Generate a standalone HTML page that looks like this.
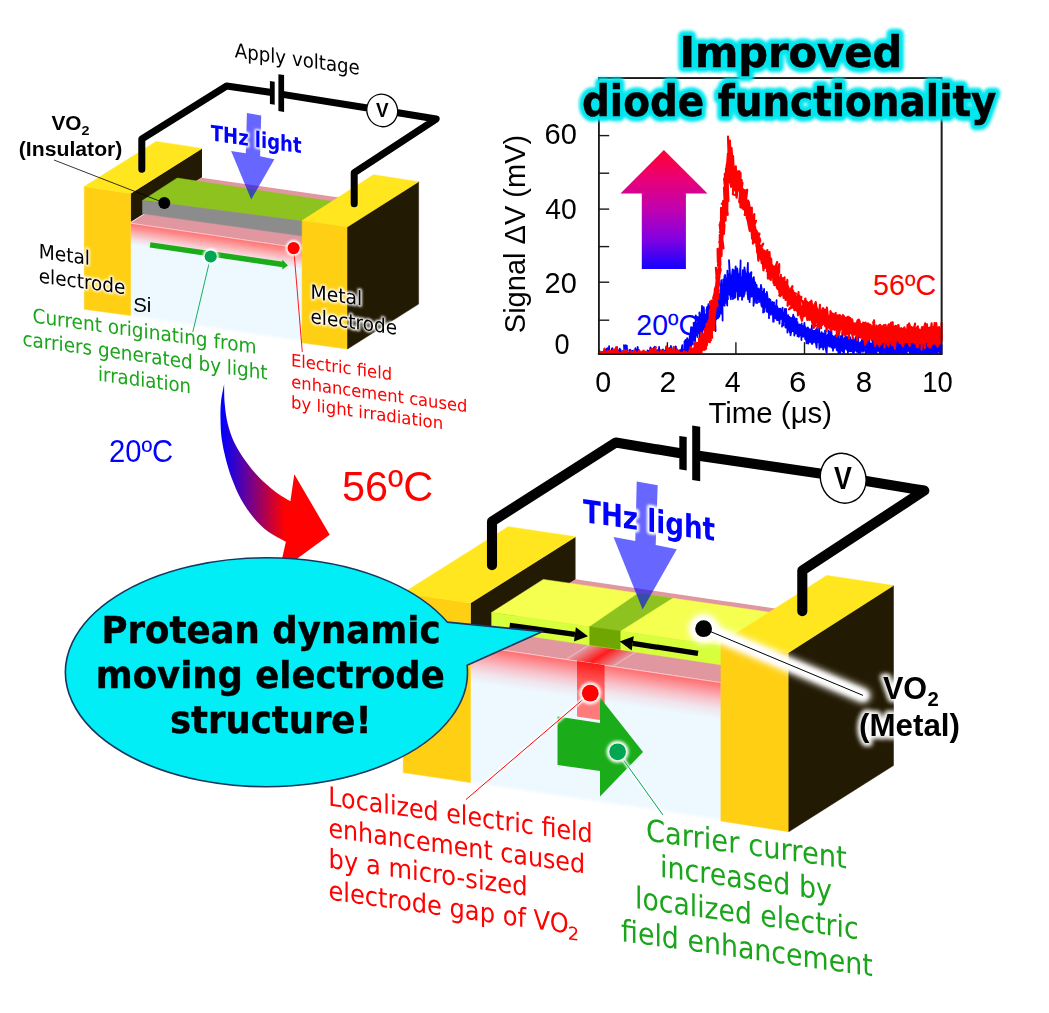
<!DOCTYPE html>
<html lang="en"><head><meta charset="utf-8"><title>Improved diode functionality</title>
<style>html,body{margin:0;padding:0;background:#fff}body{width:1049px;height:1013px;overflow:hidden}svg{display:block}</style>
</head><body>
<svg width="1049" height="1013" viewBox="0 0 1049 1013">
<defs>
<filter id="b08" x="-20%" y="-50%" width="140%" height="200%"><feGaussianBlur stdDeviation="0.8"/></filter>
<filter id="b1" x="-20%" y="-50%" width="140%" height="200%"><feGaussianBlur stdDeviation="1.2"/></filter>
<filter id="b15" x="-20%" y="-50%" width="140%" height="200%"><feGaussianBlur stdDeviation="1.5"/></filter>
<filter id="b2" x="-20%" y="-50%" width="140%" height="200%"><feGaussianBlur stdDeviation="2"/></filter>
<filter id="b3" x="-50%" y="-50%" width="200%" height="200%"><feGaussianBlur stdDeviation="3.5"/></filter>
<filter id="b5" x="-50%" y="-50%" width="200%" height="200%"><feGaussianBlur stdDeviation="5"/></filter>
<linearGradient id="gUp" x1="0" y1="0" x2="0" y2="1">
<stop offset="0" stop-color="#ff0033"/><stop offset="0.25" stop-color="#e80078"/><stop offset="0.5" stop-color="#c000b0"/><stop offset="0.75" stop-color="#8200e0"/><stop offset="1" stop-color="#1400ff"/>
</linearGradient>
<linearGradient id="gCurve" gradientUnits="userSpaceOnUse" x1="221.5" y1="0" x2="285" y2="0">
<stop offset="0" stop-color="#0000ff"/><stop offset="1" stop-color="#ff0000"/>
</linearGradient>
<linearGradient id="gSi" x1="0" y1="0" x2="0" y2="1">
<stop offset="0" stop-color="#ff7070"/><stop offset="0.06" stop-color="#fe9494"/><stop offset="0.115" stop-color="#fab8bd"/><stop offset="0.17" stop-color="#f4dce2"/><stop offset="0.225" stop-color="#edf8ff"/><stop offset="0.95" stop-color="#edf8ff"/><stop offset="1" stop-color="#ffffff"/>
</linearGradient>
<linearGradient id="gSi2" x1="0" y1="0" x2="0" y2="1">
<stop offset="0" stop-color="#ff6a6a"/><stop offset="0.07" stop-color="#fb9aa0"/><stop offset="0.13" stop-color="#f7c2ca"/><stop offset="0.195" stop-color="#f1e4ec"/><stop offset="0.265" stop-color="#edf8ff"/><stop offset="0.965" stop-color="#edf8ff"/><stop offset="1" stop-color="#ffffff"/>
</linearGradient>
<linearGradient id="gBand" x1="0" y1="0" x2="0" y2="1">
<stop offset="0" stop-color="#ff1a1a"/><stop offset="0.35" stop-color="#ff5a5a"/><stop offset="1" stop-color="#ff7070"/>
</linearGradient>
<linearGradient id="gGap" x1="0" y1="0" x2="1" y2="0">
<stop offset="0" stop-color="#ff2020" stop-opacity="0"/><stop offset="0.12" stop-color="#ff2020" stop-opacity="0.05"/><stop offset="0.5" stop-color="#ff1a1a" stop-opacity="1"/><stop offset="0.88" stop-color="#ff2020" stop-opacity="0.05"/><stop offset="1" stop-color="#ff2020" stop-opacity="0"/>
</linearGradient>
</defs>
<rect width="1049" height="1013" fill="#fff"/>
<g opacity="0.999">
<rect x="598.8" y="78.1" width="342.8" height="276.1" fill="#fff" stroke="#1a1a1a" stroke-width="1.6"/>
<line x1="598.8" y1="135.6" x2="609.1999999999999" y2="135.6" stroke="#1a1a1a" stroke-width="1.4"/>
<line x1="598.8" y1="173.2" x2="609.1999999999999" y2="173.2" stroke="#1a1a1a" stroke-width="1.4"/>
<line x1="598.8" y1="209.1" x2="609.1999999999999" y2="209.1" stroke="#1a1a1a" stroke-width="1.4"/>
<line x1="598.8" y1="246.6" x2="609.1999999999999" y2="246.6" stroke="#1a1a1a" stroke-width="1.4"/>
<line x1="598.8" y1="282.2" x2="609.1999999999999" y2="282.2" stroke="#1a1a1a" stroke-width="1.4"/>
<line x1="598.8" y1="320.2" x2="609.1999999999999" y2="320.2" stroke="#1a1a1a" stroke-width="1.4"/>
<line x1="667.4" y1="354.2" x2="667.4" y2="342.2" stroke="#1a1a1a" stroke-width="1.4"/>
<line x1="735.9" y1="354.2" x2="735.9" y2="342.2" stroke="#1a1a1a" stroke-width="1.4"/>
<line x1="804.5" y1="354.2" x2="804.5" y2="342.2" stroke="#1a1a1a" stroke-width="1.4"/>
<line x1="873.0" y1="354.2" x2="873.0" y2="342.2" stroke="#1a1a1a" stroke-width="1.4"/>
<polygon points="663.9,150.1 707.5,193.4 685.9,193.4 685.9,268.9 641.8,268.9 641.8,193.4 620.5,193.4" fill="url(#gUp)" />
<g transform="matrix(1,0.0000,0,1,636.3,334.6)">
<text font-family="'Liberation Sans','DejaVu Sans',sans-serif" font-size="28.6" font-weight="normal" text-anchor="start" textLength="62.7" lengthAdjust="spacingAndGlyphs" fill="#0000ff" >20ºC</text>
</g>
<path d="M598.8 353.8 L598.9 352.0 L599.0 352.6 L599.1 353.8 L599.0 353.8 L598.8 353.8 L598.8 353.8 L599.2 353.8 L599.8 353.8 L600.2 353.8 L599.4 351.0 L600.4 353.8 L599.0 353.8 L600.4 353.8 L599.4 353.8 L600.2 353.8 L599.6 353.8 L599.7 353.8 L600.0 353.8 L601.3 353.8 L600.1 353.8 L601.0 353.8 L600.8 353.8 L601.0 353.8 L601.0 353.8 L601.3 353.8 L600.3 353.8 L601.1 353.8 L601.4 353.8 L601.0 353.8 L601.6 353.8 L600.9 353.8 L602.0 353.8 L601.2 353.8 L601.6 353.8 L602.3 353.8 L602.5 353.8 L601.6 353.5 L601.7 353.8 L602.7 353.8 L600.9 353.8 L603.1 353.8 L603.2 353.2 L601.9 353.8 L603.3 353.8 L602.9 353.8 L603.0 353.8 L601.5 353.8 L602.6 353.8 L602.9 353.8 L602.9 351.8 L603.0 353.8 L603.1 353.8 L602.0 353.8 L603.3 353.8 L603.1 353.8 L603.6 353.8 L603.4 353.8 L603.8 353.8 L604.0 353.8 L605.0 353.8 L603.5 353.8 L605.1 353.8 L604.1 353.8 L603.8 353.8 L603.5 353.8 L605.0 353.8 L603.7 353.8 L605.2 353.8 L604.9 353.8 L604.5 353.3 L604.5 353.8 L605.3 353.8 L605.2 353.8 L605.6 352.4 L605.2 349.9 L605.0 353.8 L605.7 353.8 L604.8 353.8 L606.1 353.8 L605.7 353.8 L605.1 352.4 L605.2 353.8 L605.7 353.8 L604.9 352.2 L606.9 353.8 L606.7 353.8 L605.6 353.8 L606.3 353.8 L607.4 351.2 L606.8 348.7 L606.0 353.8 L605.4 353.8 L605.8 353.8 L607.6 350.9 L607.1 353.8 L606.3 353.8 L607.5 353.8 L607.0 353.8 L606.9 353.8 L607.1 353.8 L607.2 353.8 L608.5 353.8 L607.1 353.8 L607.5 353.8 L608.6 353.8 L608.8 353.8 L607.4 352.7 L609.3 353.8 L608.8 353.8 L607.3 352.1 L609.4 353.8 L607.5 348.3 L608.9 353.8 L607.9 353.8 L607.6 353.8 L609.2 352.1 L609.1 346.1 L608.9 353.8 L609.1 353.8 L609.0 353.8 L609.0 353.8 L608.6 353.8 L609.7 353.8 L609.4 353.8 L609.4 353.2 L609.3 353.8 L609.5 353.8 L608.9 353.8 L609.7 353.8 L609.4 353.8 L610.8 353.8 L609.5 353.8 L609.9 353.8 L610.3 353.8 L610.8 353.8 L610.7 352.1 L610.6 353.8 L611.9 353.6 L610.7 353.8 L611.0 353.8 L612.2 353.8 L610.4 353.8 L611.6 353.8 L611.4 353.8 L610.4 353.8 L610.9 353.8 L611.9 353.8 L610.6 353.8 L611.5 353.8 L612.2 353.8 L611.6 353.3 L612.0 353.8 L611.5 353.8 L611.6 353.8 L611.7 348.8 L612.0 353.8 L612.6 349.7 L612.4 348.2 L613.6 353.8 L612.8 353.8 L612.8 353.8 L614.0 353.8 L612.7 353.8 L612.4 353.8 L613.0 353.8 L612.4 353.8 L613.4 353.8 L614.0 353.8 L613.7 353.8 L613.1 353.8 L613.4 353.8 L613.8 353.8 L614.3 353.8 L613.5 353.8 L613.6 353.8 L614.5 353.8 L614.1 353.8 L614.3 353.8 L614.4 353.8 L613.8 353.8 L614.2 353.8 L615.0 353.8 L614.4 353.8 L614.5 353.8 L614.8 353.8 L615.0 353.8 L616.1 353.8 L614.4 353.8 L615.1 353.8 L616.3 353.8 L615.2 353.8 L615.5 352.2 L614.5 353.8 L616.0 353.8 L616.0 353.8 L616.1 353.8 L615.6 349.9 L616.0 353.8 L615.8 353.8 L616.5 353.8 L616.0 353.8 L616.6 353.8 L615.4 353.7 L616.1 353.8 L615.1 353.8 L616.4 353.8 L617.0 353.8 L616.5 353.8 L618.0 353.8 L616.2 353.8 L616.7 353.8 L616.4 353.8 L616.8 353.8 L616.9 353.8 L616.4 353.8 L616.7 350.3 L618.6 353.8 L617.3 353.8 L618.1 353.8 L616.9 353.8 L617.7 353.8 L618.2 353.8 L617.8 353.8 L617.7 353.8 L618.0 353.8 L618.2 353.8 L618.8 353.8 L619.1 353.8 L617.6 353.8 L617.3 353.8 L618.5 350.5 L618.7 353.8 L619.2 353.3 L619.5 353.8 L618.6 353.8 L620.3 353.8 L619.3 353.8 L618.1 353.8 L619.9 353.8 L619.5 353.8 L619.6 353.8 L618.6 353.8 L619.5 353.8 L619.8 353.8 L619.7 353.8 L620.3 353.8 L620.7 350.2 L621.0 353.8 L620.9 353.8 L620.1 353.8 L621.3 353.8 L620.6 353.5 L621.0 353.8 L620.4 353.8 L619.8 348.7 L619.4 353.8 L620.9 353.8 L620.5 353.8 L621.0 352.4 L621.6 353.8 L620.3 353.8 L620.2 351.1 L621.5 353.8 L621.7 353.8 L621.4 353.8 L621.3 353.8 L620.7 352.6 L621.7 353.8 L621.4 353.8 L622.2 353.8 L622.6 353.8 L621.8 353.8 L622.5 353.8 L622.4 353.8 L622.8 353.8 L623.4 353.8 L622.9 353.8 L623.1 353.8 L623.2 353.8 L622.5 352.8 L622.9 353.8 L623.2 353.8 L623.8 353.8 L623.9 353.8 L624.6 353.8 L622.7 351.1 L623.4 353.8 L622.5 353.8 L623.3 353.8 L622.7 353.8 L624.4 353.8 L624.3 353.8 L623.3 353.8 L624.2 353.8 L624.5 352.1 L625.2 353.8 L624.8 353.8 L624.4 353.8 L624.4 353.8 L624.9 353.8 L624.8 353.8 L624.4 353.8 L624.0 345.2 L625.5 353.8 L624.5 353.8 L624.9 353.8 L625.6 353.8 L625.2 353.8 L626.0 353.8 L624.7 353.8 L625.9 353.8 L624.8 350.6 L624.7 353.8 L625.1 353.8 L625.9 345.2 L625.5 353.8 L625.2 353.8 L626.8 353.8 L625.6 353.8 L626.2 353.8 L626.5 353.8 L626.1 353.8 L626.7 353.8 L626.9 345.8 L626.6 352.4 L627.4 353.8 L626.5 353.8 L626.3 353.8 L627.1 353.8 L626.5 353.8 L627.4 349.2 L627.2 353.8 L627.1 353.8 L627.8 353.8 L627.8 353.8 L626.3 353.8 L627.5 352.3 L627.9 353.8 L628.2 353.8 L627.6 352.4 L627.3 353.8 L628.2 353.8 L628.6 353.8 L627.1 353.8 L627.5 353.8 L628.1 353.8 L627.2 353.6 L628.3 353.8 L629.2 353.8 L628.2 353.5 L629.0 353.8 L628.4 353.8 L629.3 353.8 L629.5 353.8 L630.0 353.8 L629.4 350.7 L630.0 349.6 L629.7 351.6 L629.3 353.8 L630.5 353.8 L629.4 353.8 L629.9 353.8 L631.2 353.8 L630.5 353.8 L629.6 353.8 L630.3 353.8 L629.9 353.8 L630.3 353.8 L629.5 353.8 L630.6 353.8 L629.7 353.8 L630.9 353.8 L631.0 353.8 L631.4 353.8 L632.3 353.8 L630.0 353.8 L630.4 353.8 L630.6 350.1 L630.9 353.8 L631.9 353.7 L631.3 353.8 L631.2 353.8 L631.0 353.8 L631.3 353.8 L631.5 353.8 L631.8 353.8 L631.1 353.8 L632.0 353.8 L632.5 353.8 L632.4 350.8 L631.6 353.8 L632.9 353.8 L633.0 353.8 L632.8 353.8 L631.9 353.8 L631.9 353.8 L632.9 351.0 L632.3 353.8 L632.2 353.8 L633.6 353.8 L633.7 353.8 L633.6 353.8 L634.1 353.8 L634.0 353.8 L632.8 353.8 L634.3 353.8 L633.8 353.8 L634.0 353.8 L634.8 353.8 L634.2 351.5 L635.0 353.8 L634.2 352.4 L634.0 353.8 L633.9 353.8 L634.3 353.8 L633.5 353.8 L634.5 353.8 L634.6 353.8 L634.4 353.8 L633.5 353.8 L633.6 353.8 L635.4 353.8 L634.5 353.8 L636.0 353.8 L634.8 353.8 L635.5 353.8 L634.5 353.8 L635.1 353.8 L635.4 348.1 L636.0 353.8 L636.8 349.7 L636.4 353.8 L635.0 353.8 L636.0 353.8 L636.0 353.8 L635.8 352.2 L636.6 353.8 L637.3 353.8 L636.2 353.8 L637.2 353.8 L637.4 353.8 L636.1 353.8 L637.8 353.8 L637.9 353.8 L637.1 353.8 L638.1 353.5 L637.3 352.0 L637.9 353.8 L637.7 353.8 L636.9 353.8 L637.6 353.8 L637.4 353.8 L637.3 353.3 L637.0 350.4 L637.3 353.8 L637.1 353.8 L638.7 353.8 L636.9 353.8 L638.2 353.8 L637.9 353.8 L637.6 347.0 L638.8 353.8 L638.0 353.8 L639.3 353.8 L638.6 353.8 L638.9 353.8 L638.8 350.6 L639.3 353.8 L639.6 353.8 L638.8 353.8 L639.2 353.8 L640.3 353.8 L639.0 352.0 L640.5 353.8 L639.3 353.8 L639.3 353.8 L638.7 353.8 L639.3 353.8 L638.8 353.4 L639.6 353.8 L640.4 353.7 L640.1 353.8 L639.8 353.8 L639.7 353.8 L640.0 353.8 L639.6 353.8 L639.8 353.8 L641.8 353.5 L640.9 353.8 L640.3 353.8 L641.3 353.8 L641.9 353.8 L640.7 352.8 L641.1 353.8 L640.5 353.8 L640.4 353.8 L642.2 352.9 L642.8 353.8 L641.1 353.8 L640.7 353.8 L642.6 353.8 L642.5 353.8 L642.2 353.8 L642.9 353.8 L641.9 353.8 L642.3 353.8 L642.7 353.8 L642.2 353.8 L642.7 353.8 L642.4 353.5 L642.9 353.8 L642.8 353.8 L641.6 353.8 L642.9 353.8 L642.1 353.8 L642.5 353.8 L642.1 351.6 L643.7 353.8 L643.1 353.8 L643.1 353.8 L644.2 353.8 L644.0 352.4 L643.5 353.4 L642.5 353.8 L644.2 353.8 L643.7 353.8 L643.8 353.8 L644.5 353.8 L643.8 353.1 L644.2 353.8 L644.8 353.8 L644.7 353.8 L644.1 353.8 L645.4 353.8 L645.3 353.8 L645.9 353.8 L644.8 353.8 L645.0 353.8 L645.6 353.3 L645.4 353.8 L645.3 353.8 L645.2 353.8 L645.2 353.8 L645.0 353.8 L645.1 353.6 L645.8 353.2 L645.5 353.3 L644.9 353.8 L645.9 353.8 L646.9 353.3 L646.8 353.8 L644.9 353.8 L645.7 352.1 L646.8 353.8 L646.4 353.8 L646.5 353.8 L646.5 353.8 L646.7 353.8 L646.1 353.8 L647.5 353.8 L646.3 353.8 L646.9 353.8 L648.0 353.8 L647.8 353.8 L647.2 353.8 L647.3 353.8 L647.0 353.8 L647.2 353.8 L647.4 353.8 L648.5 353.8 L647.5 350.3 L648.2 353.8 L648.2 352.4 L648.3 353.8 L647.9 353.8 L648.6 353.8 L648.4 353.8 L648.4 353.8 L648.2 353.8 L647.2 352.1 L649.0 353.8 L649.2 353.8 L648.5 353.8 L648.8 351.0 L649.1 353.8 L648.5 353.8 L649.6 353.8 L649.6 353.8 L649.8 353.8 L649.9 353.8 L648.3 353.8 L649.9 353.8 L649.4 353.8 L650.4 347.5 L650.5 353.8 L650.4 353.8 L649.9 353.8 L651.4 353.8 L650.1 353.8 L649.6 350.6 L650.9 353.8 L649.6 353.8 L651.7 353.8 L651.2 353.8 L651.5 350.7 L651.4 349.1 L651.1 353.8 L650.2 350.1 L650.7 353.8 L651.5 353.8 L651.1 351.3 L651.5 353.8 L651.0 353.8 L651.0 351.2 L651.7 352.3 L652.1 353.8 L651.7 353.8 L651.2 353.8 L650.9 353.1 L653.2 353.8 L651.4 353.8 L651.6 353.8 L651.8 353.8 L652.8 353.8 L651.9 350.6 L652.8 353.8 L652.7 353.8 L652.0 353.8 L652.8 352.7 L652.1 353.8 L652.8 353.8 L653.4 353.8 L652.9 353.8 L652.6 353.8 L653.0 353.8 L653.2 353.8 L653.6 353.8 L652.2 353.8 L652.5 353.8 L654.0 353.8 L653.7 353.8 L653.8 353.8 L654.0 347.6 L653.9 353.8 L653.8 353.8 L654.2 351.5 L654.7 353.8 L654.5 353.8 L654.4 353.8 L653.9 353.8 L654.7 346.7 L654.0 353.8 L654.4 352.7 L654.9 353.8 L655.0 353.8 L655.7 353.8 L655.6 353.6 L655.5 353.8 L655.1 353.8 L655.4 353.1 L655.3 353.8 L656.6 353.0 L655.9 351.5 L655.3 353.8 L655.3 353.8 L656.6 353.8 L655.5 353.8 L656.3 353.8 L656.3 353.8 L656.9 353.8 L655.8 353.8 L656.7 353.8 L656.6 353.8 L657.0 353.8 L657.5 353.8 L656.8 353.8 L656.7 353.8 L657.4 353.8 L656.2 353.8 L657.2 350.2 L656.6 353.8 L656.5 353.8 L656.4 351.8 L656.5 350.5 L658.0 353.8 L658.1 353.8 L657.8 353.8 L658.4 353.8 L657.9 353.8 L657.7 351.0 L657.4 353.8 L658.6 353.8 L658.7 353.8 L659.0 353.8 L657.9 353.8 L658.3 353.8 L657.8 353.8 L659.3 353.8 L659.1 346.9 L659.1 353.8 L658.9 353.8 L658.9 348.6 L658.9 353.8 L659.8 353.8 L658.9 353.8 L659.9 353.8 L659.6 353.8 L658.9 353.8 L658.7 353.8 L659.2 353.8 L659.7 353.8 L659.1 353.8 L660.3 352.9 L660.7 353.8 L660.4 353.8 L659.2 348.7 L658.9 353.8 L660.9 351.3 L661.3 352.2 L660.3 353.8 L660.9 353.8 L660.5 353.8 L660.4 353.8 L661.5 353.8 L660.6 353.8 L661.6 352.7 L662.2 351.8 L661.1 353.8 L662.4 351.6 L660.6 353.8 L662.0 353.8 L661.6 353.8 L663.0 349.4 L661.8 353.8 L661.3 353.8 L662.9 353.8 L661.1 353.8 L662.3 353.8 L661.7 353.8 L663.1 353.8 L662.3 353.8 L662.9 353.8 L662.5 353.8 L661.9 353.8 L661.4 353.8 L663.8 353.8 L663.0 353.8 L662.2 353.8 L662.8 353.8 L663.7 353.8 L662.3 353.8 L664.6 353.8 L663.2 353.8 L663.2 353.8 L664.3 353.8 L663.7 353.8 L663.1 353.8 L664.3 350.7 L664.1 353.8 L664.6 353.8 L663.5 352.1 L663.5 353.8 L664.6 353.8 L664.0 353.8 L663.1 353.8 L664.1 353.8 L664.9 352.7 L664.2 353.8 L665.5 351.9 L664.5 353.8 L664.8 353.8 L664.0 353.8 L664.6 353.8 L665.0 353.8 L665.6 353.8 L665.4 353.8 L666.0 353.8 L664.2 353.8 L665.6 353.8 L665.6 353.8 L665.1 353.8 L665.8 353.8 L665.5 353.8 L666.3 346.5 L665.9 353.8 L666.5 353.8 L665.7 352.5 L667.1 352.9 L666.7 353.8 L667.6 353.8 L666.5 353.8 L666.4 353.1 L666.9 353.8 L666.6 353.8 L666.3 353.8 L667.0 352.7 L667.1 353.8 L666.8 353.8 L667.1 353.8 L666.8 348.0 L667.5 349.7 L666.7 353.8 L668.7 353.8 L667.7 353.8 L668.4 353.8 L667.2 353.8 L668.2 353.8 L668.0 353.8 L668.7 353.8 L668.8 353.8 L667.3 353.8 L669.1 353.8 L667.6 353.8 L669.4 353.8 L668.6 353.8 L668.0 353.8 L669.3 352.8 L668.9 353.8 L668.4 353.8 L668.6 353.8 L669.5 348.1 L668.4 353.8 L668.8 353.8 L670.5 353.8 L669.1 353.8 L669.8 353.8 L670.0 353.8 L670.4 353.8 L670.4 353.8 L668.6 353.8 L669.7 353.8 L670.8 353.8 L669.7 353.8 L671.4 353.8 L670.5 353.8 L669.7 353.8 L670.9 346.0 L671.8 353.8 L670.3 353.5 L671.1 349.1 L670.4 353.8 L670.6 353.8 L671.1 353.5 L671.5 350.4 L671.4 353.8 L671.4 353.8 L672.7 353.8 L670.8 353.8 L670.5 353.1 L672.0 353.8 L671.9 353.8 L671.0 353.8 L673.0 353.8 L671.6 353.8 L671.2 353.8 L672.4 353.8 L672.7 353.3 L673.7 353.8 L671.5 353.8 L671.8 353.8 L672.4 351.4 L672.4 353.8 L672.7 353.8 L672.4 353.8 L672.0 353.8 L672.8 353.0 L673.6 353.8 L673.7 353.8 L672.9 353.8 L673.7 353.8 L673.7 353.8 L673.3 348.2 L673.4 353.8 L673.8 353.8 L675.1 353.8 L674.0 353.8 L673.4 353.8 L674.0 353.8 L673.8 353.7 L674.9 353.8 L673.0 353.8 L673.7 353.8 L675.0 353.8 L674.8 353.8 L674.7 353.8 L675.2 353.8 L674.0 351.7 L675.1 353.8 L674.3 353.8 L674.3 351.7 L675.5 353.8 L674.8 353.8 L675.1 353.8 L675.8 353.8 L674.9 352.5 L676.0 348.1 L677.0 353.8 L675.7 346.5 L676.5 350.9 L676.4 353.8 L675.3 353.8 L675.3 346.7 L676.2 353.8 L675.0 353.8 L676.4 353.8 L676.6 353.8 L676.8 353.8 L676.9 353.8 L677.5 353.8 L676.6 353.8 L677.7 353.8 L677.3 352.1 L677.4 353.8 L677.1 353.8 L677.8 353.8 L676.9 353.8 L677.9 353.8 L678.2 353.8 L677.2 353.8 L677.1 353.8 L677.3 353.8 L677.8 353.8 L678.2 353.8 L678.6 353.8 L679.3 353.8 L679.2 353.8 L678.4 353.8 L678.1 353.8 L677.7 353.8 L679.0 353.8 L678.9 353.8 L678.5 353.8 L678.7 353.8 L678.8 353.8 L677.6 353.8 L679.0 353.8 L679.3 353.8 L679.1 353.8 L678.7 353.8 L679.4 351.6 L679.8 353.8 L680.7 353.8 L680.3 352.3 L680.1 353.8 L679.8 353.8 L679.1 353.8 L679.7 352.9 L679.2 353.8 L680.1 353.8 L680.9 353.8 L681.0 350.3 L681.0 350.9 L680.5 352.8 L681.2 353.8 L680.5 352.5 L679.6 353.8 L680.9 353.8 L681.0 350.0 L680.0 353.8 L680.8 353.8 L679.9 350.2 L681.0 353.8 L682.1 353.2 L681.1 353.8 L682.3 353.8 L681.8 353.8 L681.3 353.8 L680.7 353.8 L682.3 345.1 L682.4 353.8 L681.1 353.8 L681.9 349.8 L682.9 353.8 L681.9 352.5 L682.6 353.8 L681.3 353.8 L682.0 353.8 L683.1 352.1 L682.0 353.6 L681.9 353.8 L682.1 353.8 L682.8 353.8 L682.1 350.5 L683.1 351.9 L683.6 351.9 L684.3 353.8 L683.2 353.8 L684.5 353.8 L683.9 353.8 L683.5 353.8 L684.1 351.5 L684.8 353.8 L684.8 353.8 L684.5 353.8 L684.1 352.1 L684.7 352.4 L684.4 353.0 L684.5 341.4 L684.6 353.7 L685.6 351.7 L683.9 353.8 L684.7 353.8 L684.1 349.5 L685.4 349.1 L685.6 352.6 L685.9 349.8 L684.9 351.4 L685.3 353.8 L685.8 353.8 L685.5 339.9 L685.7 347.1 L685.7 351.4 L685.8 353.8 L685.7 353.8 L686.1 344.1 L685.0 353.8 L685.7 352.2 L685.3 346.2 L686.1 349.7 L685.8 346.6 L686.7 350.8 L687.2 338.2 L685.8 353.8 L686.1 353.8 L686.9 348.4 L687.6 342.6 L687.3 349.9 L687.2 344.3 L687.0 352.0 L686.8 353.8 L687.4 342.2 L687.6 341.3 L687.5 341.3 L687.1 351.0 L686.6 353.8 L687.1 353.8 L687.5 349.7 L687.1 345.5 L688.1 345.8 L687.1 353.8 L687.9 347.0 L688.4 347.7 L688.7 347.1 L688.5 347.4 L689.1 348.1 L688.1 343.9 L688.1 346.0 L689.3 345.3 L688.2 349.6 L688.7 343.9 L687.9 346.3 L689.7 353.8 L689.5 342.8 L688.7 346.3 L688.2 340.1 L689.5 345.4 L689.6 344.8 L690.2 343.0 L690.7 343.9 L689.8 345.9 L689.6 352.4 L689.7 333.9 L689.8 350.9 L689.2 344.4 L689.6 339.2 L690.1 340.3 L689.3 339.2 L689.6 337.9 L691.2 335.2 L690.1 339.8 L691.1 327.2 L691.4 346.0 L690.8 339.5 L691.4 342.2 L690.9 342.9 L690.5 338.5 L691.1 332.4 L691.3 343.1 L691.4 342.9 L691.4 335.4 L691.2 336.1 L692.2 328.7 L691.5 333.2 L691.5 337.0 L692.4 339.6 L691.3 336.6 L692.0 338.3 L693.0 344.1 L692.2 336.9 L693.1 337.6 L692.2 337.7 L692.1 338.5 L692.4 327.5 L692.3 332.3 L692.5 330.8 L692.5 338.5 L693.3 340.4 L693.2 336.4 L692.9 333.4 L692.7 336.2 L694.5 335.2 L693.2 329.1 L694.2 332.2 L692.7 338.6 L693.1 335.5 L694.4 336.4 L693.1 331.9 L693.2 338.6 L693.9 333.3 L693.5 328.6 L693.9 331.8 L694.2 336.4 L694.8 334.6 L694.4 330.6 L694.6 328.6 L695.3 326.5 L695.4 331.3 L694.4 337.1 L693.6 322.8 L694.2 328.4 L695.6 327.7 L694.7 328.1 L694.7 334.9 L694.9 331.1 L696.2 328.0 L695.4 323.9 L695.2 328.8 L695.1 343.3 L694.9 330.1 L697.0 326.9 L695.8 321.9 L696.0 324.8 L695.8 315.3 L696.7 320.8 L695.5 321.1 L695.0 323.1 L695.9 335.3 L696.6 323.4 L697.8 324.5 L696.5 330.4 L696.1 324.4 L696.6 325.2 L696.3 329.8 L696.4 327.8 L697.0 328.5 L697.2 325.7 L696.8 329.1 L697.9 323.8 L697.3 337.0 L697.5 328.0 L697.2 335.5 L697.8 328.9 L697.9 323.3 L698.2 325.9 L697.3 326.5 L698.3 325.4 L697.7 317.0 L698.2 331.7 L698.6 320.5 L699.2 333.7 L698.1 327.8 L697.8 324.2 L698.6 329.7 L699.3 323.7 L698.5 320.7 L700.1 331.3 L697.7 325.0 L699.9 326.5 L699.7 335.2 L699.8 325.2 L698.7 328.6 L700.1 316.4 L700.1 328.8 L700.2 314.1 L699.4 326.6 L699.5 312.5 L700.5 320.3 L700.0 320.7 L699.7 318.5 L699.5 317.9 L700.2 314.9 L699.3 312.9 L700.6 324.7 L700.4 329.8 L699.5 337.9 L700.8 324.6 L701.3 317.8 L700.8 319.9 L700.0 321.3 L700.5 323.9 L701.4 325.5 L700.2 323.3 L700.9 319.3 L701.9 331.8 L701.1 317.0 L701.0 329.8 L701.9 322.0 L702.5 324.7 L701.9 323.0 L700.9 327.0 L700.8 327.6 L701.7 322.1 L700.9 327.2 L702.0 306.0 L702.7 323.2 L700.9 324.6 L702.2 323.9 L702.6 327.1 L702.1 335.4 L702.8 322.1 L702.9 318.7 L703.4 329.6 L704.1 320.5 L703.1 327.8 L702.4 320.7 L702.4 318.3 L702.4 317.5 L703.7 317.8 L703.5 324.7 L703.7 315.0 L703.6 323.1 L704.5 318.2 L704.3 316.0 L704.4 322.2 L703.4 328.2 L703.7 316.4 L703.2 327.1 L703.7 325.7 L704.2 327.0 L703.5 314.9 L704.0 321.1 L705.7 334.1 L704.4 315.5 L703.7 307.1 L703.9 308.7 L704.7 323.6 L705.4 319.5 L704.9 316.8 L705.6 314.3 L705.3 319.7 L704.5 326.8 L705.9 315.1 L705.1 315.9 L706.6 328.3 L705.2 322.2 L705.6 318.1 L705.4 319.8 L705.6 316.4 L706.2 314.6 L705.9 316.2 L706.8 320.4 L706.4 328.3 L707.2 315.7 L706.4 310.6 L707.2 306.8 L707.2 319.8 L706.5 319.8 L708.0 310.1 L707.7 310.1 L707.2 317.3 L706.8 314.8 L707.0 324.4 L707.0 315.6 L707.4 324.8 L706.6 320.3 L707.4 320.2 L707.1 322.4 L708.5 333.2 L708.1 324.7 L708.7 317.1 L709.1 319.6 L708.2 321.8 L709.2 316.3 L708.3 314.6 L708.5 313.5 L707.7 324.5 L708.4 319.0 L709.3 321.3 L708.8 325.0 L708.3 329.1 L708.7 319.6 L708.3 324.7 L708.4 304.1 L708.0 319.2 L709.7 319.9 L709.7 321.0 L709.1 305.4 L708.4 324.4 L709.2 319.0 L710.6 323.0 L708.7 318.5 L709.3 317.8 L709.4 309.9 L710.3 327.0 L709.1 317.3 L710.1 306.0 L709.5 320.5 L709.9 318.1 L709.5 322.8 L710.6 334.7 L710.1 317.2 L710.1 308.2 L711.2 319.5 L710.8 328.9 L712.0 314.1 L711.1 315.3 L710.9 308.7 L711.0 309.2 L712.3 317.4 L711.9 312.6 L711.1 327.9 L711.5 307.3 L711.1 313.7 L711.9 307.2 L711.3 307.2 L711.3 316.7 L712.0 315.6 L712.7 320.6 L712.4 328.9 L712.5 315.1 L712.1 312.9 L710.8 321.6 L712.2 308.7 L712.2 313.0 L712.8 310.3 L713.6 318.9 L713.1 326.0 L711.6 307.6 L712.8 308.6 L712.7 313.7 L713.4 315.8 L713.0 314.7 L712.0 313.5 L712.6 316.1 L713.1 326.9 L712.1 306.5 L713.4 323.0 L713.4 314.4 L714.3 314.1 L713.6 309.8 L713.4 323.4 L713.8 302.6 L714.0 306.5 L714.6 305.5 L713.6 301.7 L712.9 316.8 L715.6 331.0 L714.8 308.2 L714.5 300.9 L715.8 301.8 L713.9 314.3 L714.2 310.9 L714.5 307.9 L715.2 323.4 L714.7 314.8 L715.5 314.4 L714.9 297.7 L716.0 314.3 L715.6 297.5 L714.4 309.1 L715.5 321.6 L714.9 292.2 L715.6 316.1 L715.8 304.0 L717.1 295.6 L715.8 312.5 L715.0 317.6 L716.2 300.3 L715.5 307.5 L717.4 317.3 L716.8 316.0 L717.4 310.6 L716.3 300.2 L716.0 309.6 L716.9 302.3 L715.9 294.5 L716.3 297.3 L716.5 295.9 L716.9 297.3 L716.2 319.1 L715.9 297.1 L718.2 303.9 L717.0 307.3 L717.3 314.6 L717.9 318.4 L717.9 314.6 L717.3 306.0 L717.5 314.9 L718.9 312.0 L718.7 310.3 L718.5 300.1 L719.2 307.5 L717.1 306.2 L718.4 294.6 L718.2 307.4 L717.3 300.0 L718.8 312.9 L719.1 301.9 L718.9 303.4 L717.7 302.8 L718.8 307.8 L719.1 312.1 L719.0 306.1 L719.4 307.3 L719.6 295.2 L720.2 296.0 L719.6 312.6 L720.8 297.9 L719.7 306.6 L719.9 298.9 L720.3 306.2 L719.8 314.0 L719.8 293.9 L720.8 298.2 L718.8 311.6 L719.1 316.8 L721.6 305.7 L720.8 310.8 L720.8 304.0 L720.8 295.8 L720.8 288.8 L720.2 303.4 L720.6 289.2 L720.3 290.7 L721.7 303.6 L721.5 313.5 L721.3 292.7 L721.5 294.5 L721.3 280.1 L720.7 287.4 L722.6 292.6 L722.0 285.0 L721.6 307.3 L722.1 296.9 L722.6 300.6 L722.7 283.8 L722.4 293.3 L722.6 320.6 L722.1 286.3 L723.1 305.0 L723.0 290.8 L723.0 301.1 L721.7 294.9 L723.0 291.5 L723.1 295.0 L723.3 304.4 L721.5 284.5 L721.8 292.7 L723.2 296.0 L722.6 289.8 L723.5 300.0 L723.3 279.5 L723.9 293.3 L723.1 291.9 L722.9 291.9 L724.0 302.4 L723.6 304.5 L723.1 292.5 L722.7 291.2 L725.3 282.6 L723.8 290.0 L724.0 302.9 L723.0 289.0 L723.7 286.2 L724.3 284.6 L724.7 290.1 L725.1 303.3 L724.2 282.7 L725.0 298.8 L725.5 287.4 L724.6 305.7 L725.0 285.4 L724.0 298.6 L724.7 282.3 L724.4 276.2 L725.8 281.2 L725.3 301.3 L726.5 299.2 L725.7 298.4 L726.2 284.9 L726.1 287.5 L726.0 288.9 L725.3 287.4 L727.1 284.9 L726.1 284.1 L725.1 274.8 L725.9 290.0 L725.7 287.5 L727.2 305.5 L727.2 300.6 L727.6 294.9 L728.0 299.1 L726.4 286.5 L725.7 279.1 L726.4 292.0 L727.3 292.3 L725.8 292.4 L726.9 286.5 L727.8 292.4 L726.9 283.6 L727.4 284.5 L727.0 284.0 L728.7 280.1 L729.0 286.4 L727.2 285.3 L727.4 270.6 L728.1 286.6 L728.5 278.9 L728.5 285.4 L728.7 289.9 L729.0 289.7 L729.2 292.8 L729.7 285.1 L728.8 290.5 L728.5 288.7 L728.8 273.7 L730.2 285.8 L729.5 274.1 L729.5 281.8 L730.0 276.3 L730.0 289.7 L730.6 282.8 L729.0 260.2 L729.7 276.6 L730.1 275.0 L730.2 281.9 L729.6 276.2 L728.9 294.5 L729.8 291.6 L729.6 280.1 L730.1 276.5 L730.9 287.6 L730.7 285.6 L729.7 287.1 L730.0 285.5 L730.7 294.6 L731.3 296.7 L730.7 284.5 L730.9 299.3 L729.9 292.5 L730.7 289.6 L730.6 293.1 L731.3 281.6 L731.1 287.7 L730.8 284.4 L730.7 292.7 L731.6 290.3 L731.1 279.1 L732.3 280.4 L731.8 287.8 L731.6 280.4 L732.5 281.9 L731.2 282.2 L732.6 269.5 L731.7 287.1 L732.7 279.8 L731.9 279.8 L731.8 285.6 L731.3 293.7 L732.6 277.4 L732.9 281.2 L731.9 283.0 L733.9 283.2 L732.9 283.2 L732.3 291.2 L734.3 280.8 L732.9 299.1 L734.1 283.6 L732.0 296.4 L734.7 286.4 L733.6 277.1 L733.6 285.6 L733.9 287.5 L733.0 278.8 L734.4 285.6 L734.2 286.8 L734.2 286.7 L733.7 270.1 L733.5 277.5 L734.5 279.0 L734.9 293.5 L734.5 277.8 L734.4 294.3 L734.3 279.0 L735.1 292.7 L735.7 266.3 L734.8 297.6 L734.4 272.6 L736.3 276.2 L734.1 298.2 L735.4 285.1 L735.2 270.6 L736.2 273.3 L735.4 297.1 L734.5 287.4 L734.9 292.9 L735.8 291.6 L735.8 288.3 L735.5 267.2 L735.6 281.7 L735.1 284.8 L735.2 285.7 L735.8 277.2 L735.9 277.0 L736.3 290.7 L735.8 270.5 L737.5 292.1 L735.6 285.3 L737.3 279.2 L737.2 268.5 L737.9 285.9 L737.9 280.6 L736.3 272.1 L737.4 277.8 L737.7 273.6 L737.9 274.3 L737.8 280.9 L737.2 277.8 L738.4 275.4 L737.6 283.3 L737.5 269.8 L738.0 299.7 L737.7 290.8 L737.6 271.1 L738.2 279.6 L739.5 288.5 L738.5 280.0 L738.4 274.1 L738.2 287.8 L738.8 276.8 L737.9 284.2 L739.0 284.1 L739.0 283.8 L739.0 274.1 L739.3 292.5 L739.0 286.3 L739.6 277.8 L739.6 293.3 L739.7 296.3 L739.4 278.6 L740.1 283.3 L739.5 284.5 L740.5 282.2 L739.7 291.3 L740.6 260.4 L740.1 291.4 L740.0 286.9 L739.5 295.0 L740.6 286.8 L740.5 271.0 L740.4 283.2 L740.7 278.6 L740.6 287.3 L740.1 268.7 L740.0 282.1 L741.2 293.6 L741.0 277.2 L741.9 286.5 L742.3 278.6 L741.7 282.4 L741.6 281.4 L741.7 282.4 L741.5 290.8 L741.1 295.6 L740.2 275.7 L742.1 284.7 L742.1 281.3 L741.9 287.3 L742.0 299.8 L742.6 293.8 L742.7 272.5 L742.3 289.9 L742.1 286.7 L742.7 295.3 L742.9 287.9 L743.8 286.6 L742.0 285.5 L743.0 284.3 L742.2 288.7 L742.6 288.3 L744.2 283.9 L742.8 281.2 L743.0 284.9 L742.8 270.1 L743.8 282.2 L743.1 282.6 L742.4 289.0 L743.6 275.8 L744.1 291.9 L743.7 296.6 L743.9 291.5 L743.5 279.1 L743.4 292.9 L744.1 273.8 L743.4 284.1 L744.0 295.8 L743.7 285.7 L744.2 270.1 L745.0 290.7 L744.5 294.2 L745.3 280.0 L745.0 273.9 L744.7 276.2 L744.3 286.6 L745.1 282.6 L744.4 281.6 L745.6 275.0 L744.4 267.5 L744.5 284.9 L744.9 274.1 L744.5 286.8 L745.6 279.6 L745.2 291.3 L745.5 290.0 L746.2 281.0 L744.6 291.0 L745.9 277.4 L746.3 288.4 L746.8 283.6 L746.3 284.9 L745.9 286.8 L747.0 283.3 L747.1 276.1 L747.9 263.0 L748.0 293.2 L746.7 282.0 L747.7 285.6 L747.1 291.1 L746.4 282.2 L747.6 290.9 L748.0 284.9 L745.9 275.2 L748.2 299.3 L747.0 282.5 L748.5 281.1 L747.8 291.4 L747.8 280.6 L748.7 281.8 L747.7 287.0 L749.3 275.6 L747.5 293.9 L747.8 279.8 L747.6 286.1 L748.7 292.0 L748.4 285.7 L749.0 287.0 L749.3 278.7 L749.2 295.1 L749.4 285.9 L749.5 287.7 L748.9 273.5 L748.5 292.4 L748.5 277.1 L749.6 296.9 L748.9 282.2 L748.7 285.6 L748.9 282.0 L749.4 289.5 L749.7 298.1 L749.5 295.3 L749.1 275.8 L750.2 283.5 L748.6 290.9 L749.8 279.0 L750.7 290.3 L750.3 290.4 L751.0 293.7 L750.4 277.6 L750.8 272.5 L750.5 292.2 L750.3 284.0 L750.9 279.5 L751.4 272.1 L749.6 302.1 L750.4 285.4 L749.7 282.2 L750.5 296.3 L750.4 284.0 L751.0 285.5 L751.2 282.1 L752.0 290.7 L752.3 284.4 L751.1 291.1 L751.4 283.4 L752.2 286.4 L751.5 289.9 L751.7 296.6 L750.9 277.2 L752.6 280.7 L752.4 282.3 L751.7 292.2 L751.6 290.3 L751.8 277.7 L752.8 283.6 L752.3 293.7 L752.0 288.2 L752.6 287.7 L753.4 289.9 L753.7 294.6 L753.9 281.2 L753.2 285.4 L753.4 290.3 L753.5 298.8 L753.8 292.8 L753.9 289.4 L753.0 284.2 L753.2 291.8 L753.5 283.0 L754.3 288.9 L753.6 294.3 L753.5 305.8 L754.7 297.0 L755.1 299.0 L753.7 291.1 L754.3 288.4 L755.2 282.3 L754.3 290.6 L755.2 297.4 L753.8 277.1 L754.7 289.0 L755.3 292.4 L755.9 292.5 L755.6 298.9 L754.1 287.6 L754.3 289.2 L754.8 282.4 L755.9 285.3 L755.9 286.7 L756.2 284.6 L756.1 293.4 L755.4 294.4 L755.6 292.3 L755.4 299.0 L756.5 293.0 L755.3 294.1 L756.2 288.7 L756.4 292.6 L757.1 303.0 L756.0 292.5 L756.7 285.1 L756.0 302.8 L757.3 297.1 L756.5 293.0 L756.7 300.3 L756.4 296.2 L756.6 293.1 L756.7 300.4 L756.8 292.0 L758.0 291.5 L756.8 300.4 L757.6 293.7 L758.0 288.3 L756.9 295.0 L756.4 291.9 L758.1 290.9 L756.9 295.6 L757.5 289.4 L758.0 292.6 L758.3 299.7 L758.1 292.1 L757.9 290.5 L759.0 290.9 L758.6 298.2 L759.7 292.8 L758.1 288.4 L758.7 294.2 L758.8 289.6 L759.2 289.1 L759.1 295.8 L759.1 292.5 L760.4 297.2 L759.2 290.8 L759.6 296.4 L759.5 298.7 L759.1 296.3 L760.0 296.7 L758.5 294.6 L760.5 294.3 L758.9 302.1 L759.7 299.8 L760.1 295.1 L759.8 294.7 L759.9 296.6 L761.0 284.8 L761.7 292.0 L761.1 297.6 L760.6 294.0 L760.2 291.2 L760.2 295.8 L761.5 305.8 L761.4 297.3 L761.8 297.6 L761.7 288.0 L761.9 306.6 L760.9 290.9 L760.8 298.9 L760.8 293.9 L761.5 299.7 L761.4 297.6 L761.7 293.3 L761.0 298.2 L761.9 293.8 L762.4 299.2 L762.0 300.8 L760.8 300.0 L762.2 301.4 L762.0 299.7 L762.9 293.0 L762.3 304.8 L762.9 307.2 L762.4 299.6 L762.9 291.9 L763.4 294.9 L762.7 293.7 L763.1 294.1 L763.1 303.4 L763.5 299.6 L763.1 312.5 L763.6 303.1 L762.3 297.6 L763.3 307.7 L764.0 310.1 L764.0 306.7 L763.1 299.8 L763.3 295.5 L764.1 289.0 L764.2 294.4 L764.3 308.1 L764.2 311.9 L764.3 300.6 L764.9 296.5 L763.8 308.9 L763.6 304.0 L765.2 303.7 L764.2 301.6 L765.1 302.6 L764.4 299.5 L764.2 297.1 L765.9 301.7 L765.0 298.7 L764.3 293.1 L765.1 307.0 L765.2 307.2 L765.3 300.2 L765.6 294.1 L764.9 301.9 L765.5 297.8 L766.0 304.3 L766.2 298.8 L766.0 305.9 L765.5 300.1 L764.9 301.4 L767.1 301.5 L765.6 297.1 L766.1 298.6 L766.4 306.3 L766.8 299.6 L766.6 311.5 L766.2 299.3 L766.8 291.8 L768.1 301.6 L768.3 301.7 L766.9 303.8 L767.5 300.4 L766.2 306.3 L767.4 301.2 L767.8 305.6 L767.3 306.3 L768.7 303.9 L768.2 304.8 L768.1 312.4 L766.5 295.3 L767.5 304.1 L768.4 312.5 L767.8 300.0 L767.1 305.1 L767.9 304.1 L769.2 301.9 L768.8 309.2 L769.0 318.2 L768.7 305.8 L769.7 304.3 L767.5 300.9 L768.1 308.9 L770.1 306.8 L769.7 303.9 L769.3 307.2 L769.0 306.9 L768.2 304.7 L769.1 310.4 L769.4 298.9 L769.0 310.2 L770.5 306.0 L770.3 307.7 L769.6 309.5 L770.4 304.0 L769.9 302.0 L770.2 300.1 L769.9 304.0 L771.6 308.7 L769.4 302.9 L770.3 313.3 L771.1 306.7 L771.2 304.7 L769.7 304.6 L770.2 312.3 L770.8 313.9 L770.4 299.9 L770.6 309.7 L770.9 314.8 L771.1 313.1 L771.9 307.6 L770.3 302.5 L772.1 307.8 L771.4 302.6 L772.0 307.0 L771.5 306.0 L773.1 303.8 L770.8 309.9 L772.7 307.0 L771.8 310.1 L772.0 311.3 L773.1 305.6 L772.2 312.3 L772.9 308.3 L773.3 312.3 L772.2 309.3 L773.9 311.3 L773.5 304.2 L772.7 308.8 L773.0 308.8 L772.5 302.0 L773.2 321.8 L773.7 314.4 L773.8 321.6 L773.5 309.7 L773.1 307.8 L773.1 307.0 L773.0 308.7 L773.5 313.8 L774.1 302.4 L773.5 308.8 L773.5 311.4 L773.4 315.2 L774.4 308.5 L774.0 312.6 L773.3 312.5 L775.0 309.7 L775.1 309.7 L774.5 314.4 L774.4 305.4 L774.7 315.3 L774.2 315.9 L775.5 309.7 L775.8 310.6 L775.7 310.9 L775.3 313.1 L775.3 311.2 L775.6 313.9 L776.4 318.7 L775.0 308.4 L775.5 316.1 L775.2 312.8 L775.0 308.7 L776.0 311.8 L776.6 300.2 L775.3 318.2 L776.7 315.4 L776.6 311.9 L776.5 306.4 L777.1 313.5 L776.0 318.7 L777.5 307.6 L776.4 316.6 L777.0 313.6 L775.8 309.0 L777.4 315.7 L776.9 314.9 L776.7 310.9 L776.5 314.0 L777.3 311.9 L778.1 317.3 L777.7 313.8 L777.2 318.1 L777.1 320.2 L777.0 306.0 L777.5 311.7 L776.8 309.7 L777.6 317.9 L778.6 314.0 L778.0 314.8 L778.0 320.1 L777.8 311.7 L778.7 317.2 L778.8 315.1 L779.3 320.8 L778.1 310.1 L778.0 311.2 L778.3 312.8 L778.1 318.5 L778.9 316.9 L778.7 309.5 L778.5 316.0 L779.1 313.7 L779.8 314.3 L779.7 319.8 L779.0 308.6 L779.5 323.6 L779.8 314.3 L780.0 315.7 L779.5 322.3 L779.0 314.0 L780.1 313.3 L779.4 315.4 L779.9 319.2 L780.0 313.8 L780.8 311.1 L780.1 315.0 L780.5 308.7 L780.4 312.4 L780.3 312.9 L781.2 310.3 L780.5 319.1 L781.1 318.5 L781.1 314.2 L779.9 314.3 L780.1 310.2 L779.9 311.8 L781.5 316.0 L781.5 315.8 L781.1 318.0 L781.2 318.4 L781.4 318.9 L781.3 313.2 L781.8 319.1 L781.9 318.7 L781.4 316.6 L782.9 319.5 L782.7 318.3 L782.0 326.6 L783.6 315.9 L783.7 318.9 L783.2 316.8 L783.3 316.2 L782.3 325.5 L782.6 307.7 L781.9 317.2 L782.7 317.1 L783.6 325.4 L782.8 315.4 L782.2 316.3 L784.2 319.5 L784.5 317.0 L784.3 312.7 L782.6 319.5 L784.1 322.0 L783.2 312.7 L783.7 317.2 L784.3 319.1 L784.9 308.8 L783.7 317.8 L783.9 319.2 L783.4 317.5 L784.3 320.3 L783.8 317.8 L784.2 318.1 L785.0 321.5 L784.6 320.0 L784.8 317.7 L785.0 317.4 L785.4 316.7 L785.8 315.9 L784.4 318.2 L784.2 317.2 L785.5 320.9 L785.7 320.5 L786.2 315.2 L786.0 327.7 L786.6 318.1 L786.0 308.9 L785.4 327.4 L786.4 313.7 L785.4 327.2 L785.6 318.6 L786.3 313.5 L786.0 314.1 L786.8 324.0 L786.1 325.7 L787.5 326.4 L785.9 317.6 L787.0 322.2 L786.4 320.7 L787.6 319.7 L786.5 319.2 L787.4 318.7 L785.7 320.5 L786.7 327.7 L788.2 315.2 L787.4 332.5 L787.4 316.2 L788.0 323.8 L788.9 322.2 L787.0 323.6 L787.7 323.1 L787.5 321.7 L788.3 322.8 L787.6 326.2 L787.1 318.4 L787.2 324.2 L788.6 316.5 L788.5 322.6 L788.9 324.9 L787.5 320.4 L788.0 318.6 L788.3 326.0 L789.3 323.5 L789.1 316.6 L788.8 326.5 L788.4 326.0 L789.2 321.9 L788.9 327.6 L789.8 332.7 L790.4 329.5 L789.5 321.3 L788.9 320.2 L790.9 320.6 L790.1 321.4 L790.1 328.1 L789.9 320.4 L790.1 318.6 L790.1 326.1 L790.3 319.5 L789.3 324.9 L789.9 322.7 L790.3 322.0 L790.6 329.5 L790.7 317.7 L790.9 327.1 L789.6 324.2 L790.2 325.8 L790.5 322.0 L791.1 322.2 L791.0 323.9 L792.4 318.4 L791.0 323.0 L791.2 325.8 L790.5 335.4 L792.6 325.4 L791.6 325.5 L791.6 327.9 L791.4 327.9 L791.9 322.2 L791.7 320.5 L792.8 317.1 L791.6 320.2 L791.9 327.6 L792.0 323.9 L792.7 330.4 L792.7 322.1 L793.1 323.6 L792.9 327.5 L793.1 325.6 L792.8 326.2 L793.4 327.8 L793.3 320.1 L793.3 314.7 L792.2 322.2 L792.9 321.4 L792.9 325.0 L792.3 327.1 L794.3 317.1 L794.4 327.3 L794.3 324.3 L794.1 326.4 L794.7 323.7 L792.9 326.2 L794.8 323.8 L792.9 331.2 L794.3 326.6 L794.3 320.9 L794.6 330.4 L794.8 329.1 L794.9 321.1 L794.2 325.0 L794.3 322.4 L794.3 335.5 L794.9 326.2 L794.7 331.8 L794.1 332.3 L795.7 325.3 L794.5 322.4 L795.0 332.9 L794.9 331.5 L795.0 329.5 L795.9 327.7 L795.2 332.5 L794.8 318.5 L795.4 325.1 L795.3 328.9 L795.0 329.6 L796.6 318.6 L796.8 319.0 L795.3 329.7 L797.2 326.5 L797.5 323.0 L795.6 332.6 L796.8 330.3 L796.5 322.8 L797.2 330.9 L795.5 329.9 L797.3 333.5 L796.8 331.3 L797.4 325.8 L797.7 331.7 L795.9 333.6 L797.3 331.1 L797.4 321.8 L797.9 328.1 L798.3 331.0 L798.1 328.3 L797.3 327.2 L798.3 328.6 L797.5 336.1 L798.5 328.0 L798.0 330.0 L798.1 326.0 L798.4 334.6 L797.4 325.4 L798.2 331.4 L797.8 336.2 L799.2 324.5 L799.5 331.7 L797.9 328.3 L797.6 330.4 L799.1 325.7 L798.7 325.7 L798.6 325.7 L800.5 327.3 L799.0 336.4 L798.8 336.7 L799.3 329.5 L799.7 334.0 L800.6 328.6 L799.9 329.8 L799.1 336.0 L799.6 334.6 L801.1 335.0 L799.0 334.1 L800.1 331.5 L801.0 328.2 L800.5 325.7 L800.3 334.6 L800.0 333.1 L800.7 325.0 L801.0 327.5 L800.9 330.1 L801.5 340.1 L801.1 335.0 L801.8 330.5 L801.2 333.4 L801.7 323.5 L801.1 330.9 L802.4 330.2 L802.2 335.6 L801.9 335.4 L801.0 334.0 L801.8 333.9 L800.5 332.4 L801.7 330.1 L802.1 330.6 L801.5 327.7 L802.2 336.9 L802.6 330.9 L803.4 330.8 L802.4 325.6 L801.5 332.6 L801.2 330.6 L802.6 335.0 L803.3 330.3 L803.5 330.4 L803.0 334.4 L802.6 333.7 L802.7 332.2 L803.1 329.8 L803.3 336.6 L803.7 328.7 L803.5 333.5 L804.7 324.9 L803.7 326.6 L804.0 333.9 L804.4 334.8 L804.4 322.8 L803.6 330.0 L803.1 330.3 L803.3 334.1 L804.4 333.0 L804.6 329.4 L804.6 330.2 L804.9 335.9 L805.3 327.8 L804.2 331.5 L806.0 336.5 L806.1 328.9 L805.3 333.5 L804.9 329.8 L805.2 335.1 L804.3 331.5 L805.3 339.3 L804.8 331.6 L805.3 339.0 L805.3 332.5 L806.8 343.0 L805.1 333.4 L805.9 330.4 L805.6 331.4 L806.9 328.6 L806.6 337.5 L805.2 327.3 L805.6 327.1 L806.4 338.1 L806.0 336.6 L806.7 335.8 L806.6 333.7 L806.0 332.9 L806.5 343.3 L807.1 331.4 L806.8 334.7 L807.0 337.7 L807.3 330.1 L807.1 335.2 L808.0 329.4 L806.5 331.8 L807.7 335.2 L807.2 329.4 L807.8 330.9 L808.1 336.0 L808.1 340.4 L808.2 336.3 L808.4 331.8 L808.3 335.2 L807.9 327.3 L808.6 333.3 L808.8 333.6 L808.8 332.8 L808.6 337.9 L808.7 334.9 L807.4 337.1 L808.2 343.7 L808.6 341.5 L809.4 331.7 L809.6 336.4 L809.1 335.2 L808.4 340.5 L809.5 337.1 L809.9 331.7 L809.8 334.5 L809.0 336.9 L808.9 328.9 L809.1 335.2 L809.0 336.4 L810.4 330.5 L810.0 341.9 L811.2 332.9 L811.0 339.5 L810.7 338.3 L809.8 337.9 L810.7 334.7 L810.6 334.9 L809.6 334.1 L809.8 334.5 L810.2 329.9 L811.5 328.8 L810.6 332.7 L810.1 332.5 L811.0 337.0 L811.4 339.9 L810.4 333.3 L812.4 335.5 L810.9 332.3 L812.0 342.9 L811.9 325.2 L811.1 340.8 L811.6 335.7 L811.8 332.0 L811.6 341.4 L812.4 338.1 L812.0 344.0 L811.0 341.7 L812.2 343.7 L811.6 335.7 L812.2 335.0 L812.6 337.4 L812.4 331.2 L813.2 330.8 L812.6 336.3 L812.5 337.2 L813.8 337.5 L813.4 338.2 L812.9 331.3 L813.1 335.5 L813.0 337.8 L813.3 337.5 L812.8 334.4 L814.5 338.2 L814.3 335.4 L812.3 336.9 L813.1 331.4 L813.8 332.2 L813.5 342.4 L812.7 337.5 L814.5 334.1 L813.4 338.7 L814.6 333.8 L814.6 335.7 L815.3 334.7 L813.9 337.3 L815.7 335.9 L813.9 335.1 L815.6 343.0 L815.5 340.9 L815.2 341.3 L814.3 330.6 L816.1 336.1 L815.7 335.9 L814.2 336.7 L814.0 339.5 L815.0 340.5 L815.0 334.2 L816.0 339.1 L815.8 331.3 L816.0 336.9 L815.5 337.3 L816.5 338.6 L815.7 338.1 L815.2 337.7 L814.9 331.8 L816.6 328.6 L816.0 342.5 L815.4 336.9 L816.0 335.2 L816.4 341.6 L817.1 340.6 L815.5 339.9 L816.6 347.7 L817.4 335.6 L817.3 338.4 L817.6 338.6 L818.4 338.0 L816.8 337.3 L817.0 329.1 L818.1 337.7 L818.6 335.1 L817.9 340.5 L817.6 337.1 L817.1 339.8 L818.3 339.2 L818.2 342.2 L817.5 341.9 L817.9 336.9 L817.7 335.7 L818.7 336.9 L818.4 341.4 L819.3 337.5 L819.4 348.9 L818.9 335.1 L819.5 339.0 L819.5 337.8 L819.9 334.3 L818.8 340.6 L819.5 335.1 L820.4 340.7 L819.7 336.8 L819.2 340.6 L819.6 337.8 L820.9 333.3 L819.4 341.7 L819.4 341.5 L820.4 340.4 L819.7 337.9 L819.1 328.3 L819.1 341.5 L820.2 347.4 L819.9 341.8 L821.2 345.6 L820.1 341.5 L819.7 339.2 L820.1 343.2 L820.0 342.1 L821.5 346.9 L820.4 338.7 L821.9 342.4 L821.4 335.1 L822.4 335.2 L821.2 343.0 L821.8 341.0 L820.1 339.3 L821.2 336.5 L821.1 346.3 L822.4 339.9 L821.7 332.1 L822.2 340.0 L821.5 338.8 L821.2 339.7 L822.0 344.5 L823.0 335.9 L822.2 338.7 L823.3 339.1 L822.2 336.9 L822.3 336.7 L822.4 347.5 L822.5 337.9 L822.3 342.2 L822.7 339.3 L822.4 342.8 L822.4 343.4 L824.0 336.1 L823.7 340.0 L823.1 341.2 L823.0 341.2 L822.5 339.7 L823.9 340.1 L823.2 349.6 L824.9 343.6 L822.7 341.1 L824.1 337.2 L824.7 334.7 L823.7 344.0 L825.4 332.4 L824.8 339.9 L824.9 338.3 L823.9 342.4 L825.1 342.7 L825.2 334.5 L824.7 341.2 L825.8 340.8 L825.0 335.7 L823.5 333.4 L825.2 346.5 L826.2 341.2 L824.8 340.5 L825.7 333.1 L825.0 330.5 L825.4 340.7 L824.1 339.0 L824.5 337.0 L825.5 335.9 L825.4 341.9 L824.7 337.1 L826.4 343.4 L826.2 351.5 L825.6 346.2 L824.9 339.8 L826.6 337.5 L826.1 349.9 L826.9 348.0 L827.2 340.9 L826.4 352.3 L826.6 338.5 L827.2 336.6 L826.7 352.4 L825.7 337.7 L827.4 341.6 L827.3 335.1 L826.8 339.7 L827.6 341.9 L827.1 340.4 L827.2 337.1 L828.0 340.2 L826.8 340.8 L826.7 346.8 L827.7 339.0 L827.1 340.9 L828.5 333.6 L827.6 341.1 L827.1 341.4 L828.0 343.6 L827.0 338.2 L829.2 342.0 L828.4 344.0 L829.0 334.7 L828.9 333.9 L828.8 343.1 L828.2 345.4 L829.4 336.7 L828.8 344.7 L828.6 330.7 L827.9 341.9 L830.0 337.4 L829.2 346.7 L829.1 341.5 L828.3 337.0 L830.1 339.7 L829.6 343.7 L830.4 331.5 L829.8 338.5 L829.4 342.5 L830.3 344.0 L829.1 342.7 L829.2 336.1 L830.2 344.8 L830.8 341.5 L831.1 345.0 L830.5 336.6 L830.5 342.4 L830.8 338.2 L830.6 339.5 L830.6 344.2 L831.2 339.0 L830.7 338.0 L831.0 346.6 L831.9 339.0 L831.4 331.3 L831.1 343.2 L831.9 339.3 L831.5 347.5 L832.0 340.1 L831.2 344.5 L831.3 338.9 L831.0 342.3 L832.7 347.0 L832.9 337.6 L832.9 343.1 L832.4 346.4 L832.4 341.9 L832.3 346.2 L832.8 340.6 L832.5 342.6 L832.0 343.8 L833.3 339.6 L833.4 347.6 L833.2 338.4 L833.0 350.7 L832.8 335.8 L833.2 341.7 L833.4 343.6 L832.6 345.6 L833.1 340.2 L832.9 343.2 L834.3 343.3 L832.9 338.3 L833.0 344.4 L833.3 343.5 L834.0 340.8 L833.5 338.1 L835.2 343.2 L834.6 341.9 L833.0 342.4 L834.5 339.5 L834.7 336.4 L833.8 346.5 L834.6 343.2 L834.8 342.9 L834.4 340.2 L834.8 336.4 L835.2 342.8 L834.7 341.8 L835.1 338.0 L834.5 347.9 L835.7 345.9 L835.0 344.6 L836.2 342.8 L836.8 341.8 L836.7 344.9 L835.4 335.5 L836.1 345.7 L835.7 343.6 L836.3 338.3 L835.6 339.6 L835.5 342.9 L836.2 341.3 L835.8 339.4 L837.1 342.9 L836.9 340.2 L836.8 346.7 L836.6 342.6 L836.6 349.8 L837.4 346.7 L837.0 347.7 L837.0 337.7 L838.2 344.9 L837.3 341.7 L837.1 346.9 L837.2 343.9 L838.2 344.2 L837.2 346.6 L837.3 339.5 L838.4 350.1 L838.5 340.5 L838.7 332.3 L837.4 346.6 L838.3 343.0 L837.8 349.7 L838.5 343.3 L837.3 350.5 L838.3 340.6 L839.1 345.3 L838.7 351.0 L837.3 348.7 L839.3 350.0 L839.0 344.5 L838.7 339.8 L839.0 345.1 L838.9 348.4 L839.9 347.0 L839.2 343.0 L838.4 353.8 L838.9 341.0 L840.5 341.8 L840.3 353.8 L840.2 338.6 L839.3 350.5 L840.2 344.5 L840.6 338.7 L840.1 350.6 L840.5 351.5 L840.9 348.5 L840.9 348.3 L840.6 344.3 L840.7 346.0 L839.8 345.9 L840.4 345.8 L841.2 344.6 L841.8 347.5 L841.0 342.4 L841.6 343.9 L841.1 348.2 L840.6 336.1 L841.5 349.3 L841.6 340.8 L840.9 347.1 L841.0 342.4 L841.6 341.7 L841.4 340.2 L842.0 337.9 L841.0 347.5 L842.4 332.7 L841.6 342.2 L842.3 347.4 L841.2 349.7 L842.8 333.9 L842.5 336.9 L843.7 344.0 L841.5 340.7 L841.5 338.3 L843.1 343.5 L843.3 345.7 L841.8 344.1 L843.3 340.3 L843.6 343.8 L844.0 349.2 L843.3 340.7 L842.4 351.3 L842.2 347.2 L844.7 338.7 L843.8 343.0 L844.2 343.0 L843.5 343.5 L843.7 339.6 L843.8 344.2 L843.4 352.4 L843.9 343.0 L843.5 353.8 L844.0 352.8 L845.0 337.3 L844.4 339.6 L844.1 346.1 L845.6 344.4 L845.4 343.8 L844.8 339.8 L843.8 347.5 L845.7 347.9 L845.8 346.9 L844.7 343.6 L846.0 343.1 L844.8 345.9 L845.2 340.9 L845.2 348.6 L845.6 344.6 L845.5 347.2 L846.6 348.6 L845.6 339.0 L846.1 345.6 L846.0 348.6 L846.2 344.1 L845.6 348.6 L846.2 341.7 L847.1 340.7 L846.9 339.9 L845.8 348.9 L846.3 345.0 L846.0 336.4 L846.3 345.3 L846.4 338.9 L846.2 337.8 L847.3 350.3 L847.6 339.2 L847.2 341.2 L846.9 340.6 L847.4 337.1 L846.9 342.4 L848.1 344.1 L848.9 341.8 L846.3 345.9 L848.0 342.3 L847.9 353.1 L848.0 337.0 L847.8 346.8 L847.2 342.2 L848.1 343.2 L848.0 344.1 L848.3 344.0 L848.4 344.3 L848.2 351.6 L849.9 346.9 L847.9 339.4 L848.5 349.0 L848.1 349.1 L848.8 335.5 L850.0 339.4 L849.1 337.9 L848.7 344.7 L848.5 343.5 L849.7 341.4 L849.0 342.2 L849.9 345.1 L849.2 351.0 L849.4 347.9 L849.8 351.2 L848.9 337.9 L850.7 346.5 L849.4 345.6 L850.2 343.6 L850.5 344.7 L851.6 342.5 L850.7 347.5 L851.0 351.4 L850.3 337.3 L850.6 348.0 L850.7 347.0 L851.5 348.4 L850.3 347.3 L851.2 344.9 L852.4 341.7 L850.6 349.5 L850.1 343.7 L851.0 347.9 L851.4 339.8 L852.5 350.4 L851.9 344.6 L852.4 342.0 L851.3 350.9 L851.8 344.6 L852.1 344.5 L851.5 348.6 L852.3 346.1 L852.0 340.9 L852.4 344.1 L851.5 347.0 L851.2 346.1 L853.4 343.3 L852.7 339.8 L852.7 341.8 L854.1 342.1 L853.5 338.5 L853.3 351.9 L852.7 351.5 L853.4 353.8 L853.4 341.7 L853.2 353.8 L854.3 345.5 L854.0 342.1 L853.9 351.4 L853.2 348.2 L853.4 346.5 L854.5 342.3 L854.1 351.9 L853.7 344.1 L854.3 342.5 L854.2 344.8 L854.0 344.8 L854.3 340.1 L854.9 344.5 L854.8 345.6 L854.1 347.0 L854.3 342.7 L855.0 346.8 L854.3 342.8 L855.1 345.1 L855.0 340.7 L854.4 349.0 L853.9 345.3 L854.8 344.1 L855.4 343.8 L855.5 340.8 L856.3 344.0 L855.7 341.8 L855.7 337.2 L856.0 342.1 L855.6 350.2 L857.0 351.8 L855.7 342.8 L855.6 347.3 L855.9 344.5 L857.1 346.4 L856.1 340.1 L856.0 340.6 L856.9 350.6 L857.4 344.5 L856.5 347.0 L857.3 351.3 L856.5 343.0 L857.8 346.4 L856.5 343.8 L857.0 335.1 L857.0 340.0 L856.8 341.0 L857.4 347.5 L857.9 350.8 L857.1 340.4 L858.8 347.1 L857.9 345.6 L858.1 347.4 L857.5 345.4 L858.0 335.4 L858.7 347.1 L857.6 347.0 L857.9 344.9 L857.9 344.6 L857.7 351.0 L858.9 353.4 L858.1 348.3 L859.7 346.8 L858.0 349.2 L858.7 350.2 L859.0 349.9 L858.5 347.6 L857.9 346.4 L858.8 352.9 L859.3 348.3 L858.8 344.4 L859.6 346.5 L858.5 351.8 L859.8 347.5 L861.0 346.1 L860.4 342.7 L860.5 353.0 L859.8 343.0 L859.8 348.0 L860.8 345.1 L860.1 343.1 L860.7 349.8 L859.8 349.5 L860.7 346.5 L860.7 342.9 L859.4 348.4 L860.7 352.1 L861.2 349.1 L861.3 344.4 L861.2 341.1 L861.9 348.3 L861.2 347.5 L860.8 346.9 L861.9 346.7 L862.7 350.2 L861.3 348.0 L862.5 345.2 L861.6 345.7 L860.9 346.0 L861.3 350.5 L861.4 348.5 L862.8 349.2 L862.2 341.6 L861.9 339.9 L862.4 344.7 L863.2 339.3 L862.4 347.4 L862.1 347.4 L862.9 351.8 L862.2 345.2 L863.1 348.1 L863.5 345.8 L863.1 344.1 L862.8 347.2 L863.2 351.0 L862.4 346.4 L864.3 346.5 L864.7 346.1 L863.5 343.3 L862.4 347.1 L863.3 347.3 L862.9 338.7 L862.7 341.6 L863.9 346.6 L863.9 350.2 L863.7 348.1 L864.9 344.5 L864.3 342.6 L863.8 335.8 L864.7 347.2 L863.8 345.5 L864.4 347.7 L864.2 345.8 L865.0 347.8 L864.7 350.7 L864.6 341.8 L865.2 345.6 L865.4 340.6 L865.4 348.3 L866.0 345.0 L864.8 343.3 L865.7 353.8 L866.6 351.8 L865.7 342.9 L864.4 345.7 L866.4 353.8 L865.8 349.3 L866.4 350.6 L866.2 348.2 L866.5 339.5 L867.0 348.6 L866.4 337.4 L866.9 347.2 L865.7 349.3 L866.1 339.4 L866.6 342.0 L867.7 340.2 L866.4 337.7 L866.7 341.5 L867.4 340.8 L866.8 353.5 L866.4 349.6 L866.1 344.2 L867.8 345.2 L866.8 343.0 L867.7 348.1 L867.9 341.3 L867.1 337.4 L868.1 343.5 L866.6 342.4 L867.9 343.9 L867.4 342.0 L868.3 345.1 L868.3 348.2 L868.4 345.2 L868.8 345.6 L868.1 352.6 L867.7 345.0 L867.9 345.9 L869.3 345.1 L868.2 348.4 L868.7 344.0 L869.2 343.4 L869.0 349.1 L868.6 344.7 L868.0 342.7 L869.9 342.9 L869.1 350.1 L868.5 350.5 L869.2 346.0 L869.7 350.7 L868.6 335.3 L869.9 349.7 L869.9 349.6 L870.3 343.4 L870.1 348.3 L869.6 353.8 L869.3 346.9 L870.2 350.6 L870.1 348.6 L871.5 353.3 L870.4 350.3 L870.9 347.1 L870.8 346.7 L869.8 351.3 L871.4 349.6 L870.8 350.2 L870.3 345.9 L871.5 347.2 L872.0 352.0 L871.3 343.8 L871.3 349.6 L871.2 344.9 L871.4 350.6 L872.4 345.3 L871.9 347.1 L872.1 346.4 L872.3 344.5 L870.8 344.7 L872.3 345.9 L872.6 345.9 L872.5 352.2 L871.5 347.0 L872.0 353.8 L873.0 353.8 L872.9 348.0 L873.0 347.6 L872.2 340.2 L873.1 343.8 L873.9 341.9 L873.1 348.0 L874.0 344.8 L873.8 341.6 L873.8 344.4 L873.0 345.1 L873.1 346.2 L873.2 350.6 L874.4 350.5 L874.5 352.9 L873.2 344.9 L873.2 347.8 L874.1 349.6 L874.9 345.1 L874.4 349.1 L874.7 342.1 L874.7 338.4 L874.8 344.7 L874.5 349.6 L874.9 353.1 L875.1 337.9 L874.7 344.7 L875.9 351.7 L874.3 342.0 L874.8 353.8 L874.6 348.5 L875.9 347.7 L876.0 348.2 L875.0 351.6 L875.5 336.3 L875.3 348.4 L874.8 345.0 L875.3 346.5 L876.0 353.6 L876.3 349.0 L875.6 345.7 L876.1 342.6 L876.7 348.2 L877.1 345.1 L876.6 348.1 L876.0 344.1 L875.6 353.8 L876.6 344.1 L876.5 349.4 L876.4 349.2 L876.5 353.8 L876.6 351.3 L877.1 344.0 L877.5 336.6 L876.7 349.7 L878.4 349.5 L878.2 344.5 L877.3 345.4 L877.7 349.2 L878.5 347.4 L877.2 348.4 L877.4 344.0 L877.5 343.2 L877.4 339.0 L878.5 342.7 L878.0 343.8 L878.3 346.0 L878.4 342.6 L878.3 351.0 L879.4 337.3 L878.5 345.5 L878.2 340.6 L877.9 350.2 L878.4 342.2 L879.0 345.0 L879.1 347.5 L879.3 349.6 L878.9 350.5 L879.5 338.9 L879.6 341.4 L878.7 346.2 L879.8 345.9 L879.9 349.9 L879.5 353.8 L880.4 353.8 L879.9 349.4 L879.5 347.4 L880.6 351.8 L881.2 343.3 L879.5 344.5 L880.3 346.0 L880.9 353.8 L880.8 347.7 L881.2 346.9 L881.4 352.3 L879.7 353.8 L881.2 338.4 L879.9 344.1 L880.4 348.5 L880.4 339.8 L881.4 341.9 L880.3 344.8 L881.4 345.8 L880.5 343.4 L882.7 340.4 L881.3 346.5 L881.7 347.8 L881.1 344.3 L881.5 353.8 L882.7 346.4 L882.2 348.6 L881.4 346.9 L881.9 347.6 L882.2 345.4 L883.4 346.4 L882.4 346.5 L882.8 347.4 L883.2 344.9 L884.0 349.1 L883.2 342.6 L882.2 353.8 L882.4 346.0 L884.1 344.9 L883.4 352.4 L882.1 348.7 L883.0 341.1 L883.1 347.5 L883.3 350.7 L883.9 353.8 L884.0 345.4 L884.5 346.5 L882.7 344.2 L884.1 338.0 L883.9 346.9 L883.4 346.3 L884.7 349.9 L883.5 347.2 L883.5 347.0 L885.4 343.6 L884.7 344.5 L885.1 350.3 L885.5 349.0 L884.0 340.9 L885.7 351.1 L885.0 343.7 L885.3 339.9 L885.6 344.1 L885.6 345.9 L885.1 341.0 L885.4 345.4 L885.5 347.0 L886.2 347.9 L884.3 342.0 L886.6 344.0 L885.2 340.3 L887.2 348.4 L886.3 348.3 L887.1 348.9 L886.0 345.8 L887.3 350.0 L886.6 343.0 L886.7 345.5 L886.8 351.3 L885.2 353.8 L885.8 353.8 L885.8 340.8 L886.9 347.3 L886.8 346.4 L887.5 348.9 L887.3 345.3 L887.9 353.8 L886.8 353.8 L887.6 353.8 L887.1 346.8 L886.8 344.0 L886.5 345.0 L887.6 347.6 L887.2 352.6 L887.5 343.6 L887.4 348.3 L887.4 347.2 L889.4 347.4 L888.2 349.1 L887.5 350.2 L888.2 349.7 L888.5 352.7 L887.6 346.0 L889.3 347.9 L888.1 342.7 L889.1 353.8 L888.6 342.1 L888.5 347.4 L890.4 347.8 L888.7 350.6 L888.3 350.7 L889.0 353.6 L888.8 343.3 L890.1 348.1 L889.8 344.1 L888.9 343.6 L890.8 349.3 L889.7 348.2 L889.1 348.7 L890.6 342.7 L890.5 346.6 L889.5 346.5 L889.5 344.1 L890.2 347.5 L890.0 338.4 L890.8 351.2 L890.7 341.8 L889.9 341.1 L890.1 352.1 L890.7 343.5 L891.7 346.0 L890.6 343.4 L891.4 352.4 L890.8 346.1 L891.5 351.4 L891.0 348.6 L891.7 341.1 L891.0 347.8 L891.1 353.8 L892.8 353.2 L892.3 352.1 L891.1 342.8 L892.6 350.2 L891.9 353.8 L892.9 342.4 L891.4 346.1 L892.2 345.7 L892.1 350.7 L892.0 341.1 L891.8 347.8 L893.8 353.8 L892.7 352.1 L892.6 350.9 L891.9 347.9 L893.6 343.9 L893.7 350.4 L893.0 349.8 L892.4 337.7 L893.7 346.9 L893.4 349.5 L892.6 347.1 L894.8 352.6 L894.1 344.9 L893.1 343.1 L893.3 349.8 L894.4 342.9 L894.7 348.5 L894.4 346.0 L894.5 350.5 L894.0 350.7 L895.6 353.7 L894.3 346.3 L894.7 348.5 L894.8 348.4 L894.5 352.1 L895.3 352.3 L895.8 350.0 L893.6 345.3 L894.9 346.0 L895.9 350.2 L896.1 346.0 L895.0 339.7 L895.8 346.8 L895.6 338.6 L895.7 345.4 L895.3 341.6 L896.4 349.6 L896.6 342.2 L896.9 352.4 L896.2 346.2 L896.2 348.7 L896.9 353.8 L897.6 353.2 L896.2 342.4 L896.4 345.2 L897.6 341.7 L895.9 346.5 L895.4 353.8 L897.4 346.2 L897.7 349.8 L897.8 349.5 L897.7 349.3 L897.8 350.6 L896.8 351.5 L897.9 342.0 L896.8 345.4 L896.5 350.1 L897.4 349.2 L896.9 343.2 L897.1 345.7 L897.4 346.5 L897.6 352.6 L898.1 349.2 L897.4 352.2 L897.8 353.8 L898.1 343.5 L898.4 348.8 L898.7 349.1 L899.0 351.5 L898.7 344.1 L898.9 338.4 L899.2 344.9 L898.8 343.4 L899.0 352.7 L898.5 346.6 L899.2 346.5 L899.8 341.0 L898.9 347.4 L900.1 351.4 L899.1 347.7 L900.2 349.3 L900.6 341.2 L899.8 344.6 L899.5 346.0 L900.1 346.6 L899.7 343.8 L899.5 349.5 L900.8 351.4 L899.0 353.8 L900.8 342.4 L899.9 345.3 L901.0 344.7 L900.2 347.3 L901.7 340.3 L900.4 351.6 L899.5 342.3 L902.2 351.1 L901.0 349.4 L901.0 352.7 L901.1 347.1 L901.0 348.7 L901.5 345.6 L900.9 350.0 L902.8 353.4 L901.1 345.1 L902.1 342.0 L902.6 344.4 L901.7 347.7 L902.4 345.8 L901.7 353.8 L901.5 348.9 L901.7 342.6 L902.9 345.6 L903.0 351.2 L901.9 343.9 L903.1 348.1 L902.0 344.4 L902.8 353.6 L903.2 349.8 L901.6 346.2 L903.3 346.2 L902.8 345.2 L902.2 347.6 L903.6 348.4 L903.5 345.5 L903.6 343.9 L903.3 353.8 L903.1 348.9 L902.8 348.4 L903.6 346.9 L903.1 343.2 L903.6 353.2 L904.2 345.3 L904.5 353.8 L904.4 350.8 L904.4 349.8 L904.1 348.7 L905.0 350.2 L905.2 349.8 L904.3 349.0 L904.4 348.7 L904.1 353.8 L904.6 353.5 L904.6 349.4 L906.2 345.3 L905.9 343.3 L904.3 335.8 L905.7 347.1 L905.2 350.9 L904.4 346.8 L905.7 344.7 L905.2 347.0 L905.9 352.1 L906.1 348.0 L905.4 347.8 L906.8 353.6 L906.1 352.7 L905.6 342.5 L905.2 353.8 L907.6 346.9 L905.9 348.7 L906.5 341.7 L906.7 345.0 L907.2 351.3 L905.9 342.3 L905.5 350.0 L906.9 339.2 L906.0 340.6 L906.9 348.0 L908.4 344.3 L906.8 346.8 L907.7 351.4 L906.7 343.1 L908.8 345.8 L907.3 344.0 L907.9 343.1 L907.6 341.6 L907.4 343.2 L908.5 348.0 L907.8 347.2 L907.5 345.9 L907.8 348.1 L908.0 348.6 L908.4 339.7 L908.5 345.5 L908.0 339.6 L908.2 350.8 L909.9 347.8 L908.6 349.4 L909.6 349.2 L908.6 348.8 L909.2 348.1 L908.7 349.4 L907.9 340.0 L908.9 344.8 L909.8 350.7 L910.2 349.9 L910.1 344.5 L909.2 345.3 L909.4 350.2 L909.0 343.7 L910.0 353.6 L910.4 349.6 L910.1 340.4 L909.6 353.8 L910.4 348.5 L910.3 343.5 L910.6 348.2 L910.3 350.9 L910.6 351.3 L910.1 353.8 L910.2 353.2 L909.5 347.3 L911.0 350.0 L911.0 347.7 L910.4 348.3 L912.0 346.4 L911.9 353.8 L912.3 348.9 L911.3 349.1 L911.3 348.9 L911.7 351.4 L912.2 353.8 L912.6 345.0 L911.2 344.2 L911.8 337.7 L910.7 344.6 L911.9 340.8 L912.7 345.2 L912.7 349.2 L913.7 345.6 L912.8 352.5 L912.2 346.6 L912.1 348.1 L912.8 352.1 L913.8 342.5 L912.1 343.0 L912.3 345.7 L913.1 344.2 L912.9 340.8 L913.7 348.2 L913.0 353.3 L913.4 351.6 L913.4 344.7 L913.7 346.7 L914.5 353.8 L912.9 342.1 L912.7 346.8 L913.0 340.9 L913.8 342.9 L914.1 349.5 L914.5 347.3 L914.4 350.7 L914.4 351.2 L913.3 348.9 L914.1 345.6 L914.8 341.9 L913.9 351.4 L914.4 344.7 L914.6 347.5 L915.2 348.6 L914.5 342.9 L914.1 349.1 L914.9 341.9 L915.1 349.0 L915.8 351.5 L915.1 344.4 L915.4 353.7 L915.3 352.6 L915.4 348.4 L917.0 347.6 L914.6 348.7 L916.3 353.8 L915.5 353.2 L916.2 345.5 L915.2 345.4 L916.4 351.8 L915.9 346.5 L916.8 346.7 L917.4 343.4 L915.9 350.7 L915.7 341.5 L917.5 348.9 L918.1 341.6 L917.0 343.7 L915.8 351.8 L916.2 348.9 L917.8 346.4 L918.4 343.4 L917.3 353.4 L916.6 349.7 L918.3 345.0 L916.8 345.6 L917.3 352.0 L917.4 351.4 L917.5 345.8 L918.3 351.9 L917.5 346.7 L918.3 343.8 L918.9 347.6 L919.0 353.8 L919.2 342.7 L918.3 342.8 L917.5 341.7 L918.8 344.0 L918.9 353.8 L919.0 341.7 L918.7 346.2 L919.3 343.7 L918.5 348.3 L919.7 348.7 L920.4 348.6 L919.5 341.0 L919.5 346.5 L919.9 348.5 L920.0 353.0 L920.1 345.7 L919.9 347.6 L919.7 347.0 L920.9 343.5 L919.3 344.6 L920.8 347.6 L919.7 346.8 L920.6 347.3 L919.8 344.7 L919.5 344.8 L919.9 347.1 L920.1 351.3 L921.6 344.1 L920.5 343.9 L920.5 352.2 L920.4 346.1 L921.1 349.3 L921.1 353.8 L921.6 347.9 L920.9 343.7 L920.7 350.8 L921.5 350.7 L922.1 343.5 L922.1 352.3 L921.2 351.7 L921.5 349.1 L922.1 345.1 L921.7 345.1 L921.2 350.0 L922.3 349.0 L922.1 347.4 L922.5 349.4 L923.0 351.4 L922.2 352.3 L921.9 344.8 L922.2 348.7 L923.3 336.4 L922.9 345.2 L923.4 350.9 L922.8 347.8 L923.6 346.4 L922.9 346.1 L922.9 345.9 L923.4 345.9 L923.4 348.4 L923.4 345.1 L923.7 338.7 L924.3 349.6 L923.4 349.4 L922.8 344.8 L924.2 342.6 L925.2 344.4 L924.8 342.7 L923.5 348.0 L924.6 348.8 L925.1 345.1 L925.1 345.0 L925.7 340.9 L925.2 341.3 L923.5 353.8 L925.2 344.6 L924.5 350.6 L924.5 353.8 L924.1 346.2 L924.4 348.5 L925.1 349.3 L926.0 353.2 L926.1 352.1 L925.9 348.8 L926.4 353.8 L925.5 348.3 L925.3 347.4 L927.0 348.5 L926.3 346.6 L925.8 348.2 L926.6 352.7 L925.8 352.2 L927.3 347.3 L925.6 343.9 L926.2 347.3 L926.5 350.0 L926.5 347.2 L926.0 353.8 L927.4 352.1 L927.3 349.5 L927.0 348.2 L927.4 349.3 L926.9 349.1 L927.8 352.9 L927.0 350.3 L926.8 346.9 L927.4 353.8 L927.5 353.0 L927.9 349.4 L928.2 341.8 L928.9 345.2 L927.1 341.5 L927.1 342.4 L928.3 349.8 L929.0 348.3 L928.9 352.9 L928.3 343.1 L928.3 345.0 L928.4 345.5 L929.7 345.2 L928.6 346.1 L929.0 347.1 L928.2 346.9 L929.6 343.0 L929.0 351.3 L929.0 352.3 L929.1 348.0 L929.3 343.2 L930.7 347.0 L929.9 348.9 L930.0 344.6 L929.2 347.5 L928.9 353.8 L928.6 352.2 L929.6 353.8 L930.1 348.9 L930.3 349.9 L929.3 346.2 L930.7 339.3 L930.0 350.5 L931.2 348.0 L930.4 349.6 L930.7 353.8 L930.3 351.2 L930.4 351.0 L930.9 346.9 L931.3 351.5 L931.5 353.4 L930.7 345.6 L930.5 348.3 L931.6 351.7 L932.2 351.2 L931.2 349.3 L931.3 344.6 L931.4 342.2 L932.0 353.4 L932.4 343.2 L931.4 347.8 L932.3 346.5 L933.0 344.0 L932.5 352.0 L931.8 344.5 L931.5 353.4 L932.5 350.0 L933.4 351.6 L933.1 341.1 L933.6 341.3 L932.6 344.9 L932.9 345.9 L932.5 350.2 L933.4 340.9 L933.0 342.3 L932.8 344.3 L933.1 348.5 L933.7 349.5 L934.0 348.4 L934.0 342.6 L934.9 351.9 L934.2 347.5 L933.3 341.3 L934.6 344.4 L933.5 340.9 L933.4 346.3 L934.6 346.2 L933.9 342.3 L934.4 345.3 L934.1 346.6 L934.4 350.1 L933.6 353.8 L935.2 341.9 L935.5 349.7 L934.7 351.0 L935.7 344.4 L935.6 351.6 L935.9 353.5 L936.1 350.3 L934.6 348.2 L935.9 346.8 L935.4 345.9 L936.0 344.0 L935.5 348.4 L937.0 346.5 L936.8 348.4 L935.9 350.6 L936.3 346.3 L936.2 346.5 L936.3 340.4 L936.8 345.5 L935.8 350.8 L935.6 345.5 L937.2 349.0 L936.8 341.5 L936.4 353.8 L936.4 350.7 L936.0 350.7 L936.8 347.5 L936.0 348.5 L937.2 353.8 L937.4 353.8 L936.9 347.2 L938.0 342.0 L937.9 342.0 L937.7 349.6 L937.2 346.1 L937.3 351.5 L937.2 353.8 L936.7 343.0 L938.0 345.2 L938.5 349.3 L937.2 349.5 L938.4 344.2 L938.1 346.7 L938.4 349.3 L938.9 346.8 L939.1 348.0 L938.2 349.6 L939.2 350.9 L938.5 344.2 L937.5 349.9 L940.2 352.8 L939.1 340.6 L938.9 342.9 L940.0 345.9 L939.6 348.3 L939.0 347.2 L939.6 353.8 L939.7 348.1 L939.5 346.9 L938.4 348.8 L939.9 346.2 L939.3 351.1 L939.3 347.3 L940.1 353.8 L941.4 348.1 L939.5 350.5 L940.5 353.4 L939.5 349.7 L939.5 348.0 L940.4 350.5 L941.2 344.3 L940.9 350.9 L941.0 344.3 L941.6 345.1 L941.3 350.5 L940.7 342.3 L940.6 353.6 L941.1 346.0 L941.6 347.8 L941.2 345.0 L941.4 353.8 L941.3 352.9" fill="none" stroke="#0000ff" stroke-width="1.8" stroke-linejoin="round"/>
<path d="M599.9 353.8 L599.2 353.8 L599.3 353.8 L599.0 353.8 L598.8 353.8 L598.8 353.8 L598.8 353.8 L599.0 353.8 L599.8 353.8 L600.1 352.1 L598.8 353.8 L599.0 353.8 L599.6 353.8 L601.8 352.2 L600.5 353.8 L600.8 353.8 L602.0 353.8 L601.1 353.8 L599.9 353.8 L602.8 353.8 L600.5 353.8 L602.3 353.8 L601.4 353.8 L601.8 353.8 L602.7 353.8 L600.6 353.8 L599.4 353.8 L601.7 353.8 L601.3 353.8 L601.1 353.8 L601.6 353.8 L599.6 353.8 L601.7 353.8 L601.4 353.8 L602.2 353.8 L601.8 353.8 L601.6 353.8 L603.0 353.8 L603.6 353.8 L602.2 353.8 L601.2 353.8 L601.5 353.8 L604.1 353.8 L600.4 353.8 L602.7 353.8 L603.1 353.8 L603.4 353.8 L600.3 353.8 L603.2 353.8 L600.2 353.8 L602.3 353.8 L601.8 353.8 L600.5 353.8 L605.4 353.8 L602.8 353.8 L601.2 353.8 L601.9 352.9 L603.3 353.8 L604.5 348.6 L603.7 353.8 L602.2 353.8 L605.9 353.8 L604.4 353.8 L606.2 353.8 L605.9 353.3 L604.7 353.8 L606.1 353.8 L604.3 353.8 L605.9 353.8 L602.5 353.8 L602.4 353.8 L603.4 353.8 L605.6 353.8 L605.2 353.8 L604.1 353.8 L604.4 353.8 L604.5 353.8 L605.5 353.8 L606.8 353.8 L606.8 353.8 L605.3 353.8 L605.6 353.8 L606.5 353.8 L604.5 353.8 L606.0 353.8 L606.8 353.8 L606.7 353.8 L605.6 353.8 L605.2 353.8 L605.2 353.8 L608.3 353.8 L606.6 353.4 L605.1 353.8 L604.1 353.8 L606.9 353.8 L608.9 353.8 L606.7 353.8 L605.9 353.8 L608.2 353.8 L606.9 353.8 L607.2 353.8 L607.8 353.8 L607.1 353.8 L608.5 353.8 L608.8 353.8 L607.7 350.9 L607.1 353.8 L608.4 353.8 L605.2 351.6 L607.6 353.8 L607.5 353.8 L609.2 353.8 L607.0 353.8 L609.9 353.8 L608.4 353.8 L609.2 353.8 L610.4 353.8 L609.0 353.8 L608.1 353.8 L609.4 353.8 L609.5 351.0 L611.7 353.8 L609.2 353.8 L610.5 353.8 L611.2 353.8 L610.9 353.8 L609.3 353.8 L608.2 353.8 L611.2 353.8 L612.1 353.8 L610.8 353.8 L611.6 353.8 L610.4 353.8 L611.4 353.8 L612.1 353.8 L610.5 351.2 L612.1 353.8 L610.6 353.8 L609.5 353.8 L611.3 353.8 L610.7 353.8 L611.6 353.8 L611.8 353.8 L610.9 352.5 L611.8 353.8 L610.8 353.8 L612.5 350.7 L610.3 353.8 L609.8 353.8 L613.0 353.2 L609.2 353.8 L611.5 353.8 L611.6 353.8 L613.1 353.8 L611.8 352.3 L611.8 353.8 L609.9 353.8 L613.6 353.8 L611.0 353.8 L612.4 353.8 L611.5 353.8 L614.1 353.8 L611.5 353.8 L611.0 353.8 L614.5 353.8 L612.1 353.8 L613.3 353.8 L613.7 353.8 L611.2 353.8 L614.6 350.7 L612.0 353.8 L613.5 353.8 L614.1 353.8 L613.5 353.4 L612.6 353.8 L615.0 353.8 L612.7 353.8 L612.3 353.8 L615.6 353.8 L615.7 353.8 L611.8 353.8 L614.0 351.1 L614.4 349.8 L611.6 353.8 L613.8 353.8 L616.1 347.4 L613.4 353.8 L616.5 353.8 L617.5 353.8 L614.8 353.8 L614.1 353.8 L615.2 353.8 L613.4 353.8 L617.0 353.8 L616.1 353.8 L613.7 351.0 L614.6 353.8 L615.3 353.8 L617.2 353.8 L616.9 352.9 L615.1 353.8 L616.3 353.8 L615.5 353.8 L616.8 353.8 L615.9 353.8 L619.1 353.8 L617.1 353.8 L616.2 353.8 L615.2 353.8 L614.9 353.8 L617.7 351.5 L618.0 351.7 L619.0 353.8 L615.7 353.8 L618.1 353.8 L615.6 353.8 L618.2 353.8 L618.1 353.8 L617.8 353.8 L617.2 353.8 L617.0 347.2 L617.3 353.8 L615.3 353.7 L618.8 353.5 L616.5 353.8 L618.3 353.8 L618.1 353.8 L619.2 353.8 L618.4 353.8 L618.5 353.8 L618.9 353.8 L619.9 353.8 L618.2 353.8 L617.6 353.8 L618.9 353.8 L618.8 353.8 L620.0 353.8 L619.7 353.8 L619.5 353.8 L620.8 353.8 L619.8 353.8 L620.3 353.4 L619.1 353.8 L621.7 353.8 L620.6 353.8 L618.7 353.8 L618.8 353.8 L622.4 353.8 L620.4 353.8 L622.5 353.8 L623.1 353.8 L620.6 353.8 L620.9 353.8 L621.7 353.8 L619.5 353.8 L618.4 353.8 L623.3 353.8 L619.9 353.8 L620.9 353.8 L623.1 353.4 L621.3 353.8 L622.5 353.8 L621.8 353.8 L619.8 353.8 L620.6 353.8 L621.8 353.8 L620.5 353.8 L623.1 353.8 L622.4 353.8 L619.9 353.8 L622.7 353.8 L621.5 353.8 L621.8 353.8 L623.3 351.6 L620.0 353.8 L621.3 353.8 L622.9 353.8 L620.7 353.8 L624.4 353.8 L619.9 353.8 L624.3 353.8 L623.9 353.7 L622.2 353.8 L623.2 353.8 L622.2 353.8 L625.7 353.8 L623.3 353.8 L624.1 353.8 L623.9 353.8 L621.8 353.8 L621.2 353.8 L624.0 353.8 L625.7 353.8 L624.8 353.8 L623.8 353.8 L624.7 353.8 L623.7 353.8 L626.0 353.8 L625.2 353.8 L624.9 353.8 L627.3 353.8 L623.9 353.8 L623.5 353.8 L624.5 353.8 L624.2 353.8 L624.2 353.8 L625.9 353.8 L625.8 353.8 L623.0 353.8 L624.4 350.1 L624.7 353.8 L623.1 353.8 L626.4 353.8 L625.8 353.8 L626.3 353.8 L624.9 353.8 L625.1 353.8 L626.3 353.8 L626.1 353.8 L625.5 353.8 L626.8 350.4 L625.4 353.8 L627.6 353.8 L627.0 353.8 L625.8 351.5 L625.0 353.8 L627.1 353.8 L628.2 353.8 L626.9 353.8 L628.8 353.8 L628.0 353.8 L628.8 353.8 L625.3 353.8 L626.5 353.8 L627.5 353.8 L627.8 353.8 L627.4 353.8 L627.1 351.1 L624.9 353.8 L629.3 353.8 L628.9 353.8 L627.4 353.5 L628.1 353.8 L627.4 353.8 L629.6 353.8 L628.0 353.8 L630.0 353.8 L627.9 353.8 L627.4 353.8 L626.6 353.8 L629.3 353.8 L628.0 353.8 L629.7 353.8 L630.4 353.8 L629.5 353.8 L631.2 353.8 L628.8 353.8 L628.3 353.8 L629.8 353.8 L629.4 353.8 L631.7 353.8 L627.5 353.8 L628.4 353.8 L631.6 353.8 L629.0 353.8 L629.8 353.8 L629.5 353.8 L630.2 353.8 L633.0 353.8 L631.8 353.8 L630.5 353.8 L633.1 353.1 L629.4 353.8 L631.0 353.8 L633.4 353.8 L629.3 353.8 L629.8 353.8 L629.9 353.8 L630.7 353.8 L632.3 353.8 L633.3 353.8 L632.9 353.8 L633.3 353.8 L632.1 353.8 L631.0 353.8 L630.6 353.8 L631.9 351.9 L630.8 353.8 L630.5 353.8 L632.9 353.8 L631.1 353.8 L631.9 353.8 L635.1 353.8 L633.1 353.8 L633.2 352.3 L632.3 353.8 L631.5 353.8 L633.6 353.8 L632.4 353.8 L632.8 353.8 L632.3 352.2 L633.7 353.8 L633.5 353.8 L630.5 351.4 L632.2 353.8 L633.2 353.8 L636.0 353.8 L632.4 353.8 L634.2 353.8 L635.3 353.8 L635.3 353.8 L633.3 353.8 L635.3 353.8 L634.5 353.8 L634.4 353.8 L633.7 353.8 L632.1 352.9 L633.8 353.8 L632.6 353.8 L635.8 353.8 L635.3 353.8 L637.1 353.8 L633.0 353.8 L632.9 353.8 L634.8 353.8 L635.4 353.8 L636.4 353.8 L633.8 353.7 L633.0 353.8 L634.2 353.8 L638.5 353.8 L634.3 353.8 L634.9 353.4 L636.9 353.8 L636.7 353.8 L635.4 353.8 L633.3 353.8 L636.9 353.8 L635.5 353.8 L638.0 353.8 L636.5 353.8 L637.2 353.8 L634.1 350.4 L636.8 353.8 L636.7 353.5 L636.3 353.8 L637.5 353.8 L637.8 353.8 L636.6 353.8 L638.0 353.8 L639.3 353.8 L638.1 353.8 L637.3 353.8 L638.0 353.8 L637.4 353.8 L638.1 353.8 L638.9 353.8 L637.5 353.8 L638.9 351.3 L640.3 353.8 L637.9 353.8 L637.3 353.8 L637.9 353.8 L639.4 351.5 L639.1 353.8 L637.9 353.8 L635.9 353.8 L639.5 351.6 L639.5 353.8 L639.5 353.8 L638.2 353.8 L636.3 353.8 L638.8 353.8 L638.3 352.7 L640.2 353.8 L641.5 353.8 L640.7 353.8 L639.3 353.8 L640.8 353.8 L639.2 353.8 L641.0 353.8 L640.2 353.8 L639.5 353.8 L640.8 353.8 L640.5 353.8 L642.2 353.8 L640.4 353.8 L640.4 353.8 L642.5 353.4 L641.3 353.8 L641.2 353.8 L643.6 353.8 L638.1 353.8 L639.3 350.4 L640.5 353.8 L643.1 353.8 L643.5 353.8 L642.0 353.8 L640.9 353.8 L640.0 353.8 L642.7 353.8 L642.6 353.8 L641.4 353.8 L643.6 353.8 L644.5 353.8 L641.3 353.8 L642.9 353.8 L640.9 353.8 L643.0 353.8 L641.1 353.8 L642.9 353.8 L645.4 353.8 L642.3 353.8 L645.0 353.8 L645.0 352.7 L644.9 353.8 L642.9 353.8 L641.6 353.8 L643.6 350.6 L644.4 353.8 L642.9 353.8 L642.6 353.8 L642.2 353.8 L646.5 353.8 L641.3 353.8 L645.1 353.8 L643.5 353.8 L645.8 353.8 L646.0 353.8 L643.0 353.8 L644.4 353.8 L644.1 353.8 L645.4 353.3 L644.5 353.8 L645.8 353.4 L645.5 353.8 L644.2 353.8 L646.4 353.8 L645.8 353.8 L645.9 353.8 L644.8 353.8 L646.3 353.8 L645.0 353.8 L647.3 353.8 L646.2 353.8 L642.7 353.8 L646.6 353.8 L646.6 353.8 L646.1 353.8 L647.1 352.0 L644.2 353.8 L646.7 353.8 L645.3 353.8 L646.7 353.8 L645.6 351.8 L644.9 353.8 L646.2 353.8 L644.6 353.8 L646.9 353.8 L647.9 353.8 L648.7 353.8 L647.6 353.8 L646.6 353.8 L647.0 353.8 L647.2 353.8 L649.0 353.6 L646.3 353.8 L646.9 353.8 L645.0 353.8 L649.4 353.8 L646.3 353.8 L646.3 353.8 L645.5 353.8 L648.4 353.8 L647.8 353.8 L647.8 352.5 L646.5 353.8 L647.7 353.8 L650.0 353.8 L646.6 353.8 L648.8 353.8 L650.5 353.8 L647.3 353.8 L649.7 353.8 L649.8 353.8 L648.0 353.8 L649.0 353.8 L650.1 353.8 L650.4 353.8 L648.6 353.8 L647.5 353.8 L649.8 353.8 L649.8 353.8 L650.6 353.8 L651.6 353.8 L651.3 353.8 L651.1 353.8 L649.7 353.8 L651.8 353.8 L651.8 353.8 L649.9 350.4 L649.8 353.8 L648.7 353.8 L650.0 353.8 L650.7 353.8 L650.5 353.8 L651.6 353.8 L651.0 353.8 L649.9 353.8 L652.7 353.8 L649.0 352.6 L652.6 353.8 L651.5 353.8 L651.8 353.8 L650.7 353.8 L651.8 348.5 L653.8 353.8 L651.0 353.8 L652.3 353.8 L652.2 353.8 L649.1 353.8 L651.4 353.8 L652.6 353.8 L651.5 353.8 L652.2 353.8 L650.9 350.3 L654.7 353.8 L653.1 353.7 L652.5 353.8 L651.9 353.8 L654.1 353.8 L653.2 353.8 L654.1 350.3 L654.0 353.8 L651.5 353.8 L654.0 352.1 L650.5 349.9 L650.5 353.8 L653.2 353.8 L655.8 347.2 L654.4 353.8 L654.5 353.8 L652.8 353.8 L653.7 350.5 L654.7 353.8 L651.4 353.8 L653.2 353.8 L653.6 353.8 L655.5 353.8 L656.0 353.8 L653.8 353.8 L656.6 353.8 L654.9 353.8 L654.7 351.5 L656.6 353.8 L654.0 353.8 L654.2 353.8 L653.5 353.8 L654.2 353.8 L652.4 353.8 L658.2 353.8 L656.4 351.7 L658.0 353.8 L653.6 353.8 L653.3 353.8 L657.7 353.8 L655.5 353.8 L655.5 352.2 L655.4 353.8 L654.4 353.8 L655.3 353.8 L659.1 353.8 L655.0 353.8 L658.4 353.8 L657.1 353.8 L657.7 353.8 L658.3 352.5 L655.6 353.8 L658.1 353.8 L657.6 353.8 L660.0 353.8 L657.8 353.8 L658.6 353.8 L657.7 353.8 L658.0 353.8 L657.9 353.8 L657.6 353.8 L659.1 353.8 L658.2 353.8 L658.6 353.8 L659.2 353.8 L657.2 353.8 L657.8 353.8 L658.7 353.8 L659.0 353.8 L660.7 353.8 L655.8 353.8 L657.6 353.8 L657.4 353.8 L658.8 353.8 L658.5 353.7 L656.7 353.8 L657.8 351.4 L657.8 353.8 L656.8 353.8 L657.9 353.8 L658.5 353.8 L660.7 353.8 L659.6 353.8 L658.9 353.8 L658.7 353.8 L659.4 353.8 L661.4 353.8 L661.6 353.8 L658.9 353.8 L659.6 353.8 L660.3 353.8 L660.6 353.8 L659.0 353.8 L661.2 353.8 L661.6 353.8 L661.8 353.8 L663.1 351.7 L662.1 353.8 L660.7 353.8 L659.1 353.8 L661.0 353.2 L660.3 353.8 L662.6 353.8 L661.2 353.8 L659.8 353.8 L660.8 353.8 L663.5 352.1 L660.8 353.8 L662.0 353.8 L663.2 353.8 L662.3 353.8 L660.2 353.8 L660.2 353.8 L661.1 350.2 L662.8 353.8 L662.7 353.8 L661.4 353.8 L662.5 353.8 L662.9 353.8 L660.5 353.8 L661.1 353.8 L662.9 353.8 L664.4 353.8 L662.7 353.8 L663.3 353.8 L665.1 353.8 L662.2 353.8 L663.3 351.2 L663.1 353.8 L665.9 353.8 L662.9 353.8 L662.6 353.8 L665.1 353.8 L666.7 353.8 L665.2 353.8 L665.7 353.8 L665.9 353.8 L664.9 353.8 L664.1 353.8 L666.8 353.8 L665.2 353.8 L663.2 353.8 L664.1 353.8 L664.8 353.8 L663.8 353.6 L664.9 353.8 L664.5 353.8 L664.6 353.8 L663.3 353.8 L667.2 353.8 L663.9 353.8 L663.8 353.8 L666.4 353.8 L665.4 353.8 L665.5 353.8 L668.1 353.8 L664.9 353.8 L664.3 353.8 L664.9 353.8 L665.3 351.6 L666.6 353.8 L667.0 353.8 L667.9 353.3 L665.9 353.8 L667.2 353.8 L665.4 353.1 L666.1 353.8 L667.0 353.8 L665.4 353.8 L669.2 353.8 L666.5 353.8 L666.0 353.8 L666.0 353.8 L667.6 353.8 L669.6 353.8 L665.7 353.8 L667.7 353.8 L666.5 347.2 L668.8 353.8 L667.1 353.8 L665.0 353.8 L666.5 353.8 L667.7 353.8 L667.7 353.5 L670.2 353.8 L668.9 353.8 L667.0 353.8 L669.5 353.8 L668.4 353.8 L671.3 353.8 L668.4 348.6 L668.0 353.8 L669.3 353.8 L671.3 353.8 L668.6 353.8 L671.2 353.8 L669.4 353.8 L669.7 353.8 L671.1 353.8 L671.0 353.8 L670.4 352.1 L672.2 353.8 L669.2 353.8 L667.0 353.8 L670.9 353.8 L670.3 353.8 L669.9 353.8 L671.8 353.8 L667.4 353.8 L670.0 353.8 L672.2 353.8 L671.0 353.8 L672.3 353.8 L671.1 353.8 L669.2 353.8 L669.3 353.8 L671.2 353.8 L669.3 353.8 L673.2 350.9 L670.1 353.8 L668.9 353.8 L671.0 353.8 L672.1 353.8 L671.4 353.8 L671.4 353.8 L671.1 353.8 L669.5 353.8 L672.1 353.8 L673.0 353.8 L670.8 353.8 L672.8 353.8 L670.0 353.8 L672.6 353.8 L671.0 353.8 L673.6 353.8 L670.7 348.7 L671.1 353.8 L672.3 353.8 L672.7 353.8 L672.5 353.8 L673.9 353.8 L673.0 353.8 L672.7 353.8 L675.4 353.8 L674.6 353.8 L673.7 347.2 L674.0 353.8 L671.2 353.8 L672.0 353.8 L676.6 353.8 L671.9 353.8 L675.2 353.8 L674.6 353.8 L673.6 353.8 L677.1 353.8 L673.9 353.8 L676.3 353.8 L673.6 353.8 L674.9 353.8 L675.1 353.8 L675.0 353.8 L676.3 353.8 L675.3 353.8 L673.3 353.8 L675.3 353.8 L672.9 353.8 L677.1 353.8 L676.6 353.8 L676.6 353.8 L675.2 353.8 L676.2 353.8 L672.8 351.7 L674.9 353.8 L676.0 353.8 L673.1 353.8 L676.2 353.8 L675.5 352.5 L676.5 352.2 L675.5 353.8 L678.1 353.8 L676.3 353.8 L678.1 353.8 L677.7 353.8 L675.0 353.8 L674.0 353.8 L676.4 353.8 L677.3 353.8 L677.5 353.8 L676.5 353.8 L680.1 353.8 L677.1 353.8 L679.4 353.8 L675.2 353.8 L678.2 353.8 L677.4 351.8 L679.1 353.8 L680.7 353.8 L677.0 351.1 L677.2 353.4 L677.9 353.8 L677.8 353.8 L678.2 353.8 L678.4 353.8 L677.7 353.8 L678.5 353.8 L678.3 353.7 L680.4 352.8 L678.0 353.8 L679.9 353.8 L679.7 353.8 L679.3 353.8 L680.6 353.8 L676.7 353.8 L679.8 353.8 L678.4 353.8 L676.6 353.8 L679.0 353.8 L680.0 353.8 L677.1 349.5 L680.2 353.8 L678.5 353.8 L678.8 353.8 L682.0 353.8 L681.7 353.8 L681.1 353.8 L680.8 353.8 L679.2 353.8 L682.9 353.8 L682.0 353.8 L681.6 353.0 L682.6 353.5 L681.1 353.8 L681.0 353.8 L682.0 353.8 L682.2 353.8 L683.4 353.8 L680.8 353.8 L683.8 353.8 L681.6 353.8 L682.9 353.1 L682.1 353.8 L679.3 353.8 L681.6 353.8 L681.7 353.8 L681.5 353.8 L684.9 353.8 L681.6 353.8 L683.0 353.8 L683.2 353.8 L681.8 352.7 L680.6 353.8 L681.3 353.8 L684.7 353.8 L681.8 353.8 L683.3 353.8 L683.3 353.8 L681.5 353.8 L684.1 353.8 L683.8 353.8 L681.5 353.8 L682.1 353.8 L682.8 353.8 L684.9 353.8 L682.6 353.8 L681.0 353.8 L686.1 353.8 L682.4 353.8 L683.1 353.8 L683.2 353.8 L681.4 353.8 L685.9 353.8 L685.6 353.8 L685.8 353.8 L684.7 353.8 L687.4 353.8 L682.7 353.8 L684.8 353.8 L684.4 351.3 L682.0 353.8 L683.8 353.8 L684.7 353.8 L684.9 353.8 L684.7 353.8 L685.2 353.8 L685.6 353.8 L685.1 353.0 L687.2 353.8 L685.5 353.8 L687.5 353.8 L687.8 353.8 L686.1 352.1 L684.8 353.8 L686.6 353.8 L687.9 353.8 L683.4 353.8 L685.9 353.8 L689.3 353.8 L686.2 353.8 L685.6 353.8 L685.7 353.8 L685.9 353.8 L686.2 353.8 L685.1 353.1 L687.2 353.8 L687.1 353.8 L685.3 353.8 L688.9 353.8 L688.8 353.8 L686.7 353.7 L687.1 353.8 L688.1 353.8 L687.7 353.8 L688.5 353.8 L689.4 353.8 L690.1 353.8 L689.5 353.8 L687.9 353.8 L687.8 353.8 L686.3 353.8 L688.6 353.8 L690.7 353.8 L689.4 352.7 L687.8 353.8 L689.2 353.8 L688.3 353.8 L689.0 353.8 L688.2 353.8 L691.3 353.8 L686.3 353.8 L687.9 353.8 L690.2 353.8 L686.5 353.8 L688.9 353.8 L687.9 353.8 L690.1 353.8 L689.8 353.8 L689.7 353.8 L689.9 353.8 L689.7 353.8 L692.7 353.8 L689.7 353.8 L688.9 353.8 L690.4 348.0 L688.4 353.8 L689.1 353.8 L691.9 353.8 L690.9 353.8 L690.6 347.1 L692.3 353.8 L689.7 353.8 L688.5 353.8 L692.5 353.8 L690.9 353.8 L694.2 353.8 L689.3 353.8 L691.6 353.8 L690.8 353.8 L691.9 353.8 L691.6 353.8 L691.3 353.8 L694.0 351.2 L693.4 349.4 L692.6 353.8 L693.1 353.8 L692.7 353.8 L690.0 353.8 L691.3 353.8 L693.0 353.8 L692.9 353.8 L695.0 352.1 L691.8 353.8 L692.7 353.8 L693.0 348.5 L693.4 353.8 L694.8 353.8 L692.1 353.8 L694.7 353.8 L693.9 353.8 L691.5 353.8 L691.8 353.8 L693.5 353.8 L696.1 352.2 L694.3 353.8 L694.7 353.8 L694.4 353.8 L692.4 353.8 L693.3 353.8 L692.1 350.2 L695.5 352.6 L693.8 349.3 L696.2 349.6 L694.4 348.9 L692.7 353.8 L694.2 348.2 L696.2 350.3 L694.5 344.3 L695.1 350.9 L693.0 352.0 L694.7 353.8 L696.3 352.5 L695.2 353.8 L695.7 353.8 L695.9 353.1 L694.5 348.4 L695.8 353.8 L695.7 352.1 L694.9 344.4 L698.3 353.8 L698.2 348.6 L697.9 353.8 L696.1 352.7 L694.2 350.1 L697.4 348.1 L695.6 353.8 L697.6 353.8 L696.1 344.9 L695.8 350.8 L694.3 348.0 L697.3 347.4 L697.8 348.0 L697.9 352.5 L698.4 351.8 L695.0 353.8 L697.5 350.2 L698.6 353.1 L698.9 350.9 L695.4 342.3 L698.1 347.5 L699.2 350.3 L698.8 353.8 L696.7 347.1 L699.3 343.4 L698.5 353.8 L700.2 348.2 L697.4 352.4 L698.6 350.6 L698.5 351.4 L699.5 353.8 L696.7 351.8 L698.6 353.8 L697.0 342.9 L698.6 344.3 L698.2 348.7 L699.0 347.5 L700.2 348.4 L699.7 347.6 L700.0 347.5 L700.0 349.3 L699.3 348.8 L698.7 353.8 L700.1 352.4 L697.4 350.4 L700.1 346.6 L699.2 349.1 L699.0 338.6 L700.2 348.0 L700.3 348.6 L698.8 344.9 L700.3 342.0 L701.1 338.1 L699.5 342.0 L701.5 349.0 L698.7 346.9 L699.6 341.2 L701.8 344.7 L700.5 342.1 L700.2 345.9 L701.7 338.1 L702.1 338.7 L701.2 340.0 L701.8 344.3 L701.5 352.3 L700.8 350.9 L701.9 343.1 L701.3 341.4 L699.0 353.8 L701.1 346.4 L702.6 338.6 L702.1 339.4 L702.0 346.1 L701.3 340.6 L700.2 343.3 L701.0 344.4 L700.6 337.8 L700.5 337.5 L703.2 345.5 L702.0 347.4 L701.1 349.1 L703.5 349.6 L704.0 335.7 L701.0 332.8 L704.0 341.0 L701.5 336.6 L706.2 345.3 L703.8 342.0 L700.8 336.8 L705.1 339.7 L702.3 341.4 L704.3 349.8 L706.1 348.6 L705.1 343.0 L701.8 343.6 L704.2 340.9 L703.3 343.8 L704.5 341.4 L703.9 339.8 L704.2 337.1 L706.5 339.5 L703.7 342.7 L706.3 341.1 L703.5 334.4 L704.5 340.4 L702.9 344.6 L706.5 344.7 L705.2 337.2 L703.4 335.4 L705.4 331.4 L704.8 340.1 L704.8 330.0 L704.8 339.8 L706.4 338.9 L704.8 340.7 L707.1 334.1 L706.7 330.7 L707.2 336.9 L707.5 339.5 L706.7 345.5 L705.3 335.2 L707.5 338.0 L704.5 336.9 L705.6 339.3 L708.0 340.6 L704.3 337.7 L705.6 332.1 L705.1 328.7 L707.4 334.5 L705.6 332.2 L707.3 335.2 L707.2 334.6 L709.8 342.2 L710.0 327.7 L706.3 329.3 L706.6 323.6 L707.5 336.7 L707.2 331.7 L707.3 338.3 L707.6 330.5 L709.1 332.7 L709.8 327.2 L706.3 332.4 L709.0 326.9 L708.5 334.2 L707.1 326.8 L708.4 332.6 L707.8 333.3 L708.8 329.5 L708.8 327.4 L706.6 339.3 L708.2 339.8 L709.3 328.0 L708.2 329.4 L706.3 342.9 L710.9 340.4 L709.1 333.8 L710.2 325.9 L708.6 326.5 L708.4 320.6 L710.9 319.2 L709.9 310.5 L709.2 337.4 L710.4 327.2 L709.6 319.0 L710.4 335.5 L711.3 336.5 L710.3 324.5 L709.8 317.5 L711.3 316.0 L712.1 337.8 L710.9 333.3 L710.7 324.7 L710.8 327.5 L710.0 320.7 L711.8 321.7 L710.5 309.1 L710.6 322.4 L711.7 320.1 L713.2 320.5 L712.9 312.3 L710.1 328.8 L713.4 316.9 L712.7 325.5 L711.9 330.1 L713.1 309.5 L712.3 314.2 L714.5 306.9 L711.1 315.4 L714.1 311.9 L711.7 315.6 L711.9 311.7 L713.5 319.1 L709.9 301.9 L713.7 322.0 L714.4 301.0 L710.5 315.7 L712.0 306.8 L714.3 312.2 L711.7 309.4 L711.4 300.6 L715.5 311.0 L712.7 319.3 L715.5 309.4 L714.8 305.7 L714.0 330.3 L712.6 302.2 L715.1 300.8 L714.4 323.6 L713.1 310.1 L713.0 301.8 L713.6 317.5 L712.6 311.1 L713.5 310.0 L714.9 302.3 L713.2 297.3 L714.0 306.3 L714.1 305.1 L714.4 297.6 L713.8 300.4 L715.3 305.4 L716.4 293.0 L713.3 315.4 L714.3 302.0 L714.9 306.3 L716.7 306.6 L715.1 300.4 L714.7 301.3 L716.6 280.7 L715.3 295.5 L714.2 297.5 L716.0 286.0 L715.9 290.4 L715.1 313.7 L713.8 296.1 L715.4 289.9 L716.7 300.4 L716.7 291.9 L714.4 297.4 L714.9 289.4 L717.7 305.5 L714.2 307.4 L717.8 294.5 L717.6 287.0 L719.5 276.6 L714.8 289.5 L718.1 292.6 L716.3 277.4 L717.2 284.1 L715.9 267.9 L718.5 283.3 L718.2 298.5 L716.0 287.7 L715.7 288.1 L718.1 291.0 L717.2 284.8 L718.1 283.1 L718.2 278.7 L718.5 280.1 L718.2 270.8 L717.5 269.9 L719.6 271.0 L719.3 269.9 L718.4 287.3 L719.1 284.5 L718.6 276.7 L718.6 265.8 L718.2 280.0 L720.7 269.9 L718.3 263.1 L720.8 246.7 L720.0 261.1 L720.0 267.3 L720.2 251.9 L720.0 258.9 L717.9 262.5 L717.6 248.9 L718.7 266.2 L719.0 255.4 L719.8 255.5 L719.7 247.2 L720.4 264.7 L717.9 265.2 L720.3 256.1 L719.2 254.2 L719.4 250.4 L719.4 253.3 L720.4 245.1 L719.3 241.8 L721.5 245.1 L721.6 255.9 L719.8 234.8 L719.9 258.5 L720.9 245.4 L722.6 234.5 L721.9 247.4 L720.3 228.9 L721.1 222.3 L719.7 224.5 L720.8 234.0 L720.1 228.0 L722.3 240.8 L721.3 231.4 L721.7 229.9 L719.8 232.2 L721.3 230.7 L721.5 233.0 L723.5 248.4 L720.0 225.4 L721.0 225.2 L721.1 207.9 L723.0 219.5 L721.7 224.5 L724.1 215.9 L724.7 217.3 L720.3 222.3 L724.5 224.8 L723.9 234.0 L724.1 218.0 L723.8 202.8 L722.9 234.9 L722.7 225.2 L722.7 208.0 L722.4 212.4 L724.0 209.2 L723.6 230.0 L724.0 216.9 L724.1 205.4 L721.8 203.6 L724.0 205.4 L723.2 215.7 L723.1 201.1 L724.2 216.8 L725.5 213.3 L724.2 214.5 L724.9 188.4 L726.7 205.3 L725.7 199.8 L725.6 220.6 L724.0 187.7 L726.2 192.8 L724.7 212.4 L727.2 211.0 L727.9 178.2 L724.5 202.6 L725.9 174.4 L725.8 196.0 L727.7 214.8 L724.1 178.7 L727.4 183.8 L727.4 181.2 L726.2 192.0 L726.9 188.3 L726.2 175.9 L726.8 192.6 L726.2 203.1 L724.8 173.8 L725.9 188.0 L726.0 168.4 L727.5 185.0 L726.3 183.6 L727.6 181.0 L728.4 201.1 L726.6 165.0 L727.9 182.2 L725.6 177.0 L727.6 159.5 L728.8 172.2 L728.8 163.5 L730.4 168.2 L727.1 163.0 L728.0 167.1 L728.0 157.4 L727.1 170.3 L728.0 162.6 L726.5 173.6 L727.9 153.6 L731.1 186.9 L727.4 162.0 L729.7 159.7 L730.3 159.9 L730.5 163.5 L729.6 149.8 L729.2 142.0 L730.1 169.7 L730.3 183.2 L727.1 174.9 L731.1 172.1 L729.4 165.2 L730.6 164.5 L730.7 153.0 L730.0 168.4 L728.1 164.5 L727.4 163.0 L730.9 173.0 L729.0 167.4 L728.0 136.7 L729.3 165.3 L730.0 174.0 L732.2 186.2 L728.8 154.2 L730.9 167.8 L730.6 170.9 L729.9 140.6 L729.2 150.7 L732.5 181.6 L730.5 168.3 L731.2 155.2 L730.6 156.9 L733.3 175.9 L731.5 147.9 L730.6 147.4 L732.4 176.2 L731.5 182.8 L730.1 179.4 L729.6 159.9 L730.8 156.3 L731.0 165.1 L729.7 172.8 L729.1 168.3 L732.0 162.3 L732.0 179.4 L732.8 184.1 L730.5 169.3 L732.1 157.2 L732.4 167.2 L731.9 167.4 L731.3 175.8 L732.5 161.3 L731.9 185.8 L731.9 170.9 L732.3 176.0 L731.6 172.3 L731.6 179.6 L732.8 164.6 L733.1 172.4 L734.1 177.3 L732.9 167.6 L732.3 172.9 L731.9 177.4 L734.7 178.3 L732.9 166.3 L732.3 181.9 L735.6 175.8 L735.2 176.4 L733.2 171.6 L733.9 176.3 L733.0 155.9 L734.0 190.4 L736.1 170.2 L734.2 175.9 L735.8 166.3 L736.3 190.3 L732.3 165.9 L733.8 188.6 L736.6 171.0 L734.2 172.9 L734.2 177.2 L734.1 184.0 L736.3 185.0 L735.1 177.5 L738.3 184.9 L735.8 195.2 L732.9 194.2 L734.0 172.6 L735.9 172.7 L738.2 175.5 L737.1 179.7 L735.1 177.1 L735.3 176.4 L734.1 178.7 L737.6 187.4 L734.2 187.2 L737.4 190.8 L737.7 180.4 L737.1 189.9 L738.2 183.3 L739.6 171.7 L735.8 185.5 L739.2 174.9 L734.3 170.5 L736.6 197.7 L737.0 194.7 L737.2 179.9 L738.9 189.4 L737.2 179.8 L736.4 178.7 L736.4 188.5 L737.2 178.3 L738.5 171.4 L736.5 177.7 L737.0 192.1 L737.2 186.7 L738.8 189.9 L738.6 174.0 L736.8 187.7 L736.8 191.7 L737.5 186.3 L739.0 183.0 L740.3 189.9 L738.9 186.5 L737.9 187.5 L741.6 182.3 L740.0 180.8 L736.3 186.2 L740.0 191.9 L740.7 185.7 L740.7 195.4 L738.7 181.2 L737.4 186.8 L739.7 187.8 L740.5 207.4 L740.5 172.8 L740.3 179.7 L739.0 181.3 L740.2 189.8 L740.0 186.1 L739.5 171.5 L742.6 196.3 L740.0 186.2 L740.1 187.5 L742.9 191.0 L740.1 189.7 L740.1 199.4 L740.6 188.1 L739.2 202.2 L741.7 180.1 L740.5 187.7 L741.4 199.6 L742.6 208.5 L740.5 193.3 L740.7 190.6 L739.3 201.4 L742.5 182.9 L741.0 193.0 L742.7 198.3 L741.6 205.1 L741.1 196.4 L740.8 197.2 L743.5 191.5 L742.9 189.0 L743.5 196.3 L742.2 193.5 L740.5 187.1 L742.3 192.9 L743.4 199.2 L743.6 193.4 L743.9 201.5 L744.2 195.1 L744.2 198.0 L745.2 206.1 L740.8 194.8 L744.1 198.5 L744.1 194.4 L744.5 208.5 L743.7 192.4 L742.6 192.3 L744.0 202.7 L744.8 201.2 L744.0 200.5 L745.3 201.2 L745.2 195.7 L741.4 206.3 L747.0 209.4 L742.9 203.7 L747.2 189.7 L745.5 205.1 L743.8 209.4 L745.0 209.1 L744.6 202.2 L745.6 195.9 L743.0 208.6 L744.6 202.9 L742.2 202.9 L745.1 201.5 L744.6 203.9 L743.8 198.2 L744.0 200.9 L745.2 209.5 L744.8 190.1 L745.4 214.8 L745.1 214.7 L745.1 199.9 L745.0 205.6 L747.4 208.6 L745.5 205.9 L746.1 203.1 L747.2 210.4 L748.0 212.0 L744.6 214.8 L746.0 213.9 L745.3 213.7 L746.9 201.7 L747.0 207.4 L744.7 206.0 L745.6 213.2 L746.0 203.4 L748.3 219.9 L744.4 207.4 L748.0 206.3 L747.4 214.4 L746.7 217.4 L747.7 208.1 L746.7 216.0 L750.2 217.3 L747.9 212.2 L747.2 219.2 L749.4 213.4 L748.1 200.5 L747.0 215.7 L747.9 207.8 L748.8 219.9 L748.5 213.3 L748.8 215.6 L748.9 215.2 L749.6 209.9 L748.7 201.9 L751.2 215.8 L749.7 207.5 L750.6 213.5 L749.1 211.5 L748.3 218.9 L749.2 220.6 L749.6 217.8 L748.7 221.5 L746.6 217.3 L748.9 223.7 L751.2 217.7 L751.8 217.0 L751.8 207.7 L749.5 208.5 L749.5 215.8 L752.3 222.0 L751.1 215.8 L748.8 214.9 L748.9 221.0 L749.3 225.1 L749.7 230.9 L747.8 220.9 L749.7 209.8 L750.0 222.4 L751.7 219.3 L750.5 219.7 L748.8 219.2 L751.6 217.8 L752.4 234.2 L753.6 223.7 L752.7 220.9 L752.6 223.9 L753.8 216.6 L750.0 226.1 L754.1 218.9 L754.3 214.2 L751.0 226.2 L753.5 224.8 L750.3 226.9 L755.0 221.1 L753.4 238.1 L752.4 234.4 L751.3 228.0 L752.7 221.5 L753.6 223.4 L752.8 231.8 L754.3 218.1 L753.3 227.0 L752.3 231.4 L754.4 225.1 L756.0 220.9 L750.5 229.0 L753.4 237.6 L754.7 232.3 L752.7 228.9 L752.2 224.4 L752.7 235.7 L753.9 228.8 L752.4 237.3 L751.6 230.4 L752.1 238.6 L754.3 234.0 L753.9 240.2 L755.5 237.4 L754.5 241.2 L752.9 243.6 L753.5 225.7 L753.4 226.3 L755.7 230.5 L754.6 235.5 L754.5 225.4 L755.3 235.6 L755.7 231.9 L754.1 228.1 L753.3 233.5 L755.1 226.7 L754.7 236.1 L755.9 236.4 L753.7 235.1 L757.4 242.6 L755.5 242.4 L757.4 232.3 L756.5 246.6 L755.8 230.8 L754.8 235.9 L755.9 231.1 L755.0 233.7 L758.5 234.9 L755.3 228.8 L756.5 239.2 L755.5 239.6 L755.8 233.0 L756.9 243.2 L759.5 233.5 L755.4 236.3 L757.1 243.2 L758.5 247.7 L757.1 252.1 L756.6 230.8 L760.2 249.7 L757.9 248.4 L756.7 237.2 L755.4 239.7 L756.4 241.4 L757.0 242.4 L759.1 245.5 L757.9 248.5 L756.9 247.8 L760.3 240.7 L759.7 238.3 L757.7 238.0 L759.5 245.0 L758.5 257.4 L757.8 242.5 L757.2 246.4 L758.4 260.6 L758.9 238.6 L759.3 245.2 L759.2 247.0 L760.4 245.9 L761.1 246.6 L759.2 246.2 L760.2 247.1 L761.0 247.9 L759.1 245.1 L758.6 246.6 L756.9 235.6 L759.4 248.3 L757.0 252.1 L758.6 252.8 L760.5 247.7 L761.1 249.4 L758.4 249.0 L757.5 251.7 L758.5 251.8 L760.8 246.9 L763.2 243.7 L760.4 249.4 L758.0 251.9 L759.2 257.8 L762.4 257.9 L761.4 251.6 L761.8 253.3 L760.9 252.7 L761.0 258.3 L758.5 253.1 L762.5 263.1 L763.5 259.2 L760.7 257.2 L760.6 250.0 L761.5 256.6 L761.3 258.5 L760.2 252.2 L760.4 254.3 L762.3 249.0 L763.6 252.4 L761.4 253.1 L760.3 255.4 L762.9 251.1 L763.9 258.6 L761.6 263.0 L761.1 250.2 L762.0 257.7 L762.4 255.1 L764.8 252.2 L761.6 250.3 L763.5 270.4 L763.7 261.5 L762.6 249.6 L765.6 265.3 L764.2 253.9 L762.7 258.5 L763.2 261.4 L763.7 257.5 L765.9 265.9 L763.4 255.0 L764.9 251.1 L764.6 265.0 L762.7 261.1 L764.6 251.4 L762.9 255.9 L763.8 259.7 L764.2 250.7 L765.3 267.1 L764.4 259.9 L764.1 258.1 L764.0 260.4 L764.3 254.7 L765.2 267.8 L763.3 259.0 L764.2 263.5 L765.2 253.2 L762.4 254.2 L766.2 263.7 L766.6 265.7 L764.6 260.3 L765.5 264.7 L765.6 263.3 L765.2 258.3 L766.1 263.0 L764.4 251.4 L767.0 260.6 L765.2 263.8 L767.6 267.0 L769.2 264.1 L766.7 255.8 L767.1 258.8 L766.9 254.5 L766.5 255.2 L767.6 259.3 L768.2 265.8 L766.2 263.2 L768.7 262.2 L766.8 271.2 L769.1 261.1 L767.0 268.3 L764.6 263.5 L766.9 265.8 L766.3 260.4 L767.3 250.0 L768.8 269.7 L766.9 263.8 L767.0 253.4 L768.1 268.7 L766.2 265.3 L767.5 264.8 L769.9 262.8 L770.2 272.7 L767.6 263.1 L767.9 261.7 L769.5 252.0 L770.2 265.4 L768.2 268.1 L767.7 264.6 L767.9 278.6 L770.5 263.8 L769.8 257.8 L768.1 266.0 L771.4 266.1 L768.9 267.3 L768.4 265.5 L770.9 272.6 L771.0 258.7 L768.8 268.9 L769.1 269.0 L770.7 258.5 L769.5 266.9 L771.6 269.2 L771.2 259.0 L769.5 266.4 L767.4 262.8 L770.5 270.4 L770.4 276.6 L773.4 267.0 L769.3 260.8 L770.5 270.4 L772.9 266.4 L770.6 264.8 L772.2 267.2 L771.4 268.3 L771.1 264.9 L772.1 267.8 L770.8 271.7 L770.3 263.9 L772.1 265.3 L771.2 267.5 L772.2 265.9 L773.5 282.8 L772.9 268.4 L770.4 269.7 L770.8 280.0 L770.3 259.8 L771.5 268.6 L771.3 272.6 L773.0 272.5 L774.0 269.4 L773.1 270.9 L769.9 279.0 L772.3 273.1 L772.8 269.0 L774.6 268.3 L773.5 267.2 L774.0 276.9 L773.5 274.9 L771.3 270.0 L774.0 275.0 L774.7 271.1 L772.0 276.4 L775.8 269.5 L776.4 272.2 L772.6 269.7 L773.0 272.6 L772.5 276.8 L774.3 279.1 L773.0 272.9 L776.4 276.3 L773.5 280.8 L774.3 276.2 L775.3 269.7 L774.0 267.6 L776.7 270.1 L774.6 267.3 L775.0 276.0 L775.8 275.0 L773.2 279.1 L775.2 278.4 L774.3 266.7 L775.5 272.6 L773.8 271.7 L777.2 262.1 L776.3 265.6 L775.1 279.6 L775.4 270.6 L773.6 279.3 L776.4 270.8 L774.3 285.1 L777.0 280.6 L775.1 280.6 L778.3 266.3 L775.8 285.2 L775.6 271.0 L777.8 271.3 L776.3 276.2 L779.1 272.7 L779.2 264.2 L775.9 275.9 L778.4 278.6 L777.7 270.7 L777.2 273.7 L774.7 283.4 L777.0 276.9 L776.6 276.5 L778.8 283.8 L779.0 282.9 L776.0 281.6 L775.8 284.5 L777.9 276.1 L777.2 277.3 L779.0 290.0 L777.2 281.2 L779.8 278.4 L780.3 286.1 L776.6 280.9 L777.0 278.2 L778.5 288.2 L778.1 281.4 L781.0 291.8 L778.4 276.5 L778.4 284.0 L776.8 287.7 L779.6 289.8 L777.7 289.0 L778.2 274.6 L776.5 285.3 L778.9 284.1 L779.5 283.4 L779.6 289.1 L777.4 277.9 L779.7 294.3 L780.1 277.6 L780.6 285.9 L777.8 282.1 L780.2 281.0 L780.3 278.4 L779.9 288.9 L780.6 279.9 L778.8 283.3 L779.2 283.9 L783.2 284.7 L781.9 277.9 L781.6 281.2 L781.2 277.4 L780.3 279.3 L779.8 293.9 L779.1 284.6 L780.7 279.3 L778.9 288.9 L781.1 292.9 L780.2 296.1 L780.8 274.9 L780.7 289.6 L783.8 284.3 L784.1 290.6 L780.2 283.3 L784.6 277.3 L783.1 292.9 L782.7 286.1 L783.5 289.7 L779.2 295.4 L782.6 290.6 L784.6 286.2 L781.8 280.3 L784.2 280.2 L781.8 286.8 L781.4 295.1 L783.4 283.7 L782.4 287.1 L782.1 287.3 L782.7 293.1 L783.3 288.3 L784.2 277.9 L783.2 280.3 L783.5 281.6 L783.3 284.7 L782.6 290.1 L782.5 288.3 L783.2 287.7 L782.9 286.6 L783.2 290.4 L784.7 293.1 L784.1 283.4 L784.2 290.9 L783.0 284.9 L783.7 290.1 L783.9 285.9 L783.5 286.9 L785.5 285.8 L787.0 286.2 L786.0 294.4 L783.5 296.5 L784.4 290.1 L785.8 281.8 L784.7 294.2 L785.2 294.8 L783.6 279.0 L783.7 298.0 L786.1 293.3 L784.5 292.6 L786.4 294.0 L786.8 294.0 L784.7 285.5 L784.7 289.9 L787.9 290.1 L785.8 299.3 L786.6 287.3 L786.7 290.5 L786.0 290.7 L786.4 287.4 L787.3 290.1 L786.3 291.8 L784.2 289.7 L786.1 295.4 L786.0 296.5 L786.2 298.8 L788.2 287.4 L784.9 295.5 L787.9 291.5 L785.5 287.0 L786.5 283.6 L788.0 294.4 L786.3 291.9 L789.2 292.4 L788.8 299.4 L787.2 295.4 L787.3 279.9 L787.2 293.5 L785.0 284.6 L787.0 289.6 L787.1 284.8 L788.3 287.1 L789.1 292.6 L785.5 299.9 L787.3 286.8 L789.4 290.5 L789.4 291.7 L790.6 289.9 L788.0 298.2 L787.2 293.7 L788.9 294.5 L789.7 301.9 L787.7 300.6 L788.0 295.4 L787.6 305.7 L790.1 291.3 L787.8 291.3 L789.6 295.5 L789.6 293.9 L789.3 304.3 L790.3 294.6 L789.8 291.9 L788.2 293.2 L788.8 291.2 L790.5 296.2 L792.4 286.2 L791.2 293.9 L790.4 292.2 L790.8 290.9 L789.4 300.1 L792.5 301.9 L792.2 292.7 L788.0 302.7 L791.8 299.6 L788.7 292.0 L791.0 302.3 L792.8 301.8 L790.2 303.2 L791.4 302.3 L791.1 288.1 L788.6 294.7 L794.3 292.8 L792.4 307.1 L788.9 309.4 L793.8 303.4 L791.0 292.8 L791.3 292.2 L791.4 307.7 L793.5 306.7 L792.9 295.1 L791.1 297.2 L792.3 296.3 L791.0 295.4 L794.1 303.6 L793.1 298.2 L794.0 300.3 L791.1 293.0 L792.9 300.6 L795.4 308.4 L792.4 293.1 L793.1 290.6 L792.6 294.7 L792.4 301.2 L793.6 304.3 L793.3 294.9 L792.5 302.4 L792.6 297.4 L794.5 296.3 L795.8 300.8 L794.5 310.0 L794.7 297.9 L793.3 305.3 L793.8 308.2 L793.2 300.9 L794.4 300.1 L794.5 301.3 L796.2 297.9 L796.4 310.3 L794.2 298.3 L795.8 293.3 L794.7 301.7 L793.5 303.9 L794.3 302.4 L795.6 295.7 L795.6 302.6 L796.3 305.7 L794.4 310.1 L795.2 295.1 L793.2 295.1 L796.9 302.1 L798.6 292.2 L796.3 304.3 L793.2 298.9 L796.1 308.9 L796.1 307.5 L797.3 302.8 L797.1 300.5 L798.4 299.9 L798.1 307.3 L797.2 305.7 L795.8 303.7 L795.9 304.6 L797.1 304.6 L796.4 299.5 L798.5 297.9 L798.0 312.6 L798.2 297.4 L794.4 303.0 L796.1 302.3 L799.0 302.4 L797.7 299.6 L797.8 300.8 L798.8 311.7 L797.0 300.2 L797.0 309.9 L797.5 302.7 L796.4 303.6 L797.8 312.2 L795.5 304.8 L800.2 306.2 L800.7 308.3 L799.4 295.3 L798.8 304.4 L796.1 307.1 L801.4 297.0 L799.7 305.6 L797.9 306.2 L797.9 315.3 L799.3 302.9 L798.1 301.1 L799.8 296.8 L800.6 310.9 L797.7 301.1 L797.5 299.5 L798.7 302.9 L800.9 306.4 L800.1 314.5 L800.0 305.7 L799.7 309.4 L801.6 315.2 L798.8 304.0 L801.9 307.5 L799.2 308.1 L799.8 297.6 L801.0 309.7 L802.3 317.1 L800.9 317.8 L799.0 304.7 L800.9 308.3 L798.7 311.0 L802.1 317.6 L801.2 311.4 L801.0 312.9 L802.0 308.1 L799.8 311.7 L798.9 311.9 L801.0 307.9 L801.0 311.6 L799.0 306.3 L801.9 320.7 L803.1 313.9 L803.9 302.2 L802.8 307.1 L802.1 313.3 L799.3 309.0 L799.4 311.0 L803.5 310.0 L804.3 301.5 L801.5 310.3 L802.7 307.4 L803.4 312.5 L803.2 312.0 L803.9 315.9 L801.9 311.7 L800.7 310.6 L802.8 310.2 L803.1 308.5 L800.4 308.3 L803.2 305.7 L806.3 309.9 L804.7 302.7 L803.3 306.1 L804.6 302.4 L804.6 309.3 L804.0 303.3 L803.6 308.7 L802.2 317.0 L802.5 309.3 L805.0 310.1 L803.4 316.2 L803.9 314.0 L805.4 312.3 L805.4 298.6 L803.9 308.0 L802.6 300.9 L804.1 305.1 L803.6 304.5 L805.8 305.8 L802.8 316.8 L805.3 303.8 L805.8 314.5 L802.8 307.7 L805.8 310.4 L805.8 302.2 L807.7 304.3 L806.4 301.3 L806.8 307.7 L806.1 310.0 L807.9 306.5 L805.2 298.8 L808.4 307.7 L807.6 310.0 L804.1 316.1 L805.6 313.9 L808.2 310.8 L808.0 307.2 L806.3 307.5 L806.2 311.0 L807.7 309.9 L804.8 303.3 L807.0 301.9 L808.8 305.0 L805.2 303.5 L809.4 304.9 L809.7 302.2 L806.6 316.8 L805.9 313.3 L807.5 309.8 L808.2 309.2 L808.9 304.7 L807.3 319.8 L806.4 310.4 L809.6 309.9 L807.1 314.4 L806.7 311.9 L807.1 306.6 L809.2 309.1 L807.7 312.0 L807.8 310.5 L809.8 312.1 L807.3 307.1 L805.9 312.0 L809.3 307.0 L809.4 314.3 L809.5 311.8 L808.2 317.0 L807.3 312.7 L808.6 307.9 L807.8 316.6 L810.7 313.6 L809.9 311.5 L812.2 313.7 L810.7 308.1 L809.5 317.9 L811.7 308.1 L808.9 305.9 L811.6 304.4 L811.6 312.6 L809.8 316.1 L809.2 319.8 L810.4 309.2 L809.9 308.6 L810.7 311.1 L811.3 310.9 L811.1 309.4 L811.0 314.3 L812.1 319.6 L811.4 319.5 L813.3 316.5 L809.0 317.1 L811.6 320.4 L810.5 314.9 L813.0 317.8 L811.6 309.9 L813.2 313.4 L813.8 309.3 L811.6 319.4 L813.3 318.4 L813.2 320.8 L811.1 311.9 L811.3 300.5 L813.3 312.3 L809.7 315.5 L811.8 312.4 L811.7 313.6 L812.3 309.0 L812.6 313.6 L815.3 317.8 L812.2 322.7 L811.2 312.0 L813.0 309.0 L811.8 313.1 L814.3 318.1 L814.3 316.0 L811.4 315.5 L811.6 311.3 L813.8 314.3 L812.9 308.6 L813.6 315.1 L815.7 317.2 L813.7 305.5 L814.4 319.0 L812.3 318.1 L812.2 304.5 L812.8 313.1 L813.4 306.0 L815.0 326.3 L815.6 308.6 L816.7 314.6 L813.4 314.2 L815.7 312.4 L813.7 327.8 L812.6 319.0 L817.0 312.7 L815.7 302.1 L814.1 318.5 L814.9 303.8 L816.3 312.0 L817.9 310.2 L816.8 319.7 L816.6 312.3 L814.6 319.3 L813.6 321.0 L815.8 309.3 L814.1 318.7 L815.4 317.8 L817.8 312.2 L816.5 319.3 L814.8 321.5 L814.0 314.5 L814.9 314.4 L817.3 308.5 L813.7 321.1 L815.1 312.4 L817.4 312.5 L816.0 318.0 L816.8 316.7 L815.5 315.9 L818.3 320.9 L820.0 322.3 L817.9 312.8 L819.3 321.2 L816.9 320.9 L818.0 312.5 L817.6 318.9 L815.4 318.3 L817.6 323.1 L817.8 322.4 L817.3 323.1 L817.6 323.1 L815.7 310.8 L819.0 321.3 L817.2 327.8 L818.6 322.1 L817.8 313.6 L819.8 322.5 L818.7 317.2 L819.6 321.5 L817.2 325.4 L819.7 319.8 L819.5 322.1 L818.8 316.4 L818.5 313.9 L819.7 317.7 L819.9 304.9 L819.3 322.4 L819.6 311.1 L819.0 315.5 L818.7 310.9 L817.9 315.0 L821.1 328.2 L820.4 319.0 L820.2 312.8 L819.6 317.6 L819.9 324.0 L819.4 320.4 L821.5 316.3 L820.7 312.1 L820.6 320.7 L820.3 317.5 L819.6 322.4 L822.5 323.7 L820.6 320.5 L822.1 311.7 L820.2 314.7 L821.3 319.5 L822.6 318.4 L819.5 315.7 L820.3 318.9 L820.1 320.4 L822.0 319.8 L819.3 315.4 L821.0 320.4 L819.8 314.8 L819.6 327.4 L824.8 322.2 L821.6 320.7 L823.7 315.9 L823.7 323.1 L824.3 321.3 L822.2 317.3 L821.0 319.4 L825.4 322.1 L820.5 320.5 L820.3 323.3 L823.7 315.2 L824.1 317.0 L824.1 315.0 L822.7 308.4 L821.3 313.2 L823.5 316.7 L824.7 319.5 L823.3 308.4 L825.4 317.9 L823.5 320.0 L824.9 312.9 L822.8 317.0 L824.4 320.2 L825.9 316.9 L825.8 309.7 L825.0 318.3 L824.1 317.1 L823.4 323.0 L824.3 321.1 L825.9 314.7 L825.6 319.3 L823.2 318.3 L826.4 313.7 L826.8 320.4 L824.0 311.6 L825.6 322.0 L823.7 322.5 L825.3 322.8 L825.1 326.1 L825.7 316.5 L825.3 319.0 L824.9 312.7 L826.1 322.6 L822.8 315.7 L824.3 313.0 L825.8 320.4 L825.8 320.2 L826.7 331.2 L824.8 310.4 L824.2 320.1 L826.2 316.3 L825.6 322.1 L823.8 318.0 L827.7 325.1 L827.1 316.2 L826.5 319.3 L829.6 321.6 L825.6 317.8 L827.1 328.3 L827.9 319.2 L827.1 322.0 L826.5 313.2 L827.3 316.4 L827.8 321.0 L828.5 321.5 L826.8 307.5 L827.0 324.9 L826.6 311.3 L827.0 316.0 L827.1 316.7 L827.1 329.4 L830.5 316.5 L827.3 322.8 L827.5 324.8 L831.1 317.8 L829.5 323.9 L825.6 317.9 L828.4 325.1 L828.2 317.9 L826.7 318.7 L827.0 324.8 L829.8 325.4 L829.5 324.1 L829.1 323.5 L828.0 323.8 L830.9 312.3 L829.6 319.1 L829.4 322.8 L829.6 322.7 L827.4 325.0 L830.1 320.0 L831.6 321.6 L830.3 324.5 L829.2 324.6 L831.5 323.3 L828.3 326.4 L829.3 320.9 L830.6 325.8 L831.0 319.0 L830.9 323.1 L828.3 319.1 L831.3 324.4 L831.1 330.5 L829.7 327.9 L833.0 323.1 L830.6 319.9 L830.8 319.9 L831.8 319.4 L831.6 318.6 L831.7 320.1 L830.6 319.8 L831.7 322.9 L831.5 319.3 L830.1 322.5 L829.6 322.3 L834.7 321.1 L830.4 311.2 L830.9 328.9 L832.9 324.3 L832.4 323.4 L829.9 320.1 L833.1 322.1 L833.4 314.5 L832.5 329.5 L832.0 313.7 L832.6 328.1 L831.5 325.7 L831.2 319.7 L833.4 322.0 L835.3 322.5 L834.5 322.1 L833.7 320.6 L834.3 318.0 L834.0 320.6 L834.7 328.4 L834.8 326.0 L832.0 316.1 L832.7 313.6 L835.8 318.2 L832.7 317.6 L831.6 321.2 L835.7 313.0 L834.2 325.4 L834.9 324.3 L835.9 326.4 L833.2 315.4 L834.7 325.3 L834.9 320.5 L834.3 329.3 L834.6 329.8 L834.4 318.3 L835.5 319.6 L834.0 319.0 L834.9 322.0 L833.7 324.3 L835.4 324.9 L836.5 328.2 L834.4 324.8 L835.1 316.8 L834.2 323.8 L838.0 329.2 L835.7 324.3 L836.4 327.8 L838.7 328.5 L835.7 323.7 L836.0 326.8 L835.2 329.2 L834.6 316.2 L838.4 315.3 L836.8 322.7 L836.6 316.5 L837.2 325.5 L835.8 323.6 L837.1 317.3 L837.5 322.1 L838.3 319.7 L836.9 336.4 L836.6 322.2 L837.3 325.6 L838.2 324.2 L838.7 330.8 L837.0 327.3 L836.7 320.9 L835.7 321.0 L837.0 320.2 L838.1 319.8 L838.5 318.7 L836.5 322.1 L835.8 325.0 L836.9 326.6 L840.2 325.9 L839.1 328.5 L838.1 328.7 L841.1 324.5 L838.8 334.8 L838.3 329.8 L839.1 327.9 L838.9 321.7 L838.7 319.1 L840.2 322.6 L839.0 324.4 L839.3 326.5 L839.8 319.0 L840.7 320.9 L837.6 327.4 L838.4 324.4 L839.1 322.4 L838.8 320.1 L839.5 325.9 L838.6 317.3 L838.7 318.9 L838.4 326.4 L840.3 325.3 L842.1 328.8 L839.0 328.7 L842.2 323.0 L842.0 317.8 L838.0 317.7 L840.9 323.6 L841.2 326.2 L838.0 327.5 L841.3 322.5 L840.6 326.7 L841.2 321.2 L843.0 325.1 L841.4 323.2 L841.8 327.0 L839.8 315.1 L842.5 319.2 L842.5 324.2 L842.7 328.7 L844.6 322.0 L841.7 321.1 L843.0 330.0 L841.8 324.3 L842.9 315.2 L845.0 323.9 L841.9 326.6 L840.9 322.0 L844.0 316.2 L841.8 326.9 L842.3 326.8 L843.1 325.9 L842.4 324.5 L843.1 319.3 L843.9 323.3 L844.8 335.3 L841.8 322.9 L846.1 323.0 L843.6 321.9 L842.5 323.7 L842.3 325.5 L844.3 322.6 L846.0 328.2 L843.2 332.9 L842.4 326.7 L845.8 330.3 L842.6 317.3 L844.8 325.7 L845.1 317.9 L844.2 331.6 L842.6 331.0 L845.4 323.4 L845.2 333.4 L844.6 328.4 L846.0 334.6 L844.2 323.5 L842.8 333.6 L842.0 326.2 L845.3 333.9 L844.4 323.4 L846.1 320.7 L845.7 325.2 L845.5 330.4 L844.6 323.8 L845.6 321.3 L846.8 322.3 L844.3 320.0 L847.5 317.0 L845.6 324.9 L846.8 327.2 L845.1 329.0 L847.2 326.1 L846.1 327.2 L846.3 328.6 L846.8 324.5 L848.7 316.8 L847.5 329.9 L846.9 328.5 L845.2 327.9 L846.8 331.1 L845.3 321.4 L847.4 327.1 L846.6 323.6 L847.2 334.0 L846.1 323.8 L847.3 327.1 L847.7 333.3 L849.7 322.5 L848.2 322.1 L848.6 325.5 L846.4 324.4 L849.0 331.1 L847.1 321.8 L846.7 327.8 L847.6 324.5 L848.5 323.9 L847.7 324.5 L847.6 330.2 L849.2 325.5 L847.4 326.1 L848.1 321.3 L847.9 330.4 L848.7 322.4 L849.0 324.7 L847.8 326.7 L850.3 318.1 L846.2 323.2 L849.6 329.6 L850.9 325.6 L851.4 330.6 L850.1 332.5 L850.3 329.4 L849.1 329.4 L849.2 319.1 L848.5 323.4 L849.1 338.6 L847.8 327.9 L847.3 330.5 L851.5 327.9 L850.6 326.5 L851.9 327.1 L850.0 325.4 L848.7 331.0 L850.9 320.7 L852.1 328.0 L848.1 321.7 L850.3 327.9 L851.0 325.2 L853.8 332.0 L851.4 322.3 L849.5 326.2 L849.7 329.5 L849.8 325.8 L850.1 325.4 L852.3 334.9 L851.3 331.2 L851.8 332.4 L849.7 323.8 L854.6 326.9 L851.0 330.9 L850.0 331.2 L851.4 328.0 L852.9 338.7 L851.6 328.7 L852.1 320.6 L855.1 334.6 L851.2 333.6 L853.4 333.3 L849.8 325.9 L852.9 331.6 L852.0 319.3 L853.9 329.1 L853.0 330.5 L852.0 333.3 L853.1 325.0 L853.2 323.1 L852.9 327.4 L852.3 322.1 L851.8 322.4 L852.4 326.6 L853.0 328.0 L852.4 330.9 L854.6 327.3 L852.0 330.0 L851.4 321.4 L852.2 324.8 L852.7 329.2 L853.7 330.2 L855.1 326.5 L854.2 323.5 L855.6 327.1 L854.5 323.7 L854.9 330.6 L856.3 327.4 L854.9 325.4 L855.5 327.6 L854.4 326.7 L853.7 323.8 L854.6 328.6 L857.3 323.9 L855.6 331.0 L852.7 326.3 L853.9 330.6 L856.2 330.4 L854.8 325.8 L856.7 322.6 L856.3 329.2 L855.4 328.2 L858.3 322.4 L855.8 332.4 L859.0 324.4 L856.9 334.2 L857.2 337.6 L856.9 327.1 L855.3 330.1 L856.3 331.2 L857.3 340.1 L855.6 327.1 L858.3 331.0 L857.2 334.4 L857.3 329.5 L857.1 334.6 L854.5 332.6 L857.9 332.8 L858.6 324.5 L860.3 329.6 L858.7 323.1 L857.7 333.0 L858.1 334.8 L857.4 320.9 L857.8 335.8 L855.9 323.6 L858.3 334.5 L860.2 326.0 L858.7 332.8 L857.1 322.3 L857.9 320.1 L860.0 324.5 L860.4 327.8 L857.0 331.2 L857.7 325.7 L858.8 319.6 L859.9 331.6 L859.3 334.9 L859.6 321.1 L860.6 330.6 L860.3 326.1 L857.8 328.7 L860.2 328.3 L859.1 330.9 L859.2 330.2 L859.9 337.5 L859.7 332.3 L859.8 333.7 L861.3 324.2 L862.8 331.2 L859.8 329.2 L860.9 337.7 L859.4 329.4 L858.8 322.6 L858.8 329.0 L858.8 325.7 L860.6 331.3 L860.5 332.8 L862.5 325.4 L861.4 332.1 L861.6 334.9 L860.6 330.5 L860.5 331.8 L862.4 325.1 L861.8 326.6 L862.3 336.9 L862.5 327.7 L860.3 336.4 L861.5 329.3 L864.0 327.5 L862.9 332.6 L864.6 332.7 L862.1 326.6 L863.0 331.7 L864.4 335.6 L865.3 322.6 L863.4 326.2 L861.7 328.1 L862.7 328.7 L861.8 325.6 L862.2 330.0 L863.0 326.7 L862.3 328.9 L863.6 333.6 L861.1 325.4 L863.5 329.6 L862.3 334.3 L863.0 332.6 L865.4 341.8 L862.9 338.4 L863.9 337.5 L864.6 327.3 L865.2 327.5 L865.2 325.3 L863.5 328.8 L863.2 322.6 L865.5 333.0 L866.0 334.5 L862.9 335.3 L865.7 330.1 L864.5 334.1 L865.4 335.4 L863.7 333.6 L866.1 330.4 L866.3 337.3 L862.4 331.3 L867.0 331.4 L865.5 323.4 L863.8 330.6 L866.6 337.5 L864.0 330.2 L866.5 330.5 L867.5 337.4 L865.0 344.6 L864.8 328.0 L863.8 332.4 L865.1 335.0 L868.3 332.4 L864.7 325.6 L868.0 323.4 L867.4 333.9 L865.9 324.5 L867.3 331.9 L866.6 331.7 L866.9 332.2 L867.7 332.0 L867.5 332.5 L866.2 335.0 L867.2 331.7 L867.3 336.6 L866.9 329.2 L866.3 334.9 L867.2 329.5 L867.3 332.4 L867.6 340.3 L866.0 326.3 L865.1 330.5 L868.7 332.2 L868.0 333.5 L866.6 323.5 L869.0 333.1 L867.6 327.4 L867.1 331.0 L869.9 338.3 L869.7 328.6 L868.0 339.2 L869.8 329.9 L869.3 330.1 L866.8 331.0 L866.7 335.6 L869.0 325.5 L868.2 323.8 L867.6 336.5 L868.7 334.0 L869.5 324.5 L870.2 334.2 L869.1 327.6 L868.4 336.8 L870.7 335.2 L868.0 331.0 L868.1 330.1 L869.0 339.1 L869.0 337.2 L870.3 329.8 L869.3 326.2 L871.3 329.9 L869.2 330.6 L869.4 330.2 L872.6 338.1 L870.0 330.5 L869.8 328.1 L871.0 329.5 L872.3 337.9 L872.4 336.9 L869.8 327.1 L868.7 339.0 L869.5 337.5 L870.5 324.9 L872.6 336.7 L873.0 335.9 L870.4 329.4 L870.2 328.8 L873.0 333.3 L871.5 339.3 L871.6 335.0 L873.8 331.7 L872.8 336.9 L870.2 337.2 L872.5 326.6 L872.2 330.0 L873.4 328.9 L870.4 328.3 L872.1 337.4 L871.4 330.3 L872.7 327.0 L871.3 329.4 L873.7 338.1 L871.4 340.0 L874.3 336.5 L874.5 330.1 L872.9 333.6 L874.9 331.4 L875.0 338.7 L873.1 328.8 L872.2 336.2 L872.8 327.4 L872.8 332.9 L875.1 345.8 L874.8 333.7 L874.2 337.0 L874.9 336.8 L875.2 333.6 L873.1 327.8 L873.6 328.8 L872.6 326.2 L875.4 332.9 L875.2 341.7 L875.7 335.5 L875.0 337.2 L875.1 336.2 L874.0 320.3 L873.9 329.1 L876.9 337.5 L872.4 327.3 L876.8 334.4 L873.7 339.4 L874.4 327.4 L876.8 335.3 L874.5 332.4 L873.2 322.1 L876.5 337.9 L876.9 328.1 L876.4 334.5 L874.1 338.4 L876.4 334.3 L876.0 332.3 L875.8 332.2 L876.6 340.4 L875.0 329.1 L878.2 337.2 L875.7 331.7 L876.8 332.2 L877.2 335.8 L876.7 330.3 L877.9 336.6 L877.0 337.7 L877.8 340.0 L875.6 342.1 L877.8 336.6 L877.3 343.7 L875.7 335.0 L877.4 335.9 L876.7 325.5 L876.9 338.8 L875.8 327.9 L876.4 331.6 L876.8 332.0 L877.8 336.4 L878.1 337.3 L877.8 334.9 L877.0 333.7 L878.4 330.7 L880.0 335.9 L879.4 326.0 L879.0 325.5 L879.1 345.2 L878.5 332.9 L879.0 334.1 L879.4 338.2 L879.4 346.3 L880.0 341.8 L880.6 334.4 L880.8 330.3 L880.0 331.4 L879.1 331.1 L878.1 334.6 L877.5 328.7 L881.0 331.3 L880.6 328.2 L879.8 334.2 L878.6 336.7 L880.4 340.9 L881.9 326.3 L882.1 336.4 L883.2 338.6 L881.6 343.8 L881.7 331.0 L882.3 340.2 L878.6 333.4 L881.9 332.4 L879.9 326.9 L881.5 337.1 L879.0 343.0 L879.7 329.6 L879.9 332.5 L880.5 336.8 L882.3 333.9 L880.0 324.8 L882.4 333.5 L882.9 336.9 L880.2 334.2 L883.0 331.1 L884.2 332.1 L881.1 332.2 L882.9 332.3 L884.0 339.4 L881.4 331.0 L881.5 328.9 L882.2 330.7 L882.3 334.2 L881.2 334.3 L882.1 333.0 L881.5 333.6 L883.5 341.8 L885.7 334.6 L884.4 328.0 L881.2 335.5 L884.7 336.5 L882.0 331.1 L884.1 333.5 L883.0 337.3 L885.4 333.1 L883.6 325.8 L883.8 325.2 L883.8 333.2 L883.7 334.8 L884.4 328.3 L886.4 331.8 L886.2 331.4 L885.2 334.3 L884.4 340.2 L884.3 340.9 L886.3 334.4 L883.4 339.2 L883.3 330.2 L883.8 329.6 L885.2 327.0 L885.3 333.6 L885.5 324.8 L884.7 328.0 L884.2 332.2 L882.5 330.5 L885.8 336.7 L884.4 347.4 L886.8 329.1 L884.1 331.7 L885.8 326.1 L886.4 331.8 L886.3 335.0 L886.9 336.5 L887.2 337.1 L886.5 333.4 L887.3 342.8 L886.2 339.5 L886.2 330.2 L889.3 344.0 L886.4 341.7 L886.2 337.1 L884.3 336.3 L885.5 334.0 L886.9 330.3 L885.9 333.0 L887.0 331.5 L885.4 337.2 L888.8 334.3 L887.5 337.8 L886.8 335.0 L886.9 331.7 L887.2 332.1 L888.6 343.5 L886.8 339.9 L888.3 325.0 L887.4 344.3 L886.2 334.2 L887.5 340.1 L888.1 335.6 L888.8 337.3 L890.3 334.2 L887.0 339.9 L887.6 329.6 L889.2 324.2 L888.5 346.3 L886.7 338.7 L889.9 341.9 L887.4 334.1 L887.1 328.0 L887.6 328.0 L886.6 328.4 L888.1 333.6 L889.7 337.4 L890.8 329.3 L888.9 337.6 L888.5 338.5 L889.7 334.4 L889.0 340.7 L892.7 335.7 L892.1 339.3 L890.7 334.3 L889.8 330.2 L890.8 337.5 L891.4 332.6 L890.1 330.2 L891.5 338.5 L893.4 335.2 L887.9 336.6 L891.1 326.2 L892.0 337.3 L889.9 334.3 L889.6 341.6 L891.6 339.4 L891.0 332.1 L890.7 336.3 L889.8 331.4 L893.4 334.6 L891.1 322.5 L892.7 336.1 L891.7 330.4 L890.0 338.4 L891.8 337.1 L889.5 342.3 L892.7 322.4 L892.1 345.1 L890.0 334.5 L892.9 337.2 L894.2 331.2 L891.3 337.7 L889.9 326.0 L890.1 329.6 L891.8 332.5 L894.8 332.7 L891.2 330.0 L895.4 332.9 L891.4 327.4 L893.2 330.8 L891.0 335.2 L894.2 332.8 L893.0 333.9 L895.0 329.2 L893.6 336.1 L894.2 334.4 L894.6 341.0 L894.4 331.7 L894.3 333.7 L893.6 338.1 L893.8 326.7 L893.3 334.8 L895.9 340.5 L893.7 329.5 L891.6 335.8 L895.0 348.6 L895.8 333.3 L893.8 335.1 L894.6 334.6 L894.2 336.0 L895.7 338.9 L896.9 334.5 L895.3 343.2 L895.0 336.0 L896.6 331.0 L896.0 330.4 L894.9 337.5 L895.5 325.9 L897.7 333.7 L896.0 337.3 L896.4 334.4 L894.6 338.5 L897.9 331.1 L895.4 339.7 L896.2 338.6 L896.5 340.8 L895.2 339.1 L894.9 336.6 L898.0 326.4 L896.6 334.1 L897.9 329.7 L899.5 335.1 L895.9 330.8 L897.0 340.4 L897.2 340.7 L894.9 326.5 L896.1 333.6 L899.8 342.9 L897.4 332.5 L898.9 336.4 L900.1 336.7 L897.1 331.5 L899.8 341.3 L899.2 329.6 L897.4 334.2 L898.6 337.8 L899.3 342.0 L897.8 327.1 L899.4 337.3 L899.3 342.2 L895.5 336.4 L898.8 333.4 L897.6 332.7 L899.6 328.6 L898.6 333.0 L900.0 336.0 L898.4 325.0 L897.4 326.0 L901.3 341.1 L898.7 331.0 L900.5 338.6 L899.1 328.5 L898.0 340.3 L898.1 334.3 L901.3 328.2 L900.2 334.1 L900.0 330.5 L897.5 339.2 L900.1 341.7 L899.5 341.4 L900.5 332.8 L900.1 338.9 L899.8 328.7 L900.4 337.4 L899.8 329.3 L902.0 334.1 L899.8 341.0 L900.1 335.5 L902.4 333.4 L901.8 333.4 L901.1 336.3 L901.2 330.4 L902.0 331.2 L901.1 331.2 L899.5 339.5 L902.9 346.0 L901.2 333.0 L898.9 339.8 L900.2 338.4 L900.7 337.0 L901.5 334.2 L903.8 344.2 L901.6 336.4 L901.7 329.2 L900.4 342.8 L903.6 337.2 L902.3 328.8 L900.9 331.8 L903.3 332.8 L904.6 335.0 L902.1 342.6 L902.5 335.2 L904.1 340.4 L905.7 335.2 L901.2 339.5 L904.9 341.4 L902.3 335.8 L900.3 330.7 L904.3 338.2 L901.1 334.9 L902.3 332.3 L906.3 333.3 L902.5 341.9 L905.2 338.5 L902.2 334.1 L903.4 335.7 L904.5 327.3 L901.2 333.0 L903.3 340.1 L906.6 332.5 L903.3 330.4 L904.1 332.7 L904.5 333.4 L903.8 342.6 L907.3 336.1 L902.5 333.0 L906.7 337.7 L906.1 337.4 L905.0 333.7 L906.7 338.9 L903.2 340.1 L905.4 336.6 L906.6 336.3 L906.0 331.8 L904.3 336.7 L906.0 341.4 L906.5 333.6 L904.2 339.7 L905.8 332.3 L904.3 338.7 L904.8 333.1 L904.3 334.4 L906.6 336.8 L905.6 342.0 L904.9 337.8 L907.1 329.1 L905.2 335.0 L906.0 330.3 L905.2 335.6 L905.6 335.9 L908.8 340.6 L906.7 334.1 L905.6 339.9 L908.0 339.9 L906.6 330.9 L907.2 340.7 L907.6 324.9 L909.2 335.9 L908.9 338.6 L905.7 329.5 L909.1 340.6 L909.8 335.3 L906.6 335.8 L907.3 331.4 L908.4 327.6 L909.7 334.3 L906.6 342.1 L910.4 342.3 L910.0 338.3 L908.9 332.1 L911.1 335.3 L907.3 334.6 L911.4 337.5 L909.0 329.5 L910.6 341.4 L907.3 326.7 L910.9 330.2 L909.7 332.6 L907.6 336.1 L909.1 337.4 L912.3 336.0 L908.6 338.6 L909.8 338.0 L910.9 339.9 L911.8 332.3 L910.0 335.5 L910.5 333.9 L910.3 339.5 L911.2 341.9 L908.3 340.4 L909.2 334.9 L909.2 341.7 L912.3 333.2 L908.9 340.6 L909.5 338.2 L912.1 334.9 L908.3 341.8 L909.6 346.0 L910.2 330.6 L912.9 336.9 L913.0 339.2 L914.1 328.5 L908.5 325.7 L909.6 336.0 L912.3 334.6 L909.1 323.5 L912.7 339.1 L909.8 330.4 L913.2 331.5 L911.3 338.9 L910.4 340.8 L911.7 339.8 L915.0 335.5 L913.4 334.5 L915.1 323.6 L911.1 341.0 L912.4 335.2 L913.7 339.9 L914.2 332.0 L912.9 334.0 L913.2 342.4 L912.4 338.2 L913.0 335.8 L912.4 332.6 L914.6 333.5 L913.8 332.8 L913.4 335.9 L914.1 333.1 L914.5 335.6 L913.1 331.3 L913.3 333.2 L914.1 340.2 L911.6 336.2 L913.2 339.7 L913.2 336.6 L915.2 333.3 L912.6 335.5 L914.4 336.5 L914.8 338.9 L913.0 328.9 L917.1 335.9 L911.8 340.6 L913.5 338.3 L917.7 331.4 L917.8 326.3 L915.4 329.9 L916.4 337.6 L914.5 331.9 L915.4 343.9 L915.0 332.0 L916.8 337.1 L916.3 334.7 L914.8 341.9 L916.7 334.2 L913.5 342.1 L918.4 343.8 L914.2 328.8 L914.8 341.9 L917.1 331.6 L916.4 338.7 L917.4 336.5 L916.1 336.0 L919.3 330.7 L913.7 333.9 L918.1 340.2 L919.6 338.5 L918.3 329.7 L917.3 329.5 L918.0 338.3 L917.0 331.7 L918.4 336.4 L917.0 331.2 L918.1 340.8 L917.5 332.1 L917.6 338.7 L916.6 342.2 L917.1 333.1 L915.7 333.3 L917.3 343.2 L917.8 347.2 L918.5 336.7 L918.0 334.0 L917.6 338.7 L918.1 335.7 L917.8 338.2 L918.6 338.8 L919.9 334.3 L918.0 330.3 L919.2 333.9 L918.5 337.7 L918.8 339.5 L920.5 335.2 L916.6 346.8 L918.9 335.7 L917.9 336.7 L918.0 336.3 L918.4 337.5 L919.3 337.2 L920.4 343.2 L918.4 333.1 L918.1 337.8 L920.3 336.2 L921.8 338.6 L921.5 343.3 L921.5 333.3 L920.1 337.3 L921.3 337.5 L921.4 334.4 L918.0 328.1 L921.1 336.4 L919.2 333.6 L922.9 327.4 L920.8 337.7 L920.2 330.4 L921.6 336.0 L921.4 331.4 L922.3 335.6 L922.3 331.6 L919.7 339.7 L920.5 338.5 L921.3 339.1 L922.3 337.6 L923.6 330.9 L921.1 334.1 L922.3 333.0 L923.2 337.2 L922.9 335.7 L921.2 334.1 L922.2 334.4 L923.2 338.8 L922.2 338.0 L922.4 341.2 L921.9 332.5 L921.2 331.0 L922.1 327.0 L921.5 349.6 L922.3 332.1 L922.6 333.4 L925.2 323.4 L924.4 338.3 L923.0 339.9 L924.0 335.1 L920.5 343.1 L923.6 342.9 L925.3 333.4 L921.3 344.2 L922.2 341.6 L922.9 330.5 L923.1 333.4 L924.6 342.5 L925.1 329.6 L922.7 335.9 L922.9 338.0 L925.2 335.6 L925.7 336.8 L925.9 330.7 L925.1 333.5 L924.0 340.6 L924.5 338.9 L923.3 332.6 L923.4 339.3 L923.3 341.0 L925.1 347.9 L925.4 332.3 L924.8 336.4 L925.4 337.4 L926.0 340.6 L925.9 339.1 L924.9 336.6 L925.4 341.9 L926.3 335.9 L926.5 328.2 L927.3 338.9 L928.9 336.3 L927.1 328.8 L925.3 335.9 L927.3 328.8 L926.1 331.5 L925.4 331.9 L924.9 337.2 L926.1 338.6 L925.7 330.0 L929.2 335.7 L926.6 336.9 L929.6 346.9 L926.1 337.0 L927.0 324.3 L926.7 333.2 L926.4 327.7 L928.0 335.1 L928.4 343.0 L927.3 335.5 L927.6 327.7 L927.8 335.3 L928.1 337.6 L927.2 337.0 L926.9 341.9 L928.8 337.9 L926.7 335.5 L929.4 331.6 L927.9 332.5 L928.6 341.5 L928.0 345.5 L930.4 337.9 L928.9 339.9 L931.2 332.2 L928.2 341.1 L928.3 333.3 L930.6 338.3 L931.8 330.7 L928.0 336.0 L928.2 345.8 L930.4 347.6 L929.3 334.8 L930.8 341.2 L931.0 331.6 L929.5 336.5 L929.4 327.7 L930.5 336.5 L931.5 340.0 L931.0 346.1 L928.9 334.0 L930.5 337.5 L931.3 338.0 L931.6 323.4 L930.5 332.6 L930.6 341.0 L928.7 333.2 L929.9 343.9 L933.2 339.6 L930.7 332.3 L930.8 342.8 L931.5 336.5 L930.6 336.1 L928.4 335.6 L928.6 341.2 L931.2 343.3 L932.2 336.5 L931.2 333.4 L932.6 341.3 L930.9 332.6 L933.2 331.1 L932.7 334.9 L930.5 331.5 L932.0 331.7 L933.0 330.6 L934.6 335.1 L930.6 335.0 L931.8 334.7 L932.8 330.6 L929.7 338.9 L932.2 329.2 L932.7 340.9 L933.0 326.9 L935.0 333.2 L934.6 323.2 L933.8 335.0 L934.6 333.0 L932.7 343.9 L933.8 337.6 L934.2 335.4 L932.1 334.3 L935.1 333.1 L933.5 335.6 L931.3 336.6 L935.4 331.7 L932.9 343.6 L932.2 338.5 L934.3 333.0 L934.2 336.7 L936.0 330.5 L933.2 339.6 L936.4 338.1 L935.9 333.3 L935.2 327.7 L935.4 342.6 L936.1 344.6 L933.9 342.2 L936.0 342.4 L935.8 335.1 L933.1 331.8 L933.4 336.4 L935.4 335.2 L935.7 333.3 L934.3 334.5 L937.2 334.9 L936.1 335.2 L937.0 330.8 L935.8 341.8 L935.6 338.7 L937.3 335.0 L936.2 323.2 L938.1 340.5 L936.7 332.5 L936.9 339.9 L935.8 337.1 L937.9 340.1 L939.0 327.2 L936.4 334.5 L939.7 338.7 L937.1 331.6 L937.0 339.7 L937.9 335.0 L936.7 342.8 L937.8 337.8 L938.7 334.6 L938.0 334.6 L937.6 340.4 L936.7 340.0 L938.5 344.8 L937.5 346.6 L936.8 337.5 L939.8 330.9 L940.5 334.0 L938.4 333.5 L939.5 336.3 L940.4 336.5 L939.4 336.5 L938.9 328.2 L938.8 337.9 L940.4 330.5 L937.4 343.1 L937.7 341.5 L939.7 336.7 L938.1 343.5 L937.5 328.8 L939.3 335.2 L939.2 334.2 L938.4 338.5 L940.3 333.9 L939.3 339.4 L938.7 329.7 L939.1 329.9 L937.9 339.4 L940.0 340.3 L939.6 343.4 L940.9 343.1 L939.5 330.0 L941.6 332.2 L940.9 328.4 L940.8 333.4 L939.7 331.6 L940.8 332.6 L939.6 338.2 L940.2 334.9 L941.6 331.3 L941.6 335.1 L940.3 340.4 L941.6 340.6 L941.6 323.2 L941.6 340.0 L941.6 339.0 L941.6 335.5 L941.3 336.2 L941.6 330.8 L941.6 337.7" fill="none" stroke="#ff0000" stroke-width="2.2" stroke-linejoin="round"/>
<rect x="598.8" y="78.1" width="342.8" height="276.1" fill="none" stroke="#1a1a1a" stroke-width="1.6"/>
<g transform="matrix(1,0.0000,0,1,873.1,294.5)">
<text font-family="'Liberation Sans','DejaVu Sans',sans-serif" font-size="29" font-weight="normal" text-anchor="start" textLength="63.1" lengthAdjust="spacingAndGlyphs" fill="#ff0000" >56ºC</text>
</g>
<g transform="matrix(1,0.0000,0,1,544.5,144.3)">
<text font-family="'Liberation Sans','DejaVu Sans',sans-serif" font-size="29.6" font-weight="normal" text-anchor="start" textLength="32.3" lengthAdjust="spacingAndGlyphs" fill="#000" >60</text>
</g>
<g transform="matrix(1,0.0000,0,1,545.3,218.6)">
<text font-family="'Liberation Sans','DejaVu Sans',sans-serif" font-size="29.6" font-weight="normal" text-anchor="start" textLength="31.5" lengthAdjust="spacingAndGlyphs" fill="#000" >40</text>
</g>
<g transform="matrix(1,0.0000,0,1,544.6,292.6)">
<text font-family="'Liberation Sans','DejaVu Sans',sans-serif" font-size="29.6" font-weight="normal" text-anchor="start" textLength="32.2" lengthAdjust="spacingAndGlyphs" fill="#000" >20</text>
</g>
<g transform="matrix(1,0.0000,0,1,554.5,353.6)">
<text font-family="'Liberation Sans','DejaVu Sans',sans-serif" font-size="29.6" font-weight="normal" text-anchor="start" textLength="15.1" lengthAdjust="spacingAndGlyphs" fill="#000" >0</text>
</g>
<g transform="matrix(1,0.0000,0,1,595.2,391.5)">
<text font-family="'Liberation Sans','DejaVu Sans',sans-serif" font-size="29.6" font-weight="normal" text-anchor="start" textLength="15.9" lengthAdjust="spacingAndGlyphs" fill="#000" >0</text>
</g>
<g transform="matrix(1,0.0000,0,1,659.5,391.5)">
<text font-family="'Liberation Sans','DejaVu Sans',sans-serif" font-size="29.6" font-weight="normal" text-anchor="start" textLength="16.7" lengthAdjust="spacingAndGlyphs" fill="#000" >2</text>
</g>
<g transform="matrix(1,0.0000,0,1,724.7,391.5)">
<text font-family="'Liberation Sans','DejaVu Sans',sans-serif" font-size="29.6" font-weight="normal" text-anchor="start" textLength="15.9" lengthAdjust="spacingAndGlyphs" fill="#000" >4</text>
</g>
<g transform="matrix(1,0.0000,0,1,789.1,391.5)">
<text font-family="'Liberation Sans','DejaVu Sans',sans-serif" font-size="29.6" font-weight="normal" text-anchor="start" textLength="17.4" lengthAdjust="spacingAndGlyphs" fill="#000" >6</text>
</g>
<g transform="matrix(1,0.0000,0,1,855.8,391.5)">
<text font-family="'Liberation Sans','DejaVu Sans',sans-serif" font-size="29.6" font-weight="normal" text-anchor="start" textLength="16.4" lengthAdjust="spacingAndGlyphs" fill="#000" >8</text>
</g>
<g transform="matrix(1,0.0000,0,1,922.3,391.5)">
<text font-family="'Liberation Sans','DejaVu Sans',sans-serif" font-size="29.6" font-weight="normal" text-anchor="start" textLength="30.5" lengthAdjust="spacingAndGlyphs" fill="#000" >10</text>
</g>
<g transform="matrix(1,0.0000,0,1,708.4,423.3)">
<text font-family="'Liberation Sans','DejaVu Sans',sans-serif" font-size="28.8" font-weight="normal" text-anchor="start" textLength="123.7" lengthAdjust="spacingAndGlyphs" fill="#000" >Time (μs)</text>
</g>
<g transform="translate(525.2,333.2) rotate(-90)">
<text font-family="'Liberation Sans','DejaVu Sans',sans-serif" font-size="29.8" font-weight="normal" text-anchor="start" textLength="198.4" lengthAdjust="spacingAndGlyphs" fill="#000" >Signal ΔV (mV)</text>
</g>
<g transform="matrix(1,0.0000,0,1,679.4,67.1)">
<text font-family="'DejaVu Sans','Liberation Sans',sans-serif" font-size="43" font-weight="bold" text-anchor="start" textLength="222.8" lengthAdjust="spacingAndGlyphs" fill="#00e6ee" stroke="#00e6ee" stroke-width="10.5" stroke-linejoin="round" filter="url(#b15)" aria-hidden="true">Improved</text>
<text font-family="'DejaVu Sans','Liberation Sans',sans-serif" font-size="43" font-weight="bold" text-anchor="start" textLength="222.8" lengthAdjust="spacingAndGlyphs" fill="#000" stroke="#000" stroke-width="0.5" >Improved</text>
</g>
<g transform="matrix(1,0.0000,0,1,582.0,116.1)">
<text font-family="'DejaVu Sans','Liberation Sans',sans-serif" font-size="43" font-weight="bold" text-anchor="start" textLength="414.5" lengthAdjust="spacingAndGlyphs" fill="#00e6ee" stroke="#00e6ee" stroke-width="10.5" stroke-linejoin="round" filter="url(#b15)" aria-hidden="true">diode functionality</text>
<text font-family="'DejaVu Sans','Liberation Sans',sans-serif" font-size="43" font-weight="bold" text-anchor="start" textLength="414.5" lengthAdjust="spacingAndGlyphs" fill="#000" stroke="#000" stroke-width="0.5" >diode functionality</text>
</g>
<polygon points="130.6,222.9 201.5,177.8 373.9,202.6 302.1,248.1" fill="#e0979f" />
<polygon points="130.6,193.4 202.0,148.4 202.0,177.3 130.6,222.1" fill="#231a04" />
<polygon points="142.5,200.5 177.2,178.0 337.0,202.2 303.0,221.3" fill="#8dc21f" stroke="#8dc21f" stroke-width="0.5" stroke-linejoin="round"/>
<polygon points="142.5,200.5 303.0,221.3 303.0,236.1 142.5,213.6" fill="#8c8c8c" stroke="#8c8c8c" stroke-width="0.5" stroke-linejoin="round"/>
<g transform="matrix(1,0.1469,0,1,130.6,222.9)"><rect x="0" y="0" width="171.5" height="95.0" fill="url(#gSi)"/><line x1="0" y1="0.3" x2="171.5" y2="0.3" stroke="#ffd0d0" stroke-width="0.8"/></g>
<polygon points="84.3,186.5 130.6,193.4 130.6,315.5 84.3,309.3" fill="#ffcf13" stroke="#ffcf13" stroke-width="0.5" stroke-linejoin="round"/>
<polygon points="84.3,186.5 156.1,141.4 202.0,148.4 130.6,193.4" fill="#ffe61e" stroke="#ffe61e" stroke-width="0.5" stroke-linejoin="round"/>
<polygon points="302.1,220.6 347.5,226.8 347.5,349.0 302.1,342.8" fill="#ffcf13" stroke="#ffcf13" stroke-width="0.5" stroke-linejoin="round"/>
<polygon points="347.5,226.8 418.6,181.7 418.6,304.1 347.5,349.0" fill="#231a04" stroke="#231a04" stroke-width="0.5" stroke-linejoin="round"/>
<polygon points="302.1,220.6 373.5,174.8 418.6,181.7 347.5,226.8" fill="#ffe61e" stroke="#ffe61e" stroke-width="0.5" stroke-linejoin="round"/>
<path d="M141.8 169.2 L141.8 139 L226.6 86 L270 92.3" fill="none" stroke="#000" stroke-width="7.0" stroke-linecap="round" stroke-linejoin="round"/>
<path d="M284 94.6 L366 107.8" fill="none" stroke="#000" stroke-width="7.0" stroke-linecap="round" stroke-linejoin="round"/>
<path d="M398 112.8 L436.2 119 L354.2 172.8 L354.2 203.7" fill="none" stroke="#000" stroke-width="7.0" stroke-linecap="round" stroke-linejoin="round"/>
<polygon points="269.9,81.1 274.7,81.8 274.7,104.8 269.9,104.1" fill="#000" />
<polygon points="278.4,74.2 284.1,75.0 284.1,111.9 278.4,111.1" fill="#000" />
<ellipse cx="382.2" cy="110.4" rx="15.3" ry="16.4" fill="#fff" stroke="#000" stroke-width="1.3" transform="rotate(-20 382.2 110.4)"/>
<g transform="matrix(1,0.0000,0,1,375.9,116.7)">
<text font-family="'Liberation Sans','DejaVu Sans',sans-serif" font-size="19.9" font-weight="bold" text-anchor="start" textLength="12.6" lengthAdjust="spacingAndGlyphs" fill="#000" >V</text>
</g>
<polygon points="246.9,112.9 261.2,115.4 260.1,156.3 274.4,159.3 251.2,199.6 231.1,151.1 245.8,153.2" fill="#0000ff" fill-opacity="0.6"/>
<g transform="matrix(1,0.1390,0,1,210.8,140.6)">
<text font-family="'DejaVu Sans','Liberation Sans',sans-serif" font-size="21.8" font-weight="bold" text-anchor="start" textLength="90.7" lengthAdjust="spacingAndGlyphs" fill="#fff" stroke="#fff" stroke-width="4.2" stroke-linejoin="round" filter="url(#b08)" aria-hidden="true">THz light</text>
<text font-family="'DejaVu Sans','Liberation Sans',sans-serif" font-size="21.8" font-weight="bold" text-anchor="start" textLength="90.7" lengthAdjust="spacingAndGlyphs" fill="#0000ff" >THz light</text>
</g>
<g transform="matrix(1,0.1405,0,1,234.8,57.2)">
<text font-family="'DejaVu Sans','Liberation Sans',sans-serif" font-size="20" font-weight="normal" text-anchor="start" textLength="125.0" lengthAdjust="spacingAndGlyphs" fill="#000" >Apply voltage</text>
</g>
<path d="M150.1 244.9 L283 264.5" stroke="#1aad19" stroke-width="5.4" fill="none"/>
<polygon points="287.9,265.4 282.3,269.6 282.3,259.5" fill="#1aad19" />
<path d="M210.7 256.5 L192.8 332" stroke="#00a651" stroke-width="0.9" fill="none"/>
<circle cx="210.7" cy="256.5" r="8" fill="#fff" filter="url(#b1)"/><circle cx="210.7" cy="256.5" r="6.1" fill="#00a651"/>
<path d="M293.7 247.9 L302.3 352" stroke="#ff0000" stroke-width="0.9" fill="none"/>
<circle cx="293.6" cy="248.1" r="8" fill="#fff" filter="url(#b1)"/><circle cx="293.6" cy="248.1" r="6.1" fill="#ff0000"/>
<path d="M54 160 L164.3 202.9" stroke="#000" stroke-width="0.8" fill="none"/>
<circle cx="164.3" cy="202.9" r="6" fill="#000"/>
<g transform="matrix(1,0.0000,0,1,51.5,130.3)">
<text font-family="'Liberation Sans','DejaVu Sans',sans-serif" font-size="20.3" font-weight="bold" text-anchor="start" textLength="30.0" lengthAdjust="spacingAndGlyphs" fill="#000" >VO</text>
</g>
<g transform="matrix(1,0.0000,0,1,81.6,135.2)">
<text font-family="'Liberation Sans','DejaVu Sans',sans-serif" font-size="13.5" font-weight="bold" text-anchor="start" textLength="8.0" lengthAdjust="spacingAndGlyphs" fill="#000" >2</text>
</g>
<g transform="matrix(1,0.0000,0,1,18.8,155.8)">
<text font-family="'Liberation Sans','DejaVu Sans',sans-serif" font-size="20.3" font-weight="bold" text-anchor="start" textLength="103.6" lengthAdjust="spacingAndGlyphs" fill="#000" >(Insulator)</text>
</g>
<g transform="matrix(1,0.1350,0,1,38.7,258.0)">
<text font-family="'DejaVu Sans','Liberation Sans',sans-serif" font-size="19.8" font-weight="normal" text-anchor="start" textLength="51.3" lengthAdjust="spacingAndGlyphs" fill="#fff" stroke="#fff" stroke-width="3" stroke-linejoin="round" filter="url(#b1)" aria-hidden="true">Metal</text>
<text font-family="'DejaVu Sans','Liberation Sans',sans-serif" font-size="19.8" font-weight="normal" text-anchor="start" textLength="51.3" lengthAdjust="spacingAndGlyphs" fill="#000" >Metal</text>
</g>
<g transform="matrix(1,0.1350,0,1,38.8,282.5)">
<text font-family="'DejaVu Sans','Liberation Sans',sans-serif" font-size="19.8" font-weight="normal" text-anchor="start" textLength="86.5" lengthAdjust="spacingAndGlyphs" fill="#fff" stroke="#fff" stroke-width="3" stroke-linejoin="round" filter="url(#b1)" aria-hidden="true">electrode</text>
<text font-family="'DejaVu Sans','Liberation Sans',sans-serif" font-size="19.8" font-weight="normal" text-anchor="start" textLength="86.5" lengthAdjust="spacingAndGlyphs" fill="#000" >electrode</text>
</g>
<g transform="matrix(1,0.1350,0,1,310.6,298.5)">
<text font-family="'DejaVu Sans','Liberation Sans',sans-serif" font-size="19.8" font-weight="normal" text-anchor="start" textLength="51.7" lengthAdjust="spacingAndGlyphs" fill="#fff" stroke="#fff" stroke-width="3" stroke-linejoin="round" filter="url(#b1)" aria-hidden="true">Metal</text>
<text font-family="'DejaVu Sans','Liberation Sans',sans-serif" font-size="19.8" font-weight="normal" text-anchor="start" textLength="51.7" lengthAdjust="spacingAndGlyphs" fill="#000" >Metal</text>
</g>
<g transform="matrix(1,0.1350,0,1,310.5,323.0)">
<text font-family="'DejaVu Sans','Liberation Sans',sans-serif" font-size="19.8" font-weight="normal" text-anchor="start" textLength="86.5" lengthAdjust="spacingAndGlyphs" fill="#fff" stroke="#fff" stroke-width="3" stroke-linejoin="round" filter="url(#b1)" aria-hidden="true">electrode</text>
<text font-family="'DejaVu Sans','Liberation Sans',sans-serif" font-size="19.8" font-weight="normal" text-anchor="start" textLength="86.5" lengthAdjust="spacingAndGlyphs" fill="#000" >electrode</text>
</g>
<g transform="matrix(1,0.0000,0,1,133.2,311.9)">
<text font-family="'Liberation Sans','DejaVu Sans',sans-serif" font-size="20.8" font-weight="normal" text-anchor="start" textLength="18.1" lengthAdjust="spacingAndGlyphs" fill="#000" >Si</text>
</g>
<g transform="matrix(1,0.1390,0,1,32.5,322.5)">
<text font-family="'DejaVu Sans','Liberation Sans',sans-serif" font-size="20" font-weight="normal" text-anchor="start" textLength="224.0" lengthAdjust="spacingAndGlyphs" fill="#1aa51a" >Current originating from</text>
</g>
<g transform="matrix(1,0.1390,0,1,22.5,345.5)">
<text font-family="'DejaVu Sans','Liberation Sans',sans-serif" font-size="20" font-weight="normal" text-anchor="start" textLength="245.0" lengthAdjust="spacingAndGlyphs" fill="#1aa51a" >carriers generated by light</text>
</g>
<g transform="matrix(1,0.1390,0,1,98.0,380.5)">
<text font-family="'DejaVu Sans','Liberation Sans',sans-serif" font-size="20" font-weight="normal" text-anchor="start" textLength="93.0" lengthAdjust="spacingAndGlyphs" fill="#1aa51a" >irradiation</text>
</g>
<g transform="matrix(1,0.1400,0,1,290.9,366.0)">
<text font-family="'DejaVu Sans','Liberation Sans',sans-serif" font-size="17.2" font-weight="normal" text-anchor="start" textLength="101.2" lengthAdjust="spacingAndGlyphs" fill="#ff0000" >Electric field</text>
</g>
<g transform="matrix(1,0.1400,0,1,291.3,387.6)">
<text font-family="'DejaVu Sans','Liberation Sans',sans-serif" font-size="17.2" font-weight="normal" text-anchor="start" textLength="176.0" lengthAdjust="spacingAndGlyphs" fill="#ff0000" >enhancement caused</text>
</g>
<g transform="matrix(1,0.1400,0,1,291.0,408.0)">
<text font-family="'DejaVu Sans','Liberation Sans',sans-serif" font-size="17.2" font-weight="normal" text-anchor="start" textLength="152.1" lengthAdjust="spacingAndGlyphs" fill="#ff0000" >by light irradiation</text>
</g>
<g transform="matrix(1,0.0000,0,1,108.9,462.1)">
<text font-family="'Liberation Sans','DejaVu Sans',sans-serif" font-size="30.5" font-weight="normal" text-anchor="start" textLength="64.3" lengthAdjust="spacingAndGlyphs" fill="#0000ff" >20ºC</text>
</g>
<g transform="matrix(1,0.0000,0,1,341.9,501.0)">
<text font-family="'Liberation Sans','DejaVu Sans',sans-serif" font-size="43.3" font-weight="normal" text-anchor="start" textLength="91.2" lengthAdjust="spacingAndGlyphs" fill="#ff0000" >56ºC</text>
</g>
<path d="M224.1 384.0 C223.6 387.0 221.6 396.1 221.0 402.0 C220.4 407.9 220.4 413.1 220.5 419.3 C220.6 425.5 220.8 432.5 221.7 439.1 C222.6 445.7 224.0 452.2 225.7 458.8 C227.4 465.4 229.4 472.3 232.0 479.0 C234.6 485.7 237.4 492.8 241.0 499.2 C244.6 505.6 249.0 512.1 253.5 517.5 C258.0 522.9 262.6 527.5 268.0 531.5 C273.4 535.5 282.9 540.0 285.9 541.7 L279 572 L329.7 534.8 L294.3 474.2 L290.4 501.2 C287.8 499.6 280.2 495.3 275.0 491.4 C269.8 487.5 264.1 482.7 259.2 477.6 C254.3 472.5 249.5 466.6 245.4 460.8 C241.3 455.0 237.5 449.2 234.5 443.0 C231.5 436.8 229.2 429.9 227.6 423.3 C226.0 416.7 225.3 410.2 224.7 403.6 C224.1 397.1 224.2 387.3 224.1 384.0 Z" fill="url(#gCurve)"/>
<polygon points="470.5,645.0 575.5,579.2 826.0,616.0 720.9,682.3" fill="#e0979f" />
<g transform="matrix(1,0.148,1.59,-1,562,658.6)"><rect x="0" y="0" width="56" height="19" fill="url(#gGap)"/><rect x="3" y="0" width="2.5" height="19" fill="#fff" fill-opacity="0.25"/><rect x="50" y="0" width="2.5" height="19" fill="#fff" fill-opacity="0.25"/></g>
<polygon points="470.5,603.0 575.5,536.8 575.5,579.2 470.5,645.0" fill="#231a04" />
<polygon points="491.6,612.5 543.3,579.4 778.0,613.5 722.0,645.9" fill="#f5ff50" stroke="#f5ff50" stroke-width="0.5" stroke-linejoin="round"/>
<polygon points="491.6,612.5 722.0,645.9 722.0,664.9 491.6,630.6" fill="#d7ff3c" stroke="#d7ff3c" stroke-width="0.5" stroke-linejoin="round"/>
<polygon points="589.7,626.7 638.8,592.9 672.4,597.9 620.2,631.0" fill="#8dc21f" stroke="#8dc21f" stroke-width="0.5" stroke-linejoin="round"/>
<polygon points="589.7,626.7 620.2,631.0 620.2,649.5 589.7,645.0" fill="#6fa600" stroke="#6fa600" stroke-width="0.5" stroke-linejoin="round"/>
<g transform="matrix(1,0.1490,0,1,470.5,645.0)"><rect x="0" y="0" width="250.4" height="139.5" fill="url(#gSi2)"/><line x1="0" y1="0.3" x2="250.4" y2="0.3" stroke="#ffd0d0" stroke-width="0.8"/></g>
<g transform="matrix(1,0.148,0,1,577,661)"><rect x="0" y="0" width="27.6" height="55" fill="url(#gBand)"/></g>
<polygon points="403.2,592.9 470.5,603.0 470.5,782.5 403.2,772.6" fill="#ffcf13" stroke="#ffcf13" stroke-width="0.5" stroke-linejoin="round"/>
<polygon points="403.2,592.9 508.2,526.7 575.5,536.8 470.5,603.0" fill="#ffe61e" stroke="#ffe61e" stroke-width="0.5" stroke-linejoin="round"/>
<polygon points="720.9,643.0 788.8,652.4 788.8,831.7 720.9,821.0" fill="#ffcf13" stroke="#ffcf13" stroke-width="0.5" stroke-linejoin="round"/>
<polygon points="788.8,652.4 893.5,585.5 893.5,765.5 788.8,831.7" fill="#231a04" stroke="#231a04" stroke-width="0.5" stroke-linejoin="round"/>
<polygon points="720.9,643.0 826.8,575.4 893.5,585.5 788.8,652.4" fill="#ffe61e" stroke="#ffe61e" stroke-width="0.5" stroke-linejoin="round"/>
<path d="M492 565.2 L492 521.5 L615.8 442.5 L679 453" fill="none" stroke="#000" stroke-width="10.1" stroke-linecap="round" stroke-linejoin="round"/>
<path d="M700.4 456 L820 473.6" fill="none" stroke="#000" stroke-width="10.1" stroke-linecap="round" stroke-linejoin="round"/>
<path d="M866 481 L924.3 490.6 L802.3 570.5 L802.3 611.2" fill="none" stroke="#000" stroke-width="10.1" stroke-linecap="round" stroke-linejoin="round"/>
<polygon points="679.3,435.9 686.7,437.0 686.7,470.4 679.3,469.3" fill="#000" />
<polygon points="692.2,425.5 700.2,426.7 700.2,481.2 692.2,480.0" fill="#000" />
<ellipse cx="843.2" cy="478.2" rx="22.6" ry="25.2" fill="#fff" stroke="#000" stroke-width="1.4" transform="rotate(-20 843.2 478.2)"/>
<g transform="matrix(1,0.0000,0,1,834.0,489.4)">
<text font-family="'Liberation Sans','DejaVu Sans',sans-serif" font-size="30.5" font-weight="bold" text-anchor="start" textLength="17.8" lengthAdjust="spacingAndGlyphs" fill="#000" >V</text>
</g>
<polygon points="636.7,481.4 657.7,485.3 655.7,545.0 676.8,549.3 642.6,609.4 613.5,537.1 635.3,540.9" fill="#0000ff" fill-opacity="0.6"/>
<g transform="matrix(1,0.1440,0,1,583.0,521.9)">
<text font-family="'DejaVu Sans','Liberation Sans',sans-serif" font-size="31.6" font-weight="bold" text-anchor="start" textLength="132.1" lengthAdjust="spacingAndGlyphs" fill="#fff" stroke="#fff" stroke-width="5.6" stroke-linejoin="round" filter="url(#b1)" aria-hidden="true">THz light</text>
<text font-family="'DejaVu Sans','Liberation Sans',sans-serif" font-size="31.6" font-weight="bold" text-anchor="start" textLength="132.1" lengthAdjust="spacingAndGlyphs" fill="#0000ff" >THz light</text>
</g>
<path d="M509.7 625.4 L574.9 634.4" stroke="#000" stroke-width="5.2" fill="none"/>
<polygon points="588.0,636.2 573.9,641.5 575.9,627.3" fill="#000" />
<path d="M698.0 653.4 L632.7 643.4" stroke="#000" stroke-width="5.2" fill="none"/>
<polygon points="619.7,641.4 633.8,636.3 631.7,650.5" fill="#000" />
<polygon points="557.5,716.5 600.0,723.0 600.0,697.5 643.0,752.0 600.0,796.5 600.0,771.0 557.5,765.0" fill="#1aad19" />
<g transform="matrix(1,0.148,0,1,577,690)"><rect x="0" y="0" width="23" height="26.5" fill="#ff7a7a"/></g>
<path d="M590.3 693.2 L465.9 799.6" stroke="#fff" stroke-width="3.5" fill="none" filter="url(#b1)"/>
<path d="M590.3 693.2 L465.9 799.6" stroke="#ff0000" stroke-width="1" fill="none"/>
<circle cx="590.3" cy="693.2" r="11" fill="#fff" filter="url(#b15)"/><circle cx="590.3" cy="693.2" r="8.4" fill="#ff0000"/>
<path d="M617.6 751.8 L662.9 814.9" stroke="#fff" stroke-width="3.5" fill="none" filter="url(#b1)"/>
<path d="M617.6 751.8 L662.9 814.9" stroke="#00a651" stroke-width="1" fill="none"/>
<circle cx="617.6" cy="751.8" r="11" fill="#fff" filter="url(#b15)"/><circle cx="617.6" cy="751.8" r="8.4" fill="#00a651"/>
<path d="M703.6 628.7 L863 695.4" stroke="#fff" stroke-width="15" stroke-linecap="round" fill="none" filter="url(#b3)"/>
<path d="M703.6 628.7 L863 695.4" stroke="#fff" stroke-width="10" stroke-linecap="round" fill="none" filter="url(#b2)"/>
<circle cx="703.6" cy="628.7" r="14.5" fill="#fff" filter="url(#b3)"/>
<circle cx="703.6" cy="628.7" r="12" fill="#fff" filter="url(#b2)"/>
<path d="M703.6 628.7 L863 695.4" stroke="#000" stroke-width="1" fill="none"/>
<circle cx="703.6" cy="628.7" r="8.4" fill="#000"/>
<g transform="matrix(1,0.0000,0,1,882.9,699.1)">
<text font-family="'Liberation Sans','DejaVu Sans',sans-serif" font-size="31.5" font-weight="bold" text-anchor="start" textLength="44.2" lengthAdjust="spacingAndGlyphs" fill="#fff" stroke="#fff" stroke-width="6.5" stroke-linejoin="round" filter="url(#b2)" aria-hidden="true">VO</text>
<text font-family="'Liberation Sans','DejaVu Sans',sans-serif" font-size="31.5" font-weight="bold" text-anchor="start" textLength="44.2" lengthAdjust="spacingAndGlyphs" fill="#000" >VO</text>
</g>
<g transform="matrix(1,0.0000,0,1,927.6,706.3)">
<text font-family="'Liberation Sans','DejaVu Sans',sans-serif" font-size="20.5" font-weight="bold" text-anchor="start" textLength="11.3" lengthAdjust="spacingAndGlyphs" fill="#fff" stroke="#fff" stroke-width="6.5" stroke-linejoin="round" filter="url(#b2)" aria-hidden="true">2</text>
<text font-family="'Liberation Sans','DejaVu Sans',sans-serif" font-size="20.5" font-weight="bold" text-anchor="start" textLength="11.3" lengthAdjust="spacingAndGlyphs" fill="#000" >2</text>
</g>
<g transform="matrix(1,0.0000,0,1,859.0,735.8)">
<text font-family="'Liberation Sans','DejaVu Sans',sans-serif" font-size="31.5" font-weight="bold" text-anchor="start" textLength="101.0" lengthAdjust="spacingAndGlyphs" fill="#fff" stroke="#fff" stroke-width="6.5" stroke-linejoin="round" filter="url(#b2)" aria-hidden="true">(Metal)</text>
<text font-family="'Liberation Sans','DejaVu Sans',sans-serif" font-size="31.5" font-weight="bold" text-anchor="start" textLength="101.0" lengthAdjust="spacingAndGlyphs" fill="#000" >(Metal)</text>
</g>
<path d="M447.2 622.1 L542.5 631.6 L467.1 665.2 A201 114.5 0 1 1 447.2 622.1 Z" fill="#00eef6" stroke="#17375e" stroke-width="1.6" stroke-linejoin="round"/>
<g transform="matrix(1,0.0000,0,1,101.5,642.9)">
<text font-family="'DejaVu Sans','Liberation Sans',sans-serif" font-size="38" font-weight="bold" text-anchor="start" textLength="339.0" lengthAdjust="spacingAndGlyphs" fill="#000" stroke="#000" stroke-width="0.4" >Protean dynamic</text>
</g>
<g transform="matrix(1,0.0000,0,1,95.8,688.1)">
<text font-family="'DejaVu Sans','Liberation Sans',sans-serif" font-size="38" font-weight="bold" text-anchor="start" textLength="348.9" lengthAdjust="spacingAndGlyphs" fill="#000" stroke="#000" stroke-width="0.4" >moving electrode</text>
</g>
<g transform="matrix(1,0.0000,0,1,169.9,732.5)">
<text font-family="'DejaVu Sans','Liberation Sans',sans-serif" font-size="38" font-weight="bold" text-anchor="start" textLength="201.7" lengthAdjust="spacingAndGlyphs" fill="#000" stroke="#000" stroke-width="0.4" >structure!</text>
</g>
<g transform="matrix(1,0.1415,0,1,328.3,805.4)">
<text font-family="'DejaVu Sans','Liberation Sans',sans-serif" font-size="26.7" font-weight="normal" text-anchor="start" textLength="264.4" lengthAdjust="spacingAndGlyphs" fill="#ff0000" >Localized electric field</text>
</g>
<g transform="matrix(1,0.1415,0,1,328.4,837.0)">
<text font-family="'DejaVu Sans','Liberation Sans',sans-serif" font-size="26.7" font-weight="normal" text-anchor="start" textLength="256.7" lengthAdjust="spacingAndGlyphs" fill="#ff0000" >enhancement caused</text>
</g>
<g transform="matrix(1,0.1415,0,1,328.6,867.8)">
<text font-family="'DejaVu Sans','Liberation Sans',sans-serif" font-size="26.7" font-weight="normal" text-anchor="start" textLength="198.9" lengthAdjust="spacingAndGlyphs" fill="#ff0000" >by a micro-sized</text>
</g>
<g transform="matrix(1,0.1415,0,1,328.4,899.5)">
<text font-family="'DejaVu Sans','Liberation Sans',sans-serif" font-size="26.7" font-weight="normal" text-anchor="start" textLength="240.3" lengthAdjust="spacingAndGlyphs" fill="#ff0000" >electrode gap of VO</text>
</g>
<g transform="matrix(1,0.1415,0,1,567.7,939.2)">
<text font-family="'DejaVu Sans','Liberation Sans',sans-serif" font-size="18" font-weight="normal" text-anchor="start" textLength="11.3" lengthAdjust="spacingAndGlyphs" fill="#ff0000" >2</text>
</g>
<g transform="matrix(1,0.1400,0,1,645.9,840.5)">
<text font-family="'DejaVu Sans','Liberation Sans',sans-serif" font-size="30.3" font-weight="normal" text-anchor="start" textLength="200.9" lengthAdjust="spacingAndGlyphs" fill="#1aa51a" >Carrier current</text>
</g>
<g transform="matrix(1,0.1400,0,1,659.9,876.8)">
<text font-family="'DejaVu Sans','Liberation Sans',sans-serif" font-size="30.3" font-weight="normal" text-anchor="start" textLength="172.1" lengthAdjust="spacingAndGlyphs" fill="#1aa51a" >increased by</text>
</g>
<g transform="matrix(1,0.1400,0,1,635.1,908.0)">
<text font-family="'DejaVu Sans','Liberation Sans',sans-serif" font-size="30.3" font-weight="normal" text-anchor="start" textLength="223.5" lengthAdjust="spacingAndGlyphs" fill="#1aa51a" >localized electric</text>
</g>
<g transform="matrix(1,0.1400,0,1,621.0,941.0)">
<text font-family="'DejaVu Sans','Liberation Sans',sans-serif" font-size="30.3" font-weight="normal" text-anchor="start" textLength="251.7" lengthAdjust="spacingAndGlyphs" fill="#1aa51a" >field enhancement</text>
</g>
</g></svg>
</body></html>
